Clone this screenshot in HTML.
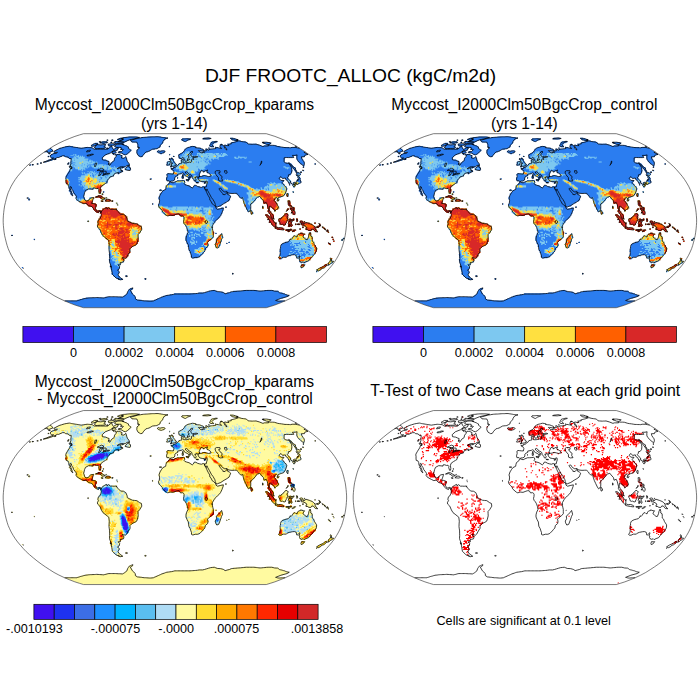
<!DOCTYPE html>
<html><head><meta charset="utf-8"><title>DJF FROOTC_ALLOC</title><style>
html,body{margin:0;padding:0;background:#fff}
body{width:700px;height:700px;position:relative;overflow:hidden;font-family:"Liberation Sans",sans-serif;color:#000}
svg{position:absolute;left:0;top:0}
.t{position:absolute;width:600px;text-align:center;white-space:nowrap;line-height:1}
</style></head><body>
<svg width="700" height="700" viewBox="0 0 700 700">
<defs><path id="co" d="M-121,-69.3 -115.8,-72 -113.2,-72.8 -110.6,-73.6 -108.1,-74.1 -105.6,-74.5 -104.5,-74.3 -103.4,-74 -102.2,-73.8 -100.9,-73.6 -99.7,-73.4 -98.4,-73.2 -97.1,-73 -96,-72.8 -94.8,-72.6 -93.6,-72.4 -91.7,-72.7 -89.7,-73 -87.7,-73.3 -86.5,-73.2 -85.2,-73.1 -84,-73 -82.7,-72.9 -81.7,-72.2 -80.7,-71.5 -79,-71.5 -77.4,-71.5 -75.8,-71.5 -74.4,-71.5 -73,-71.5 -71.5,-71.5 -70.1,-71.5 -68.7,-71.5 -67.3,-71.5 -63.3,-74.7 -62.9,-73.6 -62.4,-72.4 -61.4,-71.1 -58.6,-72.9 -56.5,-72.9 -57.5,-70.6 -59.5,-70.1 -61.7,-69.7 -64.4,-67.8 -66.9,-66.8 -69.5,-65.8 -72.7,-62.9 -72.4,-60.9 -70.8,-60.6 -69.2,-60.4 -67.5,-59.6 -65.7,-58.9 -66.6,-56.3 -65.1,-55.3 -63.2,-58.3 -60.8,-59.9 -60.3,-62.4 -59,-63.9 -58,-66.3 -56.6,-66.2 -55.1,-66.1 -54,-65.5 -52.8,-64.9 -53.5,-62.7 -51,-62.4 -49,-64.2 -48.3,-61.4 -47.6,-59.4 -46,-57.3 -45.4,-55.8 -48,-55.1 -49.6,-53.9 -51.3,-53.9 -52.9,-53.9 -54.6,-53.9 -57.7,-52.1 -55.9,-52.5 -54.1,-52.9 -54.3,-51.1 -51.8,-49.5 -54.9,-47.9 -56.9,-46.8 -56.4,-48.4 -57.4,-48.1 -60.3,-47.1 -61.5,-45.2 -61,-44.9 -62.9,-44.3 -64.9,-43.8 -65.7,-42.4 -67,-41 -67.8,-39.9 -67.9,-38.1 -69.4,-37.2 -71.5,-35.9 -73.7,-34.3 -74.5,-32.3 -74.1,-29.1 -74.4,-27.3 -75.3,-27.2 -76.2,-30 -76,-31.3 -76.9,-32.3 -78.3,-32.1 -80.5,-32.8 -81.9,-32.6 -82,-31.4 -83.9,-31.7 -86.2,-31.9 -89.4,-30.2 -90.3,-28 -91.2,-24.3 -90.2,-20.8 -88.8,-19.6 -86.4,-20.2 -84.6,-22.6 -81.3,-23.2 -82.1,-20.5 -83.3,-17.3 -81.1,-17.1 -78.7,-16.2 -79.2,-13.5 -79.4,-11.9 -78.4,-10 -77,-9.5 -75.6,-10.2 -73.5,-9.3 -74.1,-7.8 -74.6,-9.2 -75.7,-9.6 -76.4,-8 -77.5,-8.4 -78.9,-9.1 -80.7,-10.8 -81.4,-11.9 -82.8,-14 -84.7,-14.6 -86.5,-15.1 -88.6,-17.5 -91,-16.9 -93.3,-18 -95.9,-19.4 -98,-20.8 -98.8,-22.1 -98.4,-24.3 -99.9,-26.4 -101.2,-28 -101.9,-30 -103.2,-31.8 -103.5,-33.7 -104.5,-34.2 -104.9,-32.7 -104.1,-30.2 -103.2,-28 -102.5,-25.9 -102,-24.8 -102.7,-25.1 -104,-26.7 -103.9,-28.4 -105.5,-30 -105,-30.9 -105.9,-32.6 -106.2,-35 -107,-36.7 -108.7,-37.2 -108.9,-39.5 -108.8,-40.7 -109.1,-42.6 -109,-43.5 -107.4,-46.3 -105.2,-49.7 -104.4,-52 -102.7,-52.4 -103.3,-54 -104.8,-54.7 -104,-56.8 -104,-58.6 -103.8,-60.4 -103.7,-62.2 -105.6,-62.2 -106.7,-63.6 -109.3,-63.9 -110.5,-64.9 -112.4,-64.9 -116.2,-63.2 -117.7,-63.2 -119.9,-61.9 -123.7,-60.5 -128,-59.1 -131.7,-58.4 -128.2,-59.7 -123.2,-61.7 -121.2,-62.7 -123.3,-62.7 -124,-63.4 -124.7,-64.4 -124,-65.8 -121.4,-67 -118.3,-67.5 -117.4,-68.3 -119.8,-68.2 -120.9,-68.5ZM-105.7,-54.4 -103.7,-54 -103.3,-52.1 -104.4,-52.3 -105.6,-53.7ZM-43.8,-70.3 -47.2,-67.1 -49.3,-65.8 -51,-66.1 -52.9,-67.5 -54.7,-67.8 -56.6,-68.1 -56.3,-69 -54.8,-69.1 -53.3,-69.2 -51.5,-71.1 -52.7,-71.4 -53.8,-71.8 -53.8,-73.3 -55.3,-73.3 -56.8,-73.3 -58.3,-73.3 -59.3,-73.8 -60.3,-74.2 -59.1,-76 -57.5,-76.3 -55.9,-76.6 -54.5,-76.5 -53.1,-76.4 -52.1,-76.1 -51,-75.7 -49.8,-75.2 -48.5,-74.7 -47.5,-74.1 -46.4,-73.6 -46.5,-72.4 -45.4,-71.6 -44.2,-70.8ZM-79.8,-74.7 -80.2,-72.7 -78.8,-72 -77.3,-72.1 -75.9,-72.2 -74.4,-72.3 -72.6,-72.3 -70.7,-72.4 -69.2,-73.3 -70.2,-73.8 -71.1,-74.2 -69,-76 -71.1,-76.2 -72.7,-75.9 -74.2,-75.7 -75.9,-75.9 -77.6,-76ZM-83.9,-75.1 -83.1,-74.4 -81.1,-74.7 -77.1,-76.4 -77.2,-77.1 -78.8,-77.1 -80.4,-77.1 -82.5,-76ZM-57.1,-78.9 -55.8,-78.9 -54.4,-78.9 -53.1,-78.8 -51.7,-78.8 -50.4,-78.8 -47.9,-79.8 -45.2,-80.9 -43.4,-81.3 -41.7,-81.7 -40,-82 -38.4,-82.5 -36.9,-82.9 -35.4,-83.3 -36.4,-83.4 -37.4,-83.5 -38.4,-83.6 -39.5,-83.7 -40.6,-83.7 -41.7,-83.7 -42.8,-83.7 -44,-83.7 -45.1,-83.7 -46.4,-83.6 -47.7,-83.5 -49,-83.3 -50.3,-83.2 -51.6,-83.1 -53.6,-82.4 -52.6,-82 -51.6,-81.7 -53.9,-80.2ZM-60,-79.2 -59.8,-78.2 -59.5,-77.3 -58.2,-77.3 -56.9,-77.3 -55.6,-77.3 -54.3,-77.3 -53,-77.3 -51.7,-77.4 -50.8,-78.3 -52,-78.5 -53.1,-78.6 -54.1,-78.8 -55.2,-78.9 -56.3,-79.1 -57.5,-79.1 -58.8,-79.2ZM-74,-78.5 -75.1,-77.7 -73.7,-77.6 -72.3,-77.5 -70.9,-77.4 -69.1,-77.8 -67.2,-78.1 -67.8,-78.9 -69.4,-78.9 -70.9,-78.9 -72.5,-78.7ZM-66.7,-76.6 -66.4,-75.6 -66,-74.7 -64.1,-74.9 -62.2,-75.1 -59.4,-76.4 -60.5,-76.7 -61.7,-77 -63.4,-76.9 -65.1,-76.8ZM-57.4,-81.3 -56.6,-81 -55.7,-80.7 -54.9,-80.4 -53.3,-80.7 -51.8,-80.9 -51.7,-82 -52.7,-82.2 -53.8,-82.3 -54.8,-82.4ZM-62.6,-69.4 -62.7,-67.1 -61.1,-67.3 -59.5,-67.5 -58.6,-68.2 -60.3,-69.6ZM-49.9,-51.3 -46.9,-50.3 -44.8,-50.2 -44.3,-51.3 -44.5,-53 -46.1,-53.7 -45.4,-55.4 -47.2,-54.4 -49.3,-52.1ZM-44.5,-80.4 -43.7,-79.6 -42.9,-78.7 -41.7,-78.7 -40.4,-78.6 -39.2,-78.6 -38,-78.5 -37.5,-77.3 -37,-76 -37.1,-73.8 -35.2,-72.9 -37.9,-70.6 -38.1,-67.8 -36.8,-65.3 -35.5,-64.6 -34.3,-63.9 -32.7,-64.1 -31.2,-66.3 -29,-68.7 -27.4,-69.1 -25.9,-69.5 -24.1,-70.5 -22.4,-71.5 -21,-71.7 -19.6,-71.8 -18.1,-72 -16.6,-72.8 -15,-73.6 -14.6,-75.6 -12.2,-77.7 -11.8,-79.4 -10.1,-81.7 -8.5,-82.2 -6.9,-82.7 -8.1,-82.8 -9.2,-82.9 -10.3,-83 -11.5,-83.1 -12.5,-83.3 -13.6,-83.5 -14.7,-83.7 -15.7,-83.8 -16.8,-84 -17.9,-84 -19,-84 -20.2,-83.9 -21.3,-83.9 -22.4,-83.9 -23.7,-83.8 -25,-83.7 -26.2,-83.6 -27.5,-83.5 -28.8,-83.5 -30.1,-83.4 -31.4,-83.3 -32.9,-83.1 -34.4,-82.8 -36,-82.6 -37.4,-82.3 -38.9,-81.9 -40.7,-81.4 -42.6,-80.9ZM-17.7,-69.2 -16.1,-67.8 -13.6,-67.2 -12.1,-67.7 -10.6,-68.1 -9.7,-69.2 -11.1,-69.9 -12.9,-69.8 -15.1,-69.3 -16,-70.1ZM-79.4,-23.5 -76.4,-25 -74.1,-24.6 -72,-23.2 -69.5,-21.8 -72.6,-21.3 -73.4,-22.6 -76.5,-24 -78.5,-23.5ZM-70,-19.8 -67.9,-21.5 -65.6,-21.3 -64.2,-20.1 -66.7,-19.4 -67.7,-19.6ZM-73.6,-19.8 -71.7,-19.6 -71.9,-19.2 -73.5,-19.4ZM-63.1,-19.9 -61.7,-19.8 -61.9,-19.4 -63.2,-19.4ZM-73.5,-9.3 -71.6,-11.5 -70.2,-12.2 -68.2,-13.2 -67.8,-11.6 -66.3,-12.9 -64.5,-11.4 -62.6,-11.4 -60.7,-11.3 -58.8,-11.5 -57,-9.2 -54.3,-6.5 -51.4,-6.3 -49.1,-4.9 -47.7,-1.6 -47.7,0 -45.8,1.1 -42.4,2.7 -40.3,2.9 -38.1,3.1 -35.2,5.2 -33.5,5.9 -33.1,8.6 -35.1,11.9 -36.9,14 -36.8,16.2 -36.7,18.3 -37.5,21.6 -38.3,23.7 -40.1,24.8 -42.8,25.9 -44.9,28 -44.8,30.7 -46.5,33.4 -48.3,36.7 -49.5,37.7 -51.4,37.2 -52.7,36.9 -50.9,39.4 -51.4,41.3 -53.1,41.7 -54.8,42 -54.5,44.2 -56.8,44.2 -55.2,46 -55.8,48.4 -57.4,49.5 -55.4,51.1 -56.9,54.2 -55.5,56.3 -52.1,58.7 -54.8,59.2 -56.8,58.2 -58.9,57.3 -62.5,53.7 -63.1,50 -63.5,47.6 -63.9,45.2 -64.7,43.1 -65.4,41 -65.2,37.7 -65.3,35.6 -65.3,33.4 -65.6,31.3 -65.9,29.1 -65.8,26.4 -65.6,23.7 -66.1,19.7 -67.8,18.3 -69.8,16.7 -71.9,15.1 -73.5,12.4 -75.1,8.6 -77.3,6.5 -77.4,4.6 -76.3,3.2 -77,2.4 -76.8,0.5 -76.3,-0.9 -75.1,-1.6 -73.9,-4.3 -73.6,-6.5 -74.1,-7.8ZM130.4,-68.7 129,-68.4 133.1,-66.3 132,-66 131,-65.7 129.9,-65.3 129.5,-63.9 128,-63.9 126.5,-63.9 126.9,-61.9 128.3,-59.9 129.2,-58.7 129.5,-56.8 128.8,-54.7 126.1,-56.8 123,-59.9 122,-61.7 121.9,-63.9 122.2,-65.8 120.1,-65.3 117.5,-65.3 118.9,-63.2 117.4,-63.1 115.9,-63.1 113.7,-63.1 111.6,-63.2 109.2,-62.9 109.2,-60.9 109.1,-58.9 111,-57.6 113.7,-57.3 115,-55.8 116.6,-53.2 117,-50.6 116.6,-47.9 115.2,-46.1 113.6,-45.9 113.4,-44.2 112.2,-42.9 115.3,-39.9 116.1,-38.1 114,-37.1 112.8,-39.9 111,-41 110.4,-42.7 107.7,-42.1 106.1,-44.1 104.1,-42.3 105.9,-40.4 109.1,-40.2 107.3,-38.1 109.6,-35 111.2,-33.4 111.9,-31.8 111.2,-29.6 110.4,-27.3 108.6,-24.8 105.9,-24 103.3,-23 102.8,-21.9 101.4,-23.4 99.9,-22.1 99.2,-20.3 101.3,-17.8 103.5,-14 103.4,-12.4 101.3,-11.1 99.8,-9.4 99.5,-11.1 97.1,-13.2 95.5,-14.4 94.6,-14.4 94.2,-11.3 95.4,-8.9 96.6,-7.3 98.4,-5.2 98.7,-2.7 99.4,-1.5 96.6,-3 95.6,-5.9 93.5,-8.9 93.6,-11.3 92.9,-13.7 92.3,-16.2 91.3,-18.3 89.1,-17.3 88.6,-19.9 86.2,-22.6 84.9,-24.3 82.7,-23.5 81.4,-22.6 80.9,-21.5 79.2,-19.6 77.6,-17.8 75.7,-16.7 75.9,-14 75.8,-11.1 75.1,-9.9 73.7,-8.7 72.5,-10.5 70.8,-14 69.3,-17.3 68.3,-20.5 68,-23 66,-22.4 64.4,-24 63.5,-25.6 62.2,-26.7 61.7,-27.4 59.4,-27.3 57.1,-27.2 55.1,-27.4 53.1,-27.7 52.2,-29.1 49.9,-28.7 47.5,-30.1 45.8,-32.6 44.4,-32.3 44,-31.8 44.8,-30.7 46.4,-28.7 47.8,-27.2 48,-26.2 50.2,-26 52.2,-28.4 52.6,-26.4 54.6,-25.4 55.8,-24.3 54.8,-22 54.2,-20.5 52,-18.9 49.2,-17.3 45.9,-15.1 42.6,-13.8 41.2,-13.7 40.4,-16 40,-17.8 38.2,-21 36.5,-23.2 34.5,-27 32.7,-30.2 32,-31.8 31.6,-30.2 30.3,-31.1 29.8,-32.3 29.5,-33.6 31.3,-33.7 31.7,-35.6 32.4,-37.7 32.1,-39.7 29.5,-38.9 27.3,-39.1 25,-39.6 23.5,-41.5 23.1,-42.9 23.7,-43.6 25.4,-44.2 27.1,-44.4 29.1,-45.2 31.4,-44.7 33.7,-44.1 36.2,-44.7 35.5,-46.3 33.5,-47.7 31.9,-48.4 32.2,-50 32.9,-50.6 31.3,-50.1 29.7,-49.7 28.6,-48.4 28.5,-49.5 26.2,-50.1 25.4,-48.7 24.6,-46.8 24.1,-45.6 25.2,-44.4 23.2,-43.5 21,-44 20.9,-43.1 19.9,-43.4 20.5,-42 21.3,-41 20.6,-39.4 19.5,-39.7 18.8,-41.3 17.4,-42.8 16.9,-44.7 16.5,-45.5 13.8,-46.8 12.4,-48.7 11.7,-49.1 10.5,-48.8 10.7,-47.6 11.7,-46.8 13.9,-45.1 16.2,-43.3 14.9,-43.6 14.5,-42.6 15.1,-42 14.2,-41 13.9,-43.1 12.2,-44.2 10.7,-44.9 9.1,-46.2 8.8,-47.3 7.5,-47.8 6.5,-47.2 4.1,-46.7 2.8,-46.5 2.8,-45.1 0.7,-44.2 -0.3,-42.6 0,-41.7 -0.6,-40.5 -2,-39.7 -4,-39.6 -4.9,-38.8 -5.8,-39.9 -8,-39.9 -8.4,-41.7 -7.7,-44.2 -8,-46.3 -6.9,-47.1 -5.2,-46.9 -3.5,-46.7 -1.5,-46.6 -1,-49 -2.1,-50.9 -3.9,-51.6 -3.8,-52.2 -1.5,-52.2 -1.2,-53.4 0.2,-53.2 1.3,-54.2 2.9,-55.2 3.9,-56.8 5.6,-57.3 7.1,-57.7 6.5,-59.4 6.4,-60.9 8.2,-61.6 8.3,-59.9 8,-58.6 8.8,-57.8 11.2,-57.8 13,-58.2 14.8,-58.6 16,-58.2 16.7,-59.4 16.4,-60.9 17.5,-61.6 19,-61.2 18,-63.1 19.7,-63.2 21.4,-63.4 22.9,-63.9 21.2,-64.4 19.4,-64.1 17.5,-63.9 16.1,-64.9 15.9,-66.8 18.1,-68.7 17.2,-69.5 15.6,-68.7 15.4,-67.6 13.1,-65.8 13.1,-64.7 14.3,-63.9 12.8,-61.9 12.6,-60.1 11.3,-59.4 10.3,-59.3 9.8,-60.4 8.6,-62.9 8,-63.4 6.2,-62 4.2,-62.7 3.8,-64.9 3.7,-65.8 6.3,-67.3 8,-68.2 9.3,-69.8 10.5,-71.8 11.8,-72.5 13.1,-73.2 14.4,-73.5 15.7,-73.8 17.4,-74.3 19.3,-74.1 21.2,-73.6 20.6,-73.1 22.8,-72.8 24.9,-72.6 26.7,-71.9 28.5,-71.2 29.2,-70.1 27.6,-69.7 26.1,-69.9 24.6,-70.1 23.5,-70.1 25.4,-68.2 27.5,-67.6 27.6,-68.5 29.5,-68.2 28.7,-69.7 30.1,-69.8 31.5,-69.8 30.8,-71.8 32.2,-71.7 33.1,-70.4 35.1,-71.5 36.4,-71.7 37.8,-71.8 39.4,-72 41,-72.3 41.9,-73.2 43.4,-72.9 45,-72.6 46.7,-72.1 45,-74.2 45.6,-76 48,-75.8 49.1,-74.2 50.2,-72 52.1,-70.6 51.3,-72.4 49.5,-74.7 49.8,-75.6 52.2,-75.1 54.2,-75.1 52.8,-76.4 54,-76.5 55.2,-76.7 56.4,-76.8 55.9,-77.7 56.9,-77.9 58,-78.2 59,-78.4 60,-78.6 61,-78.9 62.1,-79.3 63.1,-79.6 64,-79.9 67,-79.1 68.5,-78.9 70,-78.7 71.5,-78.5 73.2,-76.7 74.6,-76.6 76,-76.5 77.4,-76.4 78.6,-76.5 79.9,-76.5 81.1,-76.6 84.4,-75.6 88,-74.2 89.5,-74.7 90.9,-74.7 92.2,-74.7 93.6,-74.7 93,-75.6 94.6,-75.5 96.2,-75.4 97.8,-75.4 99.4,-75.3 102.9,-74.2 104.7,-73.9 106.5,-73.7 108.3,-73.4 110.1,-73.1 111.4,-73.1 112.9,-73 114.4,-73 115.8,-72.9 117.2,-73.3 119.1,-73.3 120.9,-73.2 122.9,-72.8 124.8,-72.4M-124.8,-72.4 -123.7,-71.8 -123.2,-71.2 -122.7,-70.6 -121.9,-69.7 -125.7,-68.2 -127.8,-68.5 -127.6,-69.7 -130.4,-68.7M-4.7,-53.7 -2.5,-54.3 -0.7,-54.6 1.1,-54.9 1.4,-56.5 0.2,-57 -0.2,-58.3 -1.3,-59.4 -1.7,-59.9 -1.6,-61.5 -3.1,-61.6 -2.5,-62.5 -3.9,-62.5 -4.5,-61.4 -4.4,-59.9 -3.8,-58.7 -2.4,-57.8 -2.4,-57.1 -3.6,-57.1 -3.4,-56.1 -4.2,-55.6 -2.9,-55.2 -3.7,-54.7ZM-8.2,-55.4 -5.1,-56 -4.8,-58 -4.4,-58.3 -5,-59.1 -6.6,-59.1 -8,-58 -7.5,-57 -8.4,-55.8ZM34.7,-74.7 36,-74.1 37.4,-74 38.8,-73.9 37,-76 37.8,-76.8 38.5,-77.7 39.5,-78.1 40.5,-78.5 41.5,-78.8 42.5,-79.2 41.1,-79.4 40,-79.2 38.9,-78.9 37.8,-78.7 36.7,-78.5 36.1,-77.5 35.4,-76.4ZM6.6,-80.9 8,-80.2 9.3,-79.4 10.6,-79.1 11.7,-79.8 12.8,-80.5 13.9,-80.9 14.9,-81.3 16,-81.7 14.6,-81.8 13.2,-81.9 11.8,-82 10.6,-81.9 9.5,-81.8 8.3,-81.8 7.1,-81.7ZM57.3,-80.9 59.2,-80.5 61.3,-80.2 62.3,-80.5 63.3,-80.9 60.7,-81.7 58.3,-82.4 56.8,-82.4 55.4,-82.4ZM87.6,-78 91.8,-76.4 94,-76.2 94.8,-76.7 95.6,-77.2 96.3,-77.7 94,-78.1 91.7,-78.5 90.5,-78.5 89.2,-78.5 87.9,-78.5ZM27.7,-81.9 28.9,-81.8 30.1,-81.8 31.4,-81.7 32.6,-81.7 33.8,-81.9 35.1,-82 36.3,-82.2 34.9,-82.5 33.4,-82.9 32.4,-82.8 31.3,-82.6 30.2,-82.5 29.1,-82.4ZM113.8,-58.1 115.8,-56.8 118.6,-53.7 120.5,-52.7 120.8,-50.6 121.8,-49.5 120.7,-49.5 119.2,-51.6 116.7,-54.7 114.4,-57.1ZM122.1,-44.7 122.3,-45.8 124.6,-45.2 125.6,-46.6 124.5,-47.6 121,-49 121.9,-46.8 121.4,-46.3 121.4,-45.6ZM123.4,-44.5 125.1,-42.6 125.2,-41 126.2,-38.5 125.7,-37.7 124.9,-37.4 123.4,-37.3 122.8,-36.1 121.6,-37.2 119.6,-36.7 118.3,-36.7 118,-37.2 119.2,-38.3 121.9,-38.5 122,-40.1 123.3,-40.3 123.6,-41.8 122.8,-43.6 123,-44.4ZM117.6,-36.1 118.9,-36.2 119.7,-35.4 119.8,-34 119,-33.6 118,-35 117.5,-35.8ZM119.6,-36.7 121.3,-36.9 121.5,-36.1 120.6,-35.4 119.8,-35.9ZM112.3,-27.2 113.2,-27 113,-23.7 112.1,-24.6 111.8,-25.9ZM102,-20.8 103.5,-21.6 104.1,-21 103.4,-19.7 102.2,-20.1ZM75.8,-10.5 77.2,-9.2 77.8,-7.5 77.1,-6.7 76.2,-6.5 75.9,-8.6ZM113.2,-19.9 114.8,-19.8 115,-17.8 114.7,-16.2 115.8,-15.1 117.4,-14 117,-13.7 115.4,-14.9 114.2,-14.9 113.3,-16.2 113.4,-17.8ZM116.1,-7.5 117.4,-9.4 119.2,-10.5 120.3,-8.6 120.1,-6.8 119.3,-6.1 118,-7 117.8,-8.3ZM117.7,-13.5 118.9,-13.3 119.3,-11.3 118.4,-11 118.1,-12.4ZM115.6,-12.7 116.8,-12.4 117.3,-10.8 116.9,-9.9 116.3,-10.8 115.8,-11.3ZM111.4,-9.1 113.4,-11.3 113.1,-12.2 112.5,-10.8 111.4,-9.4ZM103.9,-1.6 104.6,-2.2 105.9,-1.7 106.2,-2.8 107.7,-3.5 108.6,-5 110,-5.9 111.1,-7.5 112,-6.7 113.6,-5.6 112.4,-4.6 112.2,-2.7 113.5,-1.1 112.1,-0.5 112.1,1.1 110.9,2.2 110.6,4 109.2,4.4 107.7,3.6 106.6,3.8 105.1,3.1 104.9,1.4 104,0ZM90.8,-6 92.9,-5.6 94.8,-3.5 95.8,-2.4 98.2,-0.5 99,1.1 99.6,2.2 101,3.2 100.8,6.3 99.6,6.4 97.5,4.3 96.1,2.2 94.4,-0.5 93.9,-1.9 92.5,-3.6 91,-5.2ZM100.1,7.3 101.4,6.5 103.3,7.1 105.4,6.9 107.2,7.4 108.9,8.4 108.7,9.4 105.5,8.9 102.7,8.4 101.2,8ZM114.3,-0.9 115.2,-1.4 117.3,-1 119.2,-1.7 118.8,-0.4 115.4,-0.4 114.5,0.9 115.9,1.1 117.6,0.9 116.3,1.9 115.9,2.2 116.6,3.5 117.2,4.5 116.7,5.9 115.9,5.2 115.3,4.1 114.8,3.1 114.7,5.9 113.8,5.9 113.9,3.8 113.3,2.9 114.3,0.1ZM124.9,0.9 126.4,0.4 127.8,0.9 128.7,3.6 131.1,1.7 134.4,2.8 137.7,4.1 139.1,5.7 140.7,6.5 139.9,7.3 141.1,9.5 142.9,11.2 140.5,11 138.8,8.8 137,8.3 135.9,9.9 134,9.8 132.2,8.7 131.2,9.1 131.1,7.5 132,7.2 131.4,5.9 129.1,4.7 127.2,4.1 126.6,4.3 125.8,3 127.5,2.5 125.9,2.2 124.8,1.5ZM117.2,11.1 118.8,9.3 120.7,9.1 119.7,10.2 117.7,11ZM110.9,9.1 113.1,8.9 116.8,8.8 116.7,9.5 113.1,9.5 111.2,9.7ZM113,10.2 114.7,10.6 113.9,11.1 113,10.6ZM121.6,-1.9 122.5,-1.6 122.8,-0.3 122.1,0.9 121.8,-0.5ZM122,3.5 124.4,3.2 124.7,4 122.3,3.8ZM141.4,6.1 143.3,5.9 144.8,4.5 145.1,5.4 143.8,6.7 141.8,6.8ZM143.8,2.8 145.4,3.8 145.8,5.1 145.1,4.3 143.8,3.1ZM147.3,5.9 148.4,7 148,7.4 147.3,6.5ZM151.5,10 152.7,10.6 152.2,10.8 151.5,10.4ZM149.4,7.9 151.2,8.9 150.7,9.2 149.3,8.2ZM157.3,16.2 157.9,16.8 157.5,17.3 157.1,16.6ZM153.6,21.8 155.5,23.5 155.8,24.2 154.6,23.5 153.5,22.2ZM166.8,18.9 167.9,18.9 167.7,19.6 166.6,19.6ZM106.1,24.3 106.7,23.5 109.2,22.2 111.5,21.6 113.4,21.1 115,19.4 115.1,18.3 116.3,18.8 117.3,17.7 118.6,15.6 120.1,15 121.1,16.1 122.3,16.1 122.7,14.6 123.7,13.4 125.6,13 125.7,12.3 128.2,13.2 129.6,13.2 128.7,14.6 128,16.2 129.6,17.5 131.1,18.9 132.5,18.9 133.6,16.2 134.1,13.7 135.2,11.5 135.9,13.8 135.8,15.4 137.2,16.2 137.4,18.9 137.3,20.4 138.7,21.6 139.5,23.9 140.4,25.3 141.7,27.3 141.6,29.6 141,31.3 139.2,34 137.1,35.9 135.3,38.1 133.6,40.2 131.2,41 129.2,42.1 128.3,41.2 126.9,41.8 125.1,41.1 124.6,39.9 125,38.6 124,38.3 125,35.8 125,35.1 122.4,37.5 121.9,37.5 121.6,35.6 121.3,34.7 119.4,34 117.5,34.2 114.5,34.8 112.4,35.6 111.5,36.6 108.4,36.6 106.1,37.7 104.4,37.6 103.7,37 105.2,34.5 105.3,32.3 105.3,30.2 105.1,28 105.7,27.5 105.6,25.9ZM126.7,44 128.1,44.3 129.8,44.1 127.9,46.5 126.3,47 126,45.8ZM155.7,37.1 156.5,38.1 156.6,39.4 156.5,40.5 158.7,40.6 157,42.3 155.9,42.6 154.6,43.9 152.7,44.8 153.7,43.3 153.2,42.5 154.9,41.2 155.9,39.4 155.4,38ZM151.4,43.6 152.2,44.4 149.9,46.3 148.8,47.2 147.1,47.7 145.2,49.4 143.5,50.1 142.2,49.7 141.7,49.3 144.7,47.4 147.6,46.1 149.4,44.9 150.8,44ZM46.7,12.9 47.7,16.7 46.6,18.9 45.4,22.6 43.8,26.8 41.9,27.5 40.7,25.3 40.4,23.5 41.7,21.3 41.4,18.5 43.4,16.9 45.4,14.6ZM29.8,-32.3 29.5,-33.6 28.2,-34 26.5,-33.3 24.6,-33.7 22.8,-34.2 20.9,-35.3 19.5,-35.5 18.3,-33.4 17.4,-32.7 14.1,-34.8 11.8,-35.5 10,-36.1 9.2,-37 9.9,-38.3 9.4,-39.8 8.7,-40.2 6.2,-39.9 4.5,-39.8 2.7,-39.8 0,-38.7 -1.8,-37.8 -4.7,-38.7 -5.4,-38.4 -6.1,-36.7 -8.4,-35 -9,-32.9 -9.2,-31.3 -12,-29.9 -13.4,-28 -14.9,-25.6 -15.9,-22.6 -15.3,-20.5 -15.6,-17.3 -16.5,-15.8 -15.8,-13.5 -14.2,-11.9 -12.6,-10 -12.4,-8.8 -10.9,-7.4 -8.6,-5.4 -7.1,-4.7 -4.8,-5.5 -1.9,-5.2 1,-6.3 2.4,-6.8 4.3,-6.8 5.7,-4.6 7.6,-4.9 8.6,-4.3 9.2,-3.2 9.1,-1.1 8.6,0.8 9.1,2.7 10.5,4.3 11.4,5.9 11.7,6.5 12.6,9.2 13.1,11.9 11.8,14.6 11.1,17.3 11.1,19.4 12.2,22.1 13.5,24.5 13.9,28.6 15.2,30.9 16,33.4 16.6,35 16.6,36.9 18,37.5 20.3,36.7 23,36.7 24.9,35.9 27.4,33.4 28.4,32.1 29.9,30.5 30.5,27.9 32.8,25.9 33.1,23.7 32.6,21.6 34.3,19.9 36.7,18.1 38.4,16.2 38.4,14 38.4,11.9 37.9,9.7 37.4,7.5 36.9,6.5 37.6,4.9 39.1,2.2 40.5,0.3 42.4,-1.6 44.3,-3.2 45.7,-5.1 47.1,-8.1 48.2,-11.1 48.5,-12.7 46,-12.2 42.7,-11.3 41.1,-12.4 40.9,-13.7 38.7,-16 37.3,-16.9 36.2,-19.4 35,-20.5 34.8,-22.6 33.2,-25.3 31.9,-28 30.9,-30.2ZM11.1,-41 13.7,-41.2 13.6,-39.6 11.1,-40.5ZM7.2,-44.2 8.5,-44.2 8.5,-42.3 7.5,-42ZM7.5,-45.8 8.2,-46.2 8.2,-44.7 7.6,-44.9ZM21.1,-38.3 23.6,-38.1 23.4,-37.7 21.2,-38ZM29,-37.7 30.9,-38.4 30.6,-37.5 29.3,-37.3ZM-110.3,80.2 -109.1,80.2 -107.8,80.2 -106.6,80.2 -105.4,80.2 -104.2,80.2 -102.9,80.2 -101.7,80.2 -100.5,80.2 -99.3,80.2 -98,80.2 -97.3,79.9 -96.5,79.7 -95.7,79.4 -95,79.2 -94.2,78.9 -93.3,78.7 -92.5,78.5 -91.6,78.2 -90.8,78 -89.9,77.7 -88.8,77.6 -87.7,77.5 -86.6,77.3 -85.5,77.2 -84.3,77.1 -83.1,77.1 -81.9,77 -80.6,77 -79.4,76.9 -78.2,76.8 -76.8,76.9 -75.3,77 -73.9,77.1 -72.5,77.2 -71.1,77.3 -70.2,77 -69.1,76.8 -68.1,76.5 -67.1,76.2 -66,76 -64.7,76 -63.4,76 -62.1,76 -60.7,76 -59.4,76 -58,76.1 -56.6,76.2 -55.2,76.2 -53.9,76.3 -52.5,76.4 -51.3,75.8 -50.2,75.1 -49.1,74.2 -48,73.3 -47.3,71.1 -46.5,69.9 -45.7,68.7 -44.5,68.2 -43.3,67.6 -42,67.1 -42.3,68.2 -43.4,69 -44.5,69.7 -43.5,71.5 -42.5,73.3 -39.6,76 -39.5,78.1 -37.4,79.4 -36,79.5 -34.6,79.7 -33.3,79.8 -32,80 -30.6,80.2 -29.4,80.2 -28.1,80.3 -26.8,80.4 -25.6,80.5 -24.3,80.5 -22.9,80.4 -21.4,80.2 -20.2,79.6 -19,79.1 -17.7,78.5 -16.6,78 -15.5,77.5 -14.3,77 -13.1,76.4 -11.9,76 -10.6,75.6 -9.4,75.1 -8.1,74.7 -6.5,74.5 -5,74.3 -3.4,74.1 -1.7,73.7 0,73.3 1.4,73.3 2.7,73.3 4.1,73.3 5.5,73.3 6.9,73.3 8.2,73.3 9.6,73.3 11,73.3 12.3,73.3 13.7,73.3 15.1,73.3 16.5,73.2 17.9,73.1 19.3,73 20.7,72.9 22.5,72.7 24.3,72.4 26,72.4 27.7,72.4 29.7,71.9 31.6,71.3 33.6,70.7 35.7,70.1 37.5,69.9 39.4,69.7 40.9,70.3 42.4,70.9 44.1,71 45.8,71.1 47.3,71.5 48.8,72 50.2,73.1 52.3,72.5 54.4,72 56.4,71.1 57.9,70.9 59.4,70.8 60.9,70.7 62.5,70.5 64,70.4 65.5,70.3 67.1,70.1 68.6,70 70.1,69.8 71.7,69.7 73.1,69.7 74.6,69.7 76,69.7 77.4,69.7 78.9,69.7 80.2,69.8 81.5,70 82.7,70.1 84,70.3 85.3,70.4 86.9,70.3 88.5,70.1 90,70 91.6,69.8 93.2,69.7 95,69.7 96.8,69.7 98.2,70 99.5,70.4 101.2,70.5 102.8,70.6 103.8,71.3 104.6,72 105.7,72.3 106.7,72.5 107.7,72.8 108.7,73.1 109.7,73.3 110.7,73.8 111.7,74.2 113.1,74.5 114.4,74.7 112.2,76 109.1,76.8 106,77.7 100.7,79.8 101.6,80 102.5,80.3 103.3,80.5 104.7,80.5 106.1,80.4 107.5,80.3 108.9,80.2 110.3,80.2M-146.4,-21.1 -145.6,-21.8 -145.1,-21.1 -145.9,-20.5ZM-148.1,-22.6 -147.2,-22.9 -146.6,-22.6 -147.4,-22.4ZM-87.4,0.6 -86.8,0.2 -86.2,0.6 -86.8,1.1ZM-49.5,55.5 -48.6,55 -47.3,55.5 -48.2,55.9ZM-30.3,58.2 -29.5,57.9 -28.6,58.2 -29.4,58.6ZM57.1,53 58,52.5 58.6,53 57.6,53.4ZM50.3,-13.5 50.9,-13.7 51.6,-13.5 51,-13.3ZM51.6,22.7 51.9,22.5 52.2,22.7 51.9,23ZM53.7,21.9 54,21.6 54.2,21.9 53.9,22.2ZM87.7,-14.6 88.1,-14.3 88.1,-12.4 87.7,-12.5ZM-15.6,-30.4 -14.4,-30.7 -13.2,-30.4 -14.4,-30.1ZM-22.8,-16.7 -22.4,-17.1 -21.9,-16.7 -22.4,-16.3ZM-25.1,-41.5 -24.3,-41.7 -23.6,-41.5 -24.4,-41.3ZM-5.5,-65.8 -5.2,-66.1 -4.9,-65.8 -5.2,-65.6ZM-6,-74.2 -5.6,-74.4 -5.2,-74.2 -5.6,-74.1ZM120.3,-74.4 120.5,-74.7 121.5,-74.4 121.4,-74.1ZM125.2,-48.4 125.9,-48.8 127,-48.4 126.3,-48.1ZM127.4,-50.3 127.9,-50.6 128.8,-50.3 128.3,-50.1ZM127.9,-53.5 128.2,-53.8 129.1,-53.5 128.8,-53.2ZM-134.8,-57.6 -133.7,-57.9 -133,-57.6 -134.2,-57.4ZM-138.1,-56.7 -137.1,-56.9 -136.6,-56.7 -137.5,-56.5ZM-143,-56 -141.9,-56.2 -141.3,-56 -142.4,-55.8ZM-145.7,-55.6 -144.8,-55.8 -144.4,-55.6 -145.3,-55.4ZM139.8,-56.7 140.1,-56.9 140.9,-56.7 140.5,-56.5ZM-120.4,-61.4 -119.1,-61.9 -118.9,-61.4 -120.2,-60.9ZM-126.4,-67.2 -125.2,-67.4 -124.6,-67.2 -125.8,-66.9ZM-127,-64 -126.2,-64.3 -126.1,-64 -126.9,-63.7ZM-106.7,-57.9 -105.8,-57.8 -106.9,-56 -107.3,-56.6ZM-54.4,-49.9 -53.6,-50.1 -52.9,-49.9 -53.7,-49.7ZM-53.3,-53.2 -52.2,-53.4 -51.3,-53.2 -52.4,-52.9ZM-58.6,-11.2 -58.2,-11.5 -57.8,-11.2 -58.2,-10.9ZM-72.6,-26.3 -72.2,-27.1 -72,-26.3 -72.4,-25.6ZM-72,-28.6 -71.5,-28.8 -71,-28.6 -71.5,-28.4ZM-69.2,-22.9 -68.7,-23.1 -68.3,-22.9 -68.7,-22.6ZM-58.2,-17.5 -58,-17.7 -57.7,-17.5 -58,-17.2ZM-57.8,-15.7 -57.6,-16 -57.4,-15.7 -57.7,-15.5ZM-56.5,58.1 -56.3,57.7 -55.7,58.1 -55.9,58.6ZM-64.6,45.1 -63.9,45.2 -63.5,46.7 -64.3,46.5ZM2.2,-42.7 2.6,-42.9 3.1,-42.7 2.6,-42.4ZM37.3,6.6 37.5,6.1 37.7,6.6 37.5,7.1ZM41,12.7 41.2,12.5 41.5,12.7 41.2,13ZM120.1,3.7 120.7,3.3 121.2,3.7 120.7,4ZM129.2,1.1 129.7,0.8 130.2,1.1 129.7,1.3ZM127.7,6.7 128.1,5.9 128.4,6.7 128,7.4ZM124.7,8.2 125.1,7.7 125.4,8.2 125,8.7ZM100.4,2.4 101.1,1.9 101.7,2.4 101.1,2.9ZM92.8,-1.2 93.1,-1.8 93.4,-1.2 93.1,-0.6ZM94.1,1.5 94.4,1 94.7,1.5 94.4,2ZM139.7,2.3 140.2,2 140.6,2.3 140.2,2.5ZM152.6,9.1 153.1,10 152.9,10.4 152.6,9.5ZM148.9,7.2 149.8,7.9 149.6,8.1 148.9,7.5ZM153.1,11.3 153.6,11.1 154,11.3 153.5,11.6ZM158.1,19.1 158.4,18.8 158.5,19.1 158.2,19.4ZM158.8,20.3 159,20 159.1,20.3 158.9,20.5ZM168.3,17.9 169,17.6 169.6,17.9 168.9,18.2ZM-163.6,14.8 -163,14.6 -162.4,14.8 -162.9,15ZM-140.8,19 -140.6,18.7 -140.3,19 -140.5,19.2ZM141.5,50.6 142,50.3 142.1,50.6 141.6,50.8ZM-152,47.4 -152,47.1 -151.5,47.4 -151.6,47.6ZM118.2,-28.6 118.2,-29.1 118.6,-28.6 118.5,-28.1ZM114.1,-36 114.4,-36.2 114.9,-36 114.6,-35.8ZM116.4,-37.1 116.4,-37.5 116.7,-37.1 116.7,-36.7ZM122.7,-41 122.7,-41.3 123,-41 123,-40.6ZM-1.2,-64.2 -1,-64.7 -0.8,-64.2 -1,-63.7ZM-5.7,-61.7 -5.4,-62.3 -5.2,-61.7 -5.5,-61.1ZM14.2,-61.4 14.4,-61.9 14.6,-61.4 14.5,-60.9ZM13,-60.6 13.1,-61.1 13.2,-60.6 13.2,-60.1ZM33.4,-72.5 33.8,-72.9 34.5,-72.5 34.1,-72.2ZM40.4,-73.3 40.6,-73.7 41.2,-73.3 41,-73ZM45.8,-76.2 46.2,-76.5 46.9,-76.2 46.5,-76ZM61.4,-80.5 61.9,-80.9 63.2,-80.5 62.7,-80.2ZM87.5,-78.1 87.7,-78.5 89.1,-78.1 88.9,-77.7ZM-37.2,-73.2 -36.6,-73.4 -36.3,-73.2 -36.9,-72.9ZM-54.4,-71.2 -53.6,-71.6 -53.3,-71.2 -54.1,-70.9ZM-61.8,-66.5 -61.1,-66.8 -60.6,-66.5 -61.4,-66.3ZM-59.9,-65.8 -59.4,-66.2 -59.3,-65.8 -59.9,-65.4ZM-66.3,-56.8 -65.7,-57 -65.3,-56.8 -65.9,-56.6ZM-52.5,-76.2 -51.5,-76.4 -50.9,-76.2 -51.9,-75.9ZM-68.4,-72.4 -67.3,-72.8 -66.9,-72.4 -68,-72ZM-75.8,-78.9 -74.5,-79.3 -74.2,-78.9 -75.5,-78.6ZM-64.2,-78.4 -63,-78.8 -62.7,-78.4 -63.9,-78ZM-61.3,-77.9 -60.6,-78.1 -60.3,-77.9 -61,-77.7ZM-63.5,-80.5 -62.2,-80.9 -61.7,-80.5 -63,-80.2ZM-68.2,-80.5 -67.2,-80.7 -66.7,-80.5 -67.7,-80.4ZM40.1,-49 41.5,-50 43.2,-50 44.9,-50 45.3,-48.4 43.7,-47.9 45.1,-45.8 47.2,-44.2 46.8,-42 48.1,-39.9 45.5,-39.6 43.6,-40.4 43.5,-43.1 41.2,-45.8 40.4,-47.4ZM-77.8,-50.3 -75.6,-51.4 -73.5,-52.4 -71.3,-51.6 -71.6,-50 -73.7,-50 -76.1,-50.2ZM-75,-49 -72.2,-49.5 -73.5,-47.4 -75.2,-45.2 -76.4,-44.9 -75.2,-47.4ZM-71.8,-49.5 -68.8,-49.5 -68.6,-47.9 -71.4,-46.3 -71.6,-47.9ZM-72.5,-45.2 -70.4,-45.8 -68.3,-46.3 -65.5,-46.8 -65.4,-47.4 -68.4,-47.2 -72.1,-45.6ZM-79.8,-57.3 -78,-57.6 -79.4,-54.2 -80.4,-54.2ZM-87.7,-70.1 -86.1,-70.4 -84.4,-70.6 -85.1,-69.2 -86.7,-69 -88.4,-68.7ZM-87.9,-65.3 -85.4,-66 -83,-66.6 -81.4,-66.3 -85.3,-64.9 -87.7,-64.7ZM30.3,0.3 31.5,-0.4 32.6,0.5 32.4,2.2 31,3 30.2,1.6ZM85,-55.3 85.7,-56.3 86.7,-57.8 86.9,-59.6 86.5,-59.6 86.1,-57.5 85.3,-55.8ZM49.6,-50 51.7,-50 52.3,-47.9 50.8,-47.2 49.8,-48.4Z"/><path id="ol" d="M91.4,-87 95.3,-85.8 100,-84.3 105.2,-82.3 110.7,-80 116,-77.5 120.9,-74.9 125.3,-72.1 129.6,-69.3 133.8,-66.4 137.8,-63.4 141.6,-60.3 145.3,-57.2 148.7,-54.1 151.7,-50.9 154.6,-47.6 157.3,-44.4 159.7,-41.1 161.8,-37.8 163.7,-34.5 165.3,-31.2 166.7,-28 167.8,-24.7 168.7,-21.4 169.5,-18.1 170.3,-14.8 170.8,-11.5 171.2,-8.2 171.5,-4.9 171.7,-1.6 171.7,1.6 171.5,4.9 171.2,8.2 170.8,11.5 170.3,14.8 169.5,18.1 168.7,21.4 167.8,24.7 166.7,28 165.3,31.2 163.7,34.5 161.8,37.8 159.7,41.1 157.3,44.4 154.6,47.6 151.7,50.9 148.7,54.1 145.3,57.2 141.6,60.3 137.8,63.4 133.8,66.4 129.6,69.3 125.3,72.1 120.9,74.9 116,77.5 110.7,80 105.2,82.3 100,84.3 95.3,85.8 91.4,87 -91.4,87 -95.3,85.8 -100,84.3 -105.2,82.3 -110.7,80 -116,77.5 -120.9,74.9 -125.3,72.1 -129.6,69.3 -133.8,66.4 -137.8,63.4 -141.6,60.3 -145.3,57.2 -148.7,54.1 -151.7,50.9 -154.6,47.6 -157.3,44.4 -159.7,41.1 -161.8,37.8 -163.7,34.5 -165.3,31.2 -166.7,28 -167.8,24.7 -168.7,21.4 -169.5,18.1 -170.3,14.8 -170.8,11.5 -171.2,8.2 -171.5,4.9 -171.7,1.6 -171.7,-1.6 -171.5,-4.9 -171.2,-8.2 -170.8,-11.5 -170.3,-14.8 -169.5,-18.1 -168.7,-21.4 -167.8,-24.7 -166.7,-28 -165.3,-31.2 -163.7,-34.5 -161.8,-37.8 -159.7,-41.1 -157.3,-44.4 -154.6,-47.6 -151.7,-50.9 -148.7,-54.1 -145.3,-57.2 -141.6,-60.3 -137.8,-63.4 -133.8,-66.4 -129.6,-69.3 -125.3,-72.1 -120.9,-74.9 -116,-77.5 -110.7,-80 -105.2,-82.3 -100,-84.3 -95.3,-85.8 -91.4,-87Z"/><clipPath id="cp"><use href="#ol"/></clipPath>
<g id="m1"><g clip-path="url(#cp)" fill="none" stroke-width="1.12"><path stroke="#2b7df0" d="M-92,86.80h184M-93.2,86.49h186.4M-94.4,86.13h188.8M-95.7,85.72h191.4M-97.1,85.27h194.2M-98.6,84.78h197.2M-100,84.25h200M-101.6,83.69h203.2M-103.2,83.09h206.4M-104.8,82.46h209.6M-106.5,81.79h213M-108.1,81.10h216.2M-109.8,80.38h219.6M-97.6,79.63h64.4m12.2,0h122.5M-95.1,78.87h57.4m18.8,0h121.9M-92.5,78.09h53.5m21.4,0h122.9M-89,77.30h49.5m24.1,0h123.8M-69.7,76.50h30.5m25.2,0h124.6M-51.5,75.69h11.8m28,0h124.5M-50.4,74.87h10.2m30.9,0h123.5M-49.3,74.04h7.8m36.3,0h117.3M-48.1,73.20h6.1m41.1,0h110.8M-47.8,72.35h5.3m65.9,0h26.1m2.5,0h55.7M-47.4,71.49h4.5m73.5,0h17.7m6.9,0h49.2M-47,70.62h3.6m77,0h9m15.8,0h45.4M-46.6,69.75h2.8m80.5,0h3.7m27.6,0h14.4m7.1,0h9.1M-46.2,68.86h3.8M-44.8,67.97h2.9M-56.9,58.70h5.1m21.8,0h1.1M-58.3,57.74h5.1m23,0h1.1M-59.8,56.78h5.2M-61.2,55.81h6.2m6,0h1.1M-61.7,54.84h5.3m7.1,0h1.1M-63.1,53.86h6.3M-63.5,52.88h7.4m113.3,0h1.1M-62.9,51.90h7.5M-63.3,50.92h7.5m196.9,0h1.2M-63.6,49.93h7.5m198,0h2.3M-64,48.94h7.6m198.1,0h4.3M-64.4,47.94h8.7m199.2,0h3.4M-153.1,46.95h1.2m88.3,0h8.7m180.9,0h1.2m18.2,0h4.4M-65.1,45.95h9.9m180.8,0h3.4m18.3,0h3.3M-64.3,44.95h8.8m181.8,0h3.3m19.5,0h2.3M-64.6,43.95h9.9m181.6,0h3.4m19.6,0h2.3m1,0h1.2M-64.9,42.94h11.1m206.6,0h3.4M-65.2,41.94h12.2m178.9,0h1.2m1,0h2.3m23.1,0h4.6M-65.5,40.93h14.5m175.2,0h7.9m22.1,0h4.6M-65.8,39.92h14.6m176,0h9m21,0h2.4M-66.1,38.91h15.8m174.4,0h11.4m20,0h1.2M-65.2,37.90h13.6m156,0h2.4m16.7,0h12.5m19,0h2.3M-65.5,36.89h17.1m65.3,0h5.7m81.1,0h4.6m13.4,0h1.3m1,0h12.5M-65.7,35.88h18.2m63.3,0h9.2m79.1,0h8m8.9,0h17.1M-65.9,34.87h19.4m62.3,0h10.4m78.2,0h11.5m4.4,0h18.3M-66.1,33.86h19.4m62.6,0h11.5m77.4,0h35.4M-65.2,32.85h19.5m61.6,0h12.7m76.5,0h35.5M-65.4,31.84h20.8m59.4,0h13.9m76.7,0h35.7M-65.6,30.83h20.8m59.7,0h15m74.7,0h36.9M-65.8,29.82h20.9m58.7,0h16.2m74.8,0h37M-65.9,28.81h20.9m58.8,0h17.5m73.8,0h37.1M-66.1,27.80h22.2m57.7,0h17.5m74,0h37.2M-66.2,26.79h23.3m56.8,0h18.7m8,0h3.6m61.4,0h36M-66.3,25.78h24.5m54.5,0h19.9m8,0h3.6m61.6,0h35M-66.5,24.76h27m52.3,0h21m6.9,0h4.8m60.5,0h35M-66.6,23.75h28.1m51.3,0h21.1m5.7,0h6m60.5,0h34m13.9,0h1.3M-66.7,22.74h29.4m48.9,0h21.2m8.1,0h4.7m5.8,0h1.3m54.8,0h31.7m13.9,0h2.4M-66.8,21.73h29.4m49,0h21.2m8.1,0h4.8m8.1,0h1.3m54.9,0h29.4M-66.9,20.72h30.6m48,0h22.4m6.9,0h6m66.7,0h24.7m19.9,0h1.2M-67,19.71h30.6m46.9,0h24.8m5.7,0h6m66.9,0h23.6m29.2,0h1.3M-141.2,18.70h1.3m71.6,0h31.9m46.9,0h26m4.6,0h6m68.1,0h22.5m19.9,0h1.3m8.1,0h1.3M-69.6,17.69h33.1m47,0h27.3m4.5,0h4.9m69.4,0h14.2m2.3,0h4.8m30.5,0h1.3M-70.8,16.68h34.3m47.1,0h28.4m4.6,0h4.8m69.5,0h10.7m4.6,0h4.9m18.7,0h1.3M-72.1,15.67h35.5m47.2,0h28.4m4.6,0h3.7m70.8,0h10.7m4.6,0h3.7M-163.3,14.66h1.3m89.8,0h35.6m48.4,0h27.3m5.8,0h2.5m74.3,0h7.3m4.6,0h2.5M-73.5,13.65h36.9m48.4,0h27.3m7,0h1.3m75.7,0h7.2m3.4,0h2.5M-73.5,12.63h38m47.3,0h27.4m1,0h1.3m84.1,0h2.4m5.8,0h2.5M-74.8,11.62h40.5m47.3,0h26.2m113.7,0h1.3M-74.8,10.61h40.4m47.4,0h25m74.7,0h2.5m2.3,0h2.5m20,0h2.5m9.4,0h1.3M-74.9,9.60h41.7m45,0h26.3m72.3,0h6.1m1,0h3.7m11.8,0h3.7m2.2,0h2.5m10.6,0h1.3M-76.1,8.59h42.9m45,0h26.3m64.1,0h7.2m5.8,0h1.4m8.2,0h1.3m4.6,0h10.8m8.2,0h1.3M-76.2,7.58h43m45,0h26.3m61.8,0h8.4m22.5,0h9.6m8.2,0h1.3M-77.4,6.57h44.1m45.1,0h26.3m61.8,0h2.5m24.9,0h1.3m2.2,0h9.7m1.1,0h2.5m3.4,0h1.3M-77.4,5.56h44.1m44,0h27.5m60.6,0h2.5m11.7,0h3.7m13,0h9.7m3.4,0h2.5M-77.5,4.55h41.8m46.4,0h27.5m59.4,0h3.7m7,0h1.3m3.5,0h4.9m9.4,0h10.8m5.9,0h1.3M-77.5,3.54h40.6m46.4,0h28.7m58.3,0h4.8m3.5,0h6.1m2.2,0h3.7m3.5,0h1.3m1.1,0h2.5m1,0h10.9m7,0h1.3M-77.5,2.53h37m48.8,0h31.1m57.1,0h4.9m3.4,0h6.1m2.3,0h3.7m9.4,0h2.5m1,0h4.9m4.7,0h1.3M-77.5,1.52h33.5m52.3,0h32.3m53.5,0h6.1m4.6,0h7.3m1.1,0h3.7m8.2,0h4.9M-87.1,0.51h1.3m8.2,0h31.2m54.7,0h32.3m53.5,0h4.9m4.7,0h8.4m1.1,0h2.5m5.9,0h1.3m2.2,0h2.5M-76.4,-0.51h28.8m55.9,0h33.5m52.3,0h4.9m4.7,0h9.6m1.1,0h4.9m2.3,0h1.3M-76.4,-1.52h28.8m55.9,0h34.7m49.9,0h4.9m5.9,0h9.6m1.1,0h1.3m2.3,0h1.3m2.2,0h1.3M-75.1,-2.53h27.5m55.9,0h35.9m48.7,0h6.1m7,0h7.3M-75.1,-3.54h27.5m55.9,0h37m46.4,0h3.7m1.1,0h2.5m8.2,0h6.1M-73.9,-4.55h25.1m54.7,0h39.4m46.4,0h2.5m1,0h3.7m9.4,0h4.9M-73.9,-5.56h24m40.3,0h9.7m4.6,0h41.8m43.9,0h2.5m2.3,0h3.7m10.6,0h3.7M-73.8,-6.57h22.7m40.3,0h57.3m29.6,0h1.3m17.7,0h2.5m11.8,0h3.7m4.7,0h2.5M-75,-7.58h20.3m42.7,0h59.6m28.5,0h2.5m15.3,0h2.5m21.3,0h2.5M-78.5,-8.59h2.5m1.1,0h19.1m42.7,0h60.7m28.4,0h1.3m16.5,0h2.5m20.1,0h3.7M-79.7,-9.60h22.7m43.9,0h60.7m24.8,0h4.9m15.3,0h2.5m4.6,0h1.3m16.5,0h2.5M-80.8,-10.61h2.5m5.8,0h14.4m45,0h61.8m23.6,0h3.7m17.7,0h1.3m4.7,0h1.3m10.5,0h1.3m3.5,0h1.3M-81.9,-11.62h2.5m7,0h14.3m43.8,0h63m22.4,0h4.9m17.6,0h1.3m3.5,0h4.8m9.4,0h1.3m1.1,0h4.9M-81.8,-12.63h2.5m9.3,0h4.9m49.6,0h57m4.7,0h2.4m22.4,0h4.9m11.7,0h1.3m3.5,0h2.5m2.2,0h7.2m10.6,0h4.8M-82.9,-13.65h3.6m62.7,0h59.3m8.1,0h1.3m18.9,0h4.8m11.7,0h1.3m3.5,0h2.5m1,0h8.4M-86.4,-14.66h8.4m61.4,0h62.8m23.5,0h6m16.5,0h10.7m11.7,0h2.5M-87.5,-15.67h9.6m20,0h1.3m40,0h63.9m22.3,0h6.1m16.4,0h10.7m10.5,0h2.5M-88.5,-16.68h9.5m56.5,0h1.3m4.6,0h65m21.1,0h7.2m15.3,0h10.7m10.5,0h2.5M-93.1,-17.69h10.7m23.4,0h1.3m42.3,0h66.1m17.6,0h9.5m10.5,0h13.1m11.6,0h2.5M-95.3,-18.70h13m66.9,0h67.2m16.4,0h10.7m9.3,0h13m11.7,0h2.4M-96.4,-19.71h14.2m8.1,0h2.5m2.2,0h4.9m1,0h1.3m46.9,0h69.4m14,0h11.8m8.1,0h11.9m2.2,0h1.3m9.3,0h2.5M-146.6,-20.72h1.2m46.8,0h9.5m2.3,0h4.8m12.8,0h4.8m49.1,0h70.5m12.8,0h13m6.9,0h11.8m2.3,0h2.4M-146.4,-21.73h1.3m46.7,0h8.3m4.6,0h3.6m8.1,0h3.6m53.7,0h71.6m12.7,0h13m5.8,0h14.2M-147.3,-22.74h1.2m46.7,0h9.5m4.5,0h4.8m5.7,0h4.8m1.1,0h1.3m51.3,0h71.4m10.4,0h16.5m3.4,0h15.3m1,0h2.5M-99.3,-23.75h8.3m11.6,0h7.1m55.9,0h72.5m8,0h20m1,0h21.2M-99.1,-24.76h8.3m13.9,0h3.6m58.1,0h71.2m8,0h44.4m3.4,0h1.3M-103.6,-25.78h1.3m2.2,0h9.5m75.4,0h69.9m8,0h46.7m2.2,0h2.4M-104.5,-26.79h2.4m1.1,0h10.5m17.3,0h1.3m56.8,0h68.5m8,0h48.9m1.1,0h2.4M-104.3,-27.80h1.3m1,0h11.7m13.8,0h2.4m60.1,0h125.2M-105.2,-28.81h2.4m1.1,0h11.6m13.8,0h2.4m2.2,0h1.3m57.6,0h123.8m6.8,0h1.3M-106.1,-29.82h2.4m1.1,0h13.9m12.6,0h2.4m61,0h124.6M-105.8,-30.83h2.4m1,0h15.1m11.4,0h2.4m58.5,0h1.3m3.3,0h122M-105.5,-31.84h1.2m1.1,0h21.9m4.4,0h2.4m65.3,0h121.6M-106.4,-32.85h32.2m65,0h121.3M-106,-33.86h32m64.8,0h25.2m2.2,0h6.9m2.2,0h84.4m6.7,0h1.3M-106.8,-34.87h34.2m63.5,0h23.9m4.4,0h2.4m9,0h79.6m7.8,0h2.4M-107.6,-35.88h36.4m63.2,0h19.4m20.2,0h78.2m4.4,0h1.3m2.1,0h3.5M-108.3,-36.89h38.5m63,0h17m21.3,0h76.8m7.8,0h1.2m1,0h5.8M-109,-37.90h41.7m61.6,0h15.9m11.1,0h2.3m5.5,0h78.8m5.5,0h2.4m2.1,0h8M-109.7,-38.91h42.6m61.4,0h1.3m4.3,0h10.2m10,0h4.6m2.1,0h3.5m2.1,0h76.2m4.4,0h3.4m5.5,0h4.6M-109.3,-39.92h42.5m58.9,0h6.8m3.3,0h7.9m2.1,0h1.2m5.5,0h90.4m3.2,0h3.5m5.4,0h4.6M-108.8,-40.93h42.3m57.6,0h9m10.9,0h3.5m4.3,0h86.7m5.4,0h3.5m7.6,0h3.5M-109.4,-41.94h43.2m41.8,0h1.3m14.2,0h9m13.1,0h2.3m2.1,0h87.4m5.4,0h3.5m9.8,0h2.3M-108.9,-42.94h44.1m55.9,0h9m2,0h1.3m3.1,0h2.4m4.2,0h2.4m2,0h88.1m1,0h6.7m9.8,0h2.3M-109.5,-43.95h46.1m55.7,0h8.9m5.3,0h2.3m3.2,0h101.9m8.6,0h2.3M-109,-44.95h48.1m53.2,0h11m4.3,0h1.2m0.9,0h15.4m2.1,0h4.4m4.3,0h78.5m7.5,0h1.2M-108.4,-45.95h47.8m51.9,0h12m4.2,0h17.5m10.7,0h80.3m5.3,0h4.4M-107.8,-46.95h47.5m3.1,0h1.2m48.4,0h14.1m2.1,0h16.2m9.6,0h82m5.3,0h4.4M-107.2,-47.94h52.6m53.5,0h26.9m6.3,0h84.8m4.1,0h3.4M-106.6,-48.94h54.4m51.1,0h26.7m3.1,0h1.2m2,0h85.4m3.1,0h1.1m4.2,0h1.2M-106,-49.93h54.1m49.7,0h119.9m2,0h2.2m6.2,0h1.2M-105.4,-50.92h51.7m4.1,0h5.4m41,0h120.2m2,0h2.2M-104.8,-51.90h51.5m3,0h6.4m39.7,0h121.5m0.9,0h2.3M-105.1,-52.88h51.1m0.9,0h1.1m3,0h4.3m42.6,0h118.7m0.9,0h3.3M-105.5,-53.86h55.9m2,0h2.2m41.2,0h1.2m4,0h117.9m9.2,0h1.2M-104.8,-54.84h56.6m0.9,0h2.2m40.9,0h5.3m0.9,0h116.1m10.2,0h1.1M-144.8,-55.81h1.1m0.9,0h1.1m36.6,0h59.3m37.6,0h3.2m0.9,0h6.2m0.9,0h114.3m10.1,0h2.1M-137.7,-56.78h1.1m29.2,0h1.2m1.9,0h38.6m0.9,0h19.3m37.3,0h3.2m0.9,0h5.2m2.9,0h112.5m9,0h4.1m10,0h1.2M-134.7,-57.74h1.1m27,0h1.2m0.9,0h38.3m1.8,0h18.2m38.1,0h3.1m1.9,0h3.2m5.9,0h106.6m0.9,0h1.1m9.9,0h5.2M-130.7,-58.70h2.2m23.8,0h39m2.8,0h16.1m38.8,0h8.1m5.8,0h103.8m13.9,0h6.1M-128.6,-59.65h3m21.7,0h37.7m4.8,0h14m42.4,0h4.1m6.8,0h103.9m12.8,0h6M-126.6,-60.60h4m18.5,0h35.5m7.7,0h12.9m43,0h4.1m6.7,0h3.1m0.9,0h100.1m12.7,0h6M-123.6,-61.54h5m14.4,0h32.3m11.5,0h12.8m41.7,0h4m10.6,0h101.3m11.6,0h5.9M-123.5,-62.48h4.9m12.4,0h33.9m11.5,0h12.6m44.3,0h1.1m6.6,0h4m0.8,0h101.4m11.5,0h5.9M-124.4,-63.41h8.7m7.6,0h36.4m12.3,0h6.9m2.7,0h1.1m52.5,0h114.9m2.7,0h5.9M-127.1,-64.33h1.1m0.8,0h12.4m1.8,0h40m12.2,0h5.8m16.9,0h3.9m30.2,0h1.1m4.6,0h114.9m2.7,0h8.6M-125,-65.25h55.5m10.3,0h6.7m15.8,0h4.8m35.6,0h126.9M-123.9,-66.17h56m6.4,0h1.1m0.8,0h4.7m3.6,0h3m11,0h6.6m25.1,0h1m8.3,0h129.5M-126.4,-67.07h1.1m3.5,0h56.4m2.6,0h2m8.2,0h5.6m9.1,0h7.5m15.6,0h2m18.3,0h126.4M-117.9,-67.97h54m0.8,0h4.7m1.7,0h11.1m7.2,0h9.2m12.7,0h5.6m18.1,0h123.5M-130.3,-68.86h1m0.8,0h4.7m2.6,0h62.5m2.6,0h10.9m7.2,0h10.9m9,0h8.2m18,0h17.3m3.5,0h101.4M-129,-69.75h7.3m1.7,0h60.1m7,0h9.1m5.2,0h13.6m7.9,0h1.9m0.8,0h4.6m18.7,0h15.3m0.8,0h104M-127.7,-70.62h5.5m3.4,0h61.3m5.1,0h9m5.2,0h14.3m33.6,0h19.6m1.7,0h96.7M-126.4,-71.49h3.7m6,0h59.7m2.6,0h9.7m7.8,0h16.8m29.7,0h18.5m2.5,0h1.9m1.6,0h16.8m0.8,0h74.7M-125,-72.35h1m8.5,0h34m1.6,0h9.7m1.6,0h7m1.7,0h3.6m2.4,0h8m9.4,0h19.2m28.5,0h14.9m7.7,0h1m5.1,0h10.5m0.7,0h73.9M-112.5,-73.20h15.6m6.7,0h7m2.4,0h11.3m4.2,0h2.7m4.2,0h12.1m9.3,0h21.6m28.2,0h8.7m18.8,0h2.7m2.4,0h4.4m0.8,0h63.6m1.6,0h6.2M-109.6,-74.04h7.8m21.9,0h10.4m4.9,0h1.8m2.5,0h13.7m9.2,0h23m8.4,0h1m20.2,0h5.2m15.2,0h3.5m5.8,0h4.4m0.7,0h55.3m16,0h1M-84,-74.87h3.5m0.7,0h9.4m4.1,0h3.4m2.4,0h12.7m10.8,0h22.8m48.5,0h4.4m6.6,0h3.4m0.7,0h37.1m2.4,0h12.7M-83,-75.69h14.2m1.6,0h6.7m0.7,0h9.3m13.1,0h23.4m48.8,0h2.6m7.3,0h3.4m1.6,0h0.9m2.4,0h31.6m8.2,0h2.6M-81.9,-76.50h5m10.5,0h6.7m2.3,0h5.1m0.7,0h0.9m13,0h24.7m48.1,0h3.4m7.3,0h0.9m5.6,0h29.6m8.9,0h4.2M-80.1,-77.30h3.4m3.9,0h2.6m10.3,0h8.2m13.7,0h25.9m47.6,0h3.4m16.8,0h17.1m16,0h7.4M-75,-78.09h7.3m3.1,0h1.7m2.3,0h9.6m12.7,0h26.4m47.7,0h4.9m15.8,0h16.1m15,0h7.3M-75.5,-78.87h0.9m1.5,0h5.6m6.9,0h11.2m6.1,0h31.6m48.6,0h5.6m17.2,0h11.1M-55.8,-79.63h7.9m3.7,0h32.6m20.1,0h3.2m50.2,0h4M-67.9,-80.38h0.9m3.7,0h1.6m6,0h9.3m2.1,0h33.7m17.4,0h6.2m46.4,0h3.9M-57.9,-81.10h14.4m0.7,0h32.4m17.1,0h8.4m41.9,0h6.1M-56.2,-81.79h47.4m16.1,0h8.3m12.4,0h6.8m21.3,0h4.5M-54.6,-82.46h16.8m0.6,0h30m35.5,0h7.4m19.5,0h3M-51.6,-83.09h15.9m2,0h24.5M-46.6,-83.69h9.3m9.7,0h13.6"/><path stroke="#7dc8f0" d="M141.1,50.92h1.2M141.9,49.93h2.3M141.7,48.94h4.3M143.5,47.94h3.4M145.4,46.95h4.4M-56.4,45.95h1.2m180.8,0h3.4m18.3,0h3.3M-57.8,44.95h2.3m181.8,0h3.3m19.5,0h2.3M-60.3,43.95h2.4m2,0h1.2m181.6,0h3.4m19.6,0h2.3m1,0h1.2M-60.5,42.94h6.7m206.6,0h3.4M-59.7,41.94h6.7m178.9,0h1.2m1,0h1.2m24.2,0h4.6M-60,40.93h9m177.4,0h4.6m23.2,0h4.6M-62.5,39.92h11.3m176,0h9m21,0h2.4M-62.7,38.91h2.3m1,0h9.1m174.4,0h11.4m20,0h1.2M-64.1,37.90h1.3m1,0h10.2m156,0h2.4m16.7,0h2.4m2.1,0h8m19,0h2.3M-63.2,36.89h14.8m152.1,0h3.5m14.5,0h1.3m1,0h2.3m1.1,0h9.1M-62.3,35.88h14.8m151.6,0h2.3m14.6,0h1.3m4.4,0h2.4m1,0h8M-63.7,34.87h1.3m1,0h14.9m166.8,0h3.5m1.1,0h1.2m4.4,0h8.1M-63.9,33.86h17.2m70.6,0h1.2m88.8,0h2.4m3.3,0h1.2m4.5,0h1.2m4.5,0h2.4m2.1,0h1.3m1,0h2.4M-64.1,32.85h18.4m67.4,0h5.8m86.7,0h1.3m1,0h1.3m3.3,0h1.3m2.1,0h1.3m1,0h1.3m2.1,0h1.3m1,0h1.3m1,0h5.8M-64.3,31.84h19.7m64,0h8.2m90.4,0h1.3m4.4,0h4.8m1,0h1.2m3.4,0h7M-64.4,30.83h19.6m64.3,0h9.3m86.1,0h2.4m2.2,0h1.3m2.1,0h1.3m5.6,0h1.3m2.2,0h8.2M-65.8,29.82h20.9m64.4,0h10.5m93.3,0h2.4m2.2,0h5.9m2.1,0h5.9M-65.9,28.81h20.9m64.6,0h9.3m91.2,0h5.9m2.2,0h1.3m1,0h2.4m2.2,0h7.1M-66.1,27.80h22.2m67,0h5.9m87.9,0h1.3m3.3,0h1.3m1.1,0h2.4m1,0h1.3m1,0h6m1,0h5.9M-66.2,26.79h23.3m67.2,0h4.8m11.5,0h3.6m75.3,0h14m2.2,0h5.9M-66.3,25.78h24.5m72,0h2.4m8,0h3.6m75.5,0h12.9m2.2,0h6M-66.5,24.76h27m66.2,0h1.3m1.1,0h3.6m8,0h4.8m69.8,0h1.3m1,0h1.3m1,0h1.3m2.2,0h10.6m1.1,0h5.9M-66.6,23.75h28.1m54.8,0h1.3m2.2,0h1.3m6.8,0h6m5.7,0h6m69.9,0h1.3m1,0h3.6m1.1,0h2.4m1.1,0h7.1m1,0h6m13.9,0h1.3M-66.7,22.74h29.4m53.6,0h3.6m8.1,0h4.8m8.1,0h4.7m71.2,0h2.5m5.7,0h14.2m13.9,0h2.4M-66.8,21.73h29.4m52.6,0h4.8m1,0h1.3m5.7,0h4.8m8.1,0h4.8m69,0h1.3m1,0h7.2m1,0h4.8m1.1,0h8.3M-66.9,20.72h30.6m51.5,0h1.3m2.2,0h1.3m1,0h1.3m8.1,0h3.7m6.9,0h6m69,0h14.2m1.1,0h7.1m19.9,0h1.2M-67,19.71h30.6m54,0h1.3m12.8,0h3.6m5.7,0h6m66.9,0h23.6m29.2,0h1.3M-68.3,18.70h31.9m52.8,0h1.3m14,0h4.8m4.6,0h6m68.1,0h22.5m19.9,0h1.3m8.1,0h1.3M-69.6,17.69h33.1m52.9,0h1.3m1.1,0h1.3m11.6,0h6.1m4.5,0h4.9m69.4,0h14.2m2.3,0h4.8m30.5,0h1.3M-70.8,16.68h34.3m53,0h3.6m11.7,0h7.2m4.6,0h4.8m69.5,0h10.7m4.6,0h4.9m18.7,0h1.3M-72.1,15.67h35.5m50.7,0h1.3m5.8,0h1.3m2.2,0h1.3m4.7,0h8.3m4.6,0h3.7m70.8,0h10.7m4.6,0h3.7M-72.2,14.66h35.6m50.7,0h1.3m1.1,0h1.3m1.1,0h1.3m3.4,0h1.3m4.6,0h9.6m5.8,0h2.5m74.3,0h7.3m4.6,0h2.5M-73.5,13.65h36.9m53.1,0h1.3m1.1,0h1.3m1,0h3.7m4.6,0h9.6m7,0h1.3m75.7,0h7.2m3.4,0h2.5M-73.5,12.63h38m48.5,0h1.3m5.8,0h1.3m4.6,0h2.5m1.1,0h9.6m86.4,0h2.4m5.8,0h2.5M-74.8,11.62h40.5m49.7,0h2.5m8.1,0h2.5m3.5,0h7.2m113.7,0h1.3M-74.8,10.61h40.4m58.1,0h1.3m3.4,0h9.6m74.7,0h2.5m2.3,0h2.5m20,0h2.5m9.4,0h1.3M-74.9,9.60h41.7m45,0h1.3m5.8,0h1.4m1,0h3.7m1.1,0h2.5m2.2,0h3.7m1.1,0h2.5m72.3,0h6.1m1,0h3.7m11.8,0h3.7m2.2,0h2.5m10.6,0h1.3M-76.1,8.59h42.9m45,0h4.9m1.1,0h6m1.1,0h2.5m1.1,0h6m1.1,0h2.5m64.1,0h7.2m5.8,0h1.4m8.2,0h1.3m4.6,0h10.8m8.2,0h1.3M-76.2,7.58h43m45,0h13.2m1.1,0h2.5m1.1,0h8.4m61.8,0h8.4m22.5,0h9.6m8.2,0h1.3M-77.4,6.57h44.1m45.1,0h15.6m1.1,0h1.3m1.1,0h7.2m61.8,0h2.5m24.9,0h1.3m2.2,0h9.7m1.1,0h2.5m3.4,0h1.3M-77.4,5.56h44.1m44,0h27.5m60.6,0h2.5m11.7,0h3.7m13,0h9.7m3.4,0h2.5M-77.5,4.55h41.8m46.4,0h27.5m59.4,0h3.7m7,0h1.3m3.5,0h4.9m9.4,0h10.8m5.9,0h1.3M-77.5,3.54h40.6m46.4,0h28.7m58.3,0h4.8m3.5,0h6.1m2.2,0h3.7m3.5,0h1.3m1.1,0h2.5m1,0h10.9m7,0h1.3M-77.5,2.53h37m48.8,0h28.7m1.1,0h1.3m57.1,0h4.9m3.4,0h6.1m2.3,0h3.7m9.4,0h2.5m1,0h4.9m4.7,0h1.3M-77.5,1.52h33.5m52.3,0h31.1m54.7,0h6.1m4.6,0h7.3m1.1,0h3.7m8.2,0h4.9M-87.1,0.51h1.3m8.2,0h31.2m54.7,0h29.9m55.9,0h4.9m4.7,0h8.4m1.1,0h2.5m5.9,0h1.3m2.2,0h2.5M-76.4,-0.51h28.8m55.9,0h26.3m1.1,0h1.3m57.1,0h4.9m4.7,0h9.6m1.1,0h4.9m2.3,0h1.3M-76.4,-1.52h28.8m55.9,0h27.5m1.1,0h1.3m54.7,0h4.9m5.9,0h9.6m1.1,0h1.3m2.3,0h1.3m2.2,0h1.3M-75.1,-2.53h27.5m55.9,0h25.1m1.1,0h1.3m1.1,0h1.3m54.7,0h6.1m7,0h7.3M-75.1,-3.54h27.5m55.9,0h27.5m2.3,0h1.3m52.3,0h3.7m1.1,0h2.5m8.2,0h6.1M-73.9,-4.55h25.1m54.7,0h23.9m1.1,0h6.1m54.7,0h2.5m1,0h3.7m9.4,0h4.9M-73.9,-5.56h24m40.3,0h9.7m4.6,0h31.1m54.6,0h2.5m2.3,0h3.7m10.6,0h3.7M-73.8,-6.57h22.7m40.3,0h39.4m1.1,0h8.4m38,0h1.3m17.7,0h2.5m11.8,0h3.7m4.7,0h2.5M-75,-7.58h20.3m42.7,0h24m2.2,0h13.2m3.5,0h6m39.2,0h2.5m15.3,0h2.5m21.3,0h2.5M-78.5,-8.59h2.5m1.1,0h19.1m42.7,0h40.5m1.1,0h8.4m39.1,0h1.3m16.5,0h2.5m20.1,0h3.7M-79.7,-9.60h22.7m43.9,0h34.5m1.1,0h1.3m5.8,0h2.5m1.1,0h3.7m36.7,0h3.7m15.3,0h2.5m4.6,0h1.3m16.5,0h2.5M-80.8,-10.61h2.5m5.8,0h14.4m45,0h13.2m2.2,0h6.1m1,0h2.5m1.1,0h2.5m2.2,0h7.3m3.4,0h1.3m1.1,0h4.9m37.8,0h2.5m17.7,0h1.3m4.7,0h1.3m10.5,0h1.3m3.5,0h1.3M-81.9,-11.62h2.5m7,0h14.3m43.8,0h9.6m1.1,0h15.5m1.1,0h14.3m1.1,0h7.2m1.1,0h1.3m33.1,0h1.3m2.3,0h1.3m17.6,0h1.3m3.5,0h4.8m9.4,0h1.3m1.1,0h4.9M-81.8,-12.63h2.5m9.3,0h4.9m49.6,0h16.7m1.1,0h14.4m1,0h8.4m2.3,0h9.6m49.6,0h1.3m3.5,0h2.5m2.2,0h7.2m10.6,0h4.8M-82.9,-13.65h3.6m62.7,0h9.6m4.6,0h15.5m1,0h6.1m1,0h1.4m2.2,0h3.7m5.8,0h1.3m51.9,0h1.3m3.5,0h2.5m1,0h8.4M-86.4,-14.66h8.4m61.4,0h3.7m82.6,0h1.3m21.2,0h10.7m11.7,0h2.5M-87.5,-15.67h9.6m20,0h1.3m126.2,0h1.3m3.5,0h1.3m16.4,0h10.7m10.5,0h2.5M-88.5,-16.68h9.5m148.5,0h1.3m2.3,0h3.6m15.3,0h10.7m10.5,0h2.5M-93.1,-17.69h10.7m23.4,0h1.3m126,0h2.4m2.3,0h4.8m10.5,0h13.1m11.6,0h2.5M-95.3,-18.70h13m150.5,0h2.4m3.4,0h4.9m9.3,0h13m11.7,0h2.4M-96.4,-19.71h14.2m8.1,0h2.5m2.2,0h4.9m1,0h1.3m130.3,0h1.3m4.5,0h4.9m9.2,0h11.9m2.2,0h1.3m9.3,0h2.5M-98.6,-20.72h1.3m1.1,0h7.1m2.3,0h4.8m12.8,0h4.8m132.4,0h1.2m3.4,0h8.4m6.9,0h11.8m2.3,0h2.4M-98.4,-21.73h1.3m1,0h1.3m1.1,0h2.4m5.8,0h3.6m8.1,0h3.6m138,0h1.3m3.4,0h4.8m1.1,0h1.3m6.9,0h14.2M-99.4,-22.74h1.3m12.7,0h4.8m5.7,0h4.8m1.1,0h1.3m135.4,0h1.3m4.6,0h8.3m3.4,0h15.3m1,0h2.5M-79.4,-23.75h7.1m145.8,0h10.6m1,0h21.2M-76.9,-24.76h3.6m146.6,0h2.5m1,0h31.6m3.4,0h1.3M73.2,-25.78h36.2m2.2,0h2.4M-73.2,-26.79h1.3m143.8,0h38.4m1.1,0h2.4M-76.5,-27.80h2.4m145.8,0h39.5M-76.3,-28.81h2.4m147.8,0h37.1m6.8,0h1.3M-76.1,-29.82h2.4m147.4,0h38.2M-75.9,-30.83h2.4m147,0h11.6m1.1,0h4.7m1,0h1.3m1,0h17.4M-91.8,-31.84h1.3m1,0h4.7m1.1,0h2.4m4.4,0h2.4m123.7,0h3.6m19.4,0h7m2.1,0h1.3m3.3,0h1.3m2.2,0h1.2m1,0h1.3m1,0h18.5M-90.4,-32.85h16.2m122.1,0h4.7m19.3,0h4.7m9.1,0h1.2m2.2,0h3.5m1.1,0h18.4M-91.2,-33.86h17.2m64.8,0h10.4m46.6,0h3.5m18.1,0h5.9m14.6,0h21.8m6.7,0h1.3M-106.8,-34.87h1.3m11.2,0h1.2m1.1,0h1.2m1,0h17.2m63.5,0h10.3m44.2,0h4.6m15.8,0h8.1m18,0h1.3m1,0h16m7.8,0h2.4M-107.6,-35.88h1.3m10.1,0h1.2m2.1,0h21.7m115.3,0h4.6m14.6,0h8.1m22.5,0h5.7m1.1,0h9.1m7.8,0h3.5M-108.3,-36.89h2.4m12.3,0h23.8m101.3,0h1.3m10,0h3.5m14.5,0h8m23.6,0h2.4m1,0h5.7m1,0h3.6m12.2,0h5.8M-109,-37.90h3.5m12.2,0h26m68.4,0h4.6m2.1,0h2.4m20.1,0h2.3m8.9,0h4.6m10,0h9.1m30.2,0h1.3m2.1,0h1.2m19,0h5.7M-109.7,-38.91h4.6m8.8,0h1.2m2.2,0h16.9m1,0h2.3m1,0h2.4m69.2,0h10.2m29,0h4.6m7.7,0h12.4m49.2,0h2.3m6.6,0h1.2M-109.3,-39.92h3.5m12.1,0h26.9m70.1,0h3.4m1,0h1.3m12.1,0h12.4m4.3,0h4.6m5.5,0h11.2m53.4,0h3.5M-108.8,-40.93h2.3m9.9,0h21.2m1,0h6.8m86.4,0h1.2m1,0h12.4m4.3,0h2.3m9.9,0h1.2m1,0h1.2m59.8,0h1.3M-109.4,-41.94h2.3m12,0h21.1m1,0h6.8m84.9,0h3.5M-96.8,-42.94h22.1m2.1,0h3.4m1,0h3.4m82.3,0h4.6M-94.2,-43.95h12.2m1,0h11m1,0h5.6m75.4,0h1.2m5.3,0h3.4m100.6,0h2.3M-93.7,-44.95h8.8m1,0h1.2m2.1,0h5.5m1,0h2.3m1,0h2.3m2,0h4.5m71.7,0h4.5m4.3,0h3.3m7.5,0h2.3m5.4,0h1.2M-90,-45.95h7.7m1,0h1.2m1,0h3.3m7.5,0h7.7m71.4,0h3.3m21.6,0h5.5m81.2,0h3.3M-92.7,-46.95h1.2m0.9,0h1.2m1,0h5.5m1,0h3.3m1,0h1.2m0.9,0h2.3m6.3,0h1.2m1,0h4.4m54.9,0h11.9m5.3,0h1.2m0.9,0h1.2m1,0h4.4m103.4,0h1.1M-93.3,-47.94h1.2m1,0h1.1m4.2,0h1.2m1,0h3.3m0.9,0h1.2m2.1,0h1.1m10.6,0h6.6m56.7,0h6.5m7.4,0h1.2m0.9,0h5.5M-87.4,-48.94h1.1m1,0h3.3m1,0h1.1m17,0h3.3m0.9,0h2.3m55.3,0h2.2m9.5,0h1.2m0.9,0h7.6m1,0h1.1M-105,-49.93h2.3m9.4,0h1.2m29.5,0h1.2m2,0h3.3m0.9,0h2.3m57.1,0h3.3m0.9,0h3.3m1,0h10.7M-105.4,-50.92h2.2m6.2,0h3.3m0.9,0h1.2m1,0h1.1m19.9,0h1.2m0.9,0h2.3m1.9,0h1.2m2,0h2.2m2,0h2.2m57.9,0h19m2,0h1.2m0.9,0h1.2M-104.8,-51.90h3.3m2,0h9.5m14.6,0h7.4m0.9,0h4.3m1,0h6.4m0.9,0h1.2m3,0h4.3m47,0h22.1m0.9,0h6.4m81.6,0h1.1M-105.1,-52.88h2.2m3,0h8.4m0.9,0h1.2m0.9,0h1.2m6.1,0h4.3m0.9,0h1.1m1,0h1.1m0.9,0h4.3m1,0h5.3m0.9,0h1.2m0.9,0h3.2m56.1,0h28.2m81,0h4.3M-104.5,-53.86h2.2m0.9,0h13.6m0.9,0h1.2m2.9,0h3.3m0.9,0h10.4m0.9,0h3.3m3,0h1.1m61.9,0h19.8m0.9,0h7.3m78.5,0h2.2M-104.8,-54.84h2.2m0.9,0h2.2m0.9,0h5.2m0.9,0h4.3m1.9,0h1.1m0.9,0h12.5m0.9,0h6.3m60.4,0h1.2m0.9,0h1.1m0.9,0h1.2m0.9,0h28.9M-105.1,-55.81h3.2m1.9,0h9.3m0.9,0h3.2m6,0h1.1m0.9,0h1.2m0.9,0h5.2m0.9,0h1.1m62.1,0h1.1m2,0h3.1m5,0h28.7M-102.3,-56.78h9.2m0.9,0h4.2m0.9,0h5.2m1.9,0h3.1m69.8,0h1.1m1.9,0h5.2m2.9,0h7.2m0.9,0h21.4m0.9,0h1.1M-104.5,-57.74h1.1m3.9,0h14.2m0.9,0h4.1m0.9,0h2.1m70.2,0h2.1m11,0h3.1m1.9,0h7.1m0.9,0h4.2m0.9,0h7.1m1.9,0h1.1M-103.7,-58.70h20m0.9,0h3.1m0.9,0h1.1m70.7,0h5.1m7.8,0h15.1m0.9,0h1.1m0.9,0h6.1m0.8,0h3.2m39.7,0h3.1M-101.9,-59.65h14.9m0.9,0h4.1m77,0h3.1m7.8,0h11m0.8,0h8.1m0.8,0h3.1m1.9,0h1.1m2.8,0h1.2M-104.1,-60.60h3.1m0.9,0h10.9m0.8,0h1.1m1.9,0h1.1m79.3,0h1.1m10.7,0h2.1m1.8,0h17.8m0.9,0h2.1m0.8,0h2.1m0.9,0h1.1M-103.2,-61.54h16.7m95.2,0h1.1m0.8,0h9.9m1.8,0h7.9m3.8,0h2.1m1.8,0h1.1m3.8,0h1M-102.3,-62.48h1.1m0.8,0h2.1m1.8,0h5.9m97.3,0h1.1m1.8,0h6.9m1.8,0h1.1m0.8,0h5.9m0.9,0h2m0.8,0h2.1m0.8,0h10.8m16.3,0h3.9m1.8,0h1.1m2.8,0h2.1M-101.4,-63.41h2.9m0.9,0h7.8m95.5,0h3.9m0.9,0h4.9m0.8,0h3m0.8,0h4.9m0.9,0h3.9m0.8,0h10.7m0.8,0h2.1m15.1,0h2.1m1.8,0h6.8m0.8,0h1.1M-100.5,-64.33h1m0.8,0h3m0.8,0h1.1m0.8,0h1.1m97.5,0h1.1m0.8,0h3.9m0.9,0h4.8m1.8,0h3.9m2.7,0h7.7m0.9,0h7.7m0.8,0h6.8m14.1,0h1M-104.3,-65.25h1m0.8,0h1.1m1.8,0h1m1.8,0h1m103.3,0h1m0.8,0h4.9m1.7,0h2m3.6,0h2m0.9,0h17m0.8,0h3.9m0.8,0h3.9m0.8,0h1.1M-101.5,-66.17h1m0.8,0h1.1m106,0h1m0.8,0h6.7m6.4,0h1m0.8,0h8.5m0.8,0h6.7m0.8,0h2.9m0.8,0h1.1m1.7,0h4.8M8.2,-67.07h1.1m0.8,0h6.6m5.4,0h7.5m0.8,0h7.5m0.8,0h1m0.8,0h3.8m1.7,0h1.1m0.8,0h2.9M10,-67.97h1m0.8,0h2.9m10.8,0h1M10.8,-68.86h1m0.8,0h1.9"/><path stroke="#ffe040" d="M143,49.93h1.2M141.7,48.94h4.3M143.5,47.94h3.4M145.4,46.95h4.4M125.6,45.95h3.4m18.3,0h3.3M126.3,44.95h3.3m19.5,0h2.3M126.9,43.95h2.3m20.7,0h2.3M152.8,42.94h2.3M-56.4,41.94h1.2m1,0h1.2m206.5,0h2.3M-55.5,40.93h2.3m207.4,0h2.3m1,0h1.3M-59.1,39.92h1.2m1,0h5.7m176,0h5.6m1,0h1.3m22.1,0h1.3M-57.1,38.91h6.8m175.6,0h10.2m20,0h1.2M-56.2,37.90h4.6m156,0h1.3m24.5,0h5.8m19,0h2.3M-59.8,36.89h1.2m1,0h9.2m152.1,0h2.4m24.6,0h5.8M-61.2,35.88h3.5m1.1,0h1.2m1,0h6.9m151.6,0h1.2m30.4,0h2.4M-60.2,34.87h1.2m3.3,0h9.2M-62.7,33.86h3.5m2.2,0h10.3M-62.9,32.85h1.2m1.1,0h1.2m2.2,0h11.5m185.1,0h1.2M-63.1,31.84h1.3m1,0h1.2m2.2,0h12.8m65.2,0h1.2m1.1,0h2.4m114.5,0h1.3M-63.3,30.83h3.6m1,0h13.9m66.6,0h5.8m111.4,0h2.5M-62.3,29.82h17.4m65.6,0h2.4m1,0h2.5m1,0h1.3m110.5,0h2.4M-64.8,28.81h19.8m71.5,0h2.4m110.8,0h2.5M-63.8,27.80h19.9m69.3,0h3.6m109.9,0h3.6M-63.9,26.79h21m69.5,0h1.3m12.7,0h2.4m96.2,0h2.4M-65.2,25.78h3.6m1.1,0h18.7m82.4,0h2.5m94.1,0h3.6M-66.5,24.76h3.7m2.2,0h21.1m69.7,0h2.5m8,0h2.5m94.2,0h3.6M-66.6,23.75h2.5m3.4,0h22.2m67.6,0h3.6m6.9,0h4.8m92.1,0h3.6m13.9,0h1.3M-66.7,22.74h3.6m1.1,0h24.7m66.5,0h3.6m8.1,0h4.7m84.1,0h1.3m4.5,0h3.7m13.9,0h2.4M-66.8,21.73h4.8m1.1,0h23.5m67.8,0h2.4m8.1,0h1.3m1.1,0h2.4m83,0h1.3m5.8,0h3.6M-66.9,20.72h3.6m1.1,0h25.9m67.9,0h2.5m6.9,0h4.8m90.2,0h2.4m19.9,0h1.2M-67,19.71h30.6m68.1,0h3.6m5.7,0h4.9m90.3,0h1.3M-68.3,18.70h31.9m68.1,0h4.8m4.6,0h4.8m69.3,0h1.3m1.1,0h1.3m1,0h9.6m5.7,0h2.5m19.9,0h1.3M-69.6,17.69h30.8m1,0h1.3m70.6,0h2.5m5.7,0h4.9m69.4,0h3.6m1.1,0h4.8m1.1,0h3.6m2.3,0h1.3m1,0h2.5M-70.8,16.68h28.4m1.1,0h1.3m1,0h2.5m69.5,0h1.3m9.3,0h2.5m71.8,0h2.5m1,0h7.2m4.6,0h4.9m18.7,0h1.3M-72.1,15.67h30.8m1.1,0h1.3m1,0h1.3m69.6,0h1.3m3.4,0h1.3m4.6,0h2.5m72,0h6m1,0h3.7m4.6,0h3.7M-72.2,14.66h29.7m1.1,0h1.3m1,0h2.5m74.4,0h1.3m5.8,0h2.5m74.3,0h7.3m4.6,0h2.5M-73.5,13.65h30.9m3.5,0h2.5m69.7,0h2.5m1,0h2.5m84,0h7.2m3.4,0h2.5M-73.5,12.63h30.9m5.8,0h1.3m67.4,0h1.3m3.5,0h2.5m86.4,0h2.4m5.8,0h2.5M-73.6,11.62h32.1m2.3,0h4.9m71,0h2.5m113.7,0h1.3M-73.7,10.61h31m1.1,0h1.3m3.4,0h2.5m71.1,0h1.3m74.7,0h2.5m2.3,0h2.5m20,0h2.5m9.4,0h1.3M-74.9,9.60h32.2m2.3,0h1.3m1,0h4.9m70,0h1.3m72.3,0h6.1m1,0h3.7m11.8,0h3.7m2.2,0h2.5m10.6,0h1.3M-74.9,8.59h32.2m1,0h8.5m70,0h1.3m64.1,0h7.2m5.8,0h1.4m8.2,0h1.3m4.6,0h10.8m8.2,0h1.3M-76.2,7.58h43m54.5,0h1.4m9.4,0h1.3m66.5,0h8.4m22.5,0h9.6m8.2,0h1.3M-77.4,6.57h44.1m47.5,0h2.5m1.1,0h4.9m1,0h2.5m4.7,0h1.3m2.3,0h1.3m64.1,0h2.5m24.9,0h1.3m2.2,0h9.7m1.1,0h2.5m3.4,0h1.3M-77.4,5.56h44.1m48.7,0h10.9m5.8,0h2.5m64.2,0h2.5m11.7,0h3.7m13,0h9.7m3.4,0h2.5M-77.5,4.55h41.8m47.6,0h8.4m1.1,0h6.1m4.6,0h2.5m63,0h3.7m7,0h1.3m3.5,0h4.9m9.4,0h10.8m5.9,0h1.3M-77.5,3.54h40.6m46.4,0h20.3m1.1,0h1.3m1.1,0h1.3m61.9,0h4.8m3.5,0h6.1m2.2,0h3.7m3.5,0h1.3m1.1,0h2.5m1,0h10.9m7,0h1.3M-77.5,2.53h37m48.8,0h22.7m65.5,0h4.9m3.4,0h6.1m2.3,0h3.7m9.4,0h2.5m1,0h4.9m4.7,0h1.3M-77.5,1.52h33.5m52.3,0h26.3m59.5,0h6.1m4.6,0h7.3m1.1,0h3.7m8.2,0h4.9M-87.1,0.51h1.3m8.2,0h31.2m54.7,0h25.1m60.7,0h4.9m4.7,0h8.4m1.1,0h2.5m5.9,0h1.3m2.2,0h2.5M-76.4,-0.51h28.8m55.9,0h24m61.8,0h4.9m4.7,0h9.6m1.1,0h4.9m2.3,0h1.3M-76.4,-1.52h28.8m55.9,0h22.8m61.8,0h4.9m5.9,0h9.6m1.1,0h1.3m2.3,0h1.3m2.2,0h1.3M-75.1,-2.53h27.5m57.1,0h20.4m63,0h6.1m7,0h7.3M-75.1,-3.54h27.5m57.1,0h20.3m61.9,0h3.7m1.1,0h2.5m8.2,0h6.1M-73.9,-4.55h25.1m54.7,0h13.2m1.1,0h6.1m2.2,0h1.3m61.9,0h2.5m1,0h3.7m9.4,0h4.9M-73.9,-5.56h24m40.3,0h9.7m4.6,0h19.2m2.2,0h1.3m63,0h2.5m2.3,0h3.7m10.6,0h3.7M-73.8,-6.57h22.7m42.7,0h20.4m2.2,0h3.7m5.8,0h2.5m7.1,0h2.5m40.3,0h1.3m17.7,0h2.5m11.8,0h3.7m4.7,0h2.5M-75,-7.58h20.3m45.1,0h8.5m5.8,0h1.3m28.4,0h1.3m40.4,0h1.3m16.5,0h2.5m21.3,0h2.5M-78.5,-8.59h2.5m1.1,0h19.1m46.2,0h7.3m2.2,0h10.9m22.4,0h2.5m40.3,0h1.3m16.5,0h2.5m20.1,0h3.7M-79.7,-9.60h22.7m45.1,0h9.6m1.1,0h2.4m1.1,0h6.1m1,0h1.4m23.6,0h1.3m39.1,0h1.3m16.5,0h2.5m4.6,0h1.3m16.5,0h2.5M-80.8,-10.61h2.5m5.8,0h14.4m45,0h7.2m40.3,0h1.3m58,0h1.3m4.7,0h1.3m10.5,0h1.3m3.5,0h1.3M-81.9,-11.62h2.5m7,0h14.3m43.8,0h6.1m101.8,0h1.3m3.5,0h4.8m9.4,0h1.3m1.1,0h4.9M-81.8,-12.63h2.5m9.3,0h4.9m49.6,0h4.9m31.9,0h1.3m65,0h1.3m3.5,0h2.5m2.2,0h7.2m10.6,0h4.8M-82.9,-13.65h3.6m62.7,0h1.3m1,0h2.5m99.3,0h1.3m3.5,0h2.5m1,0h8.4M-86.4,-14.66h8.4m147.7,0h1.3m21.2,0h10.7m11.7,0h2.5M-87.5,-15.67h9.6m20,0h1.3m126.2,0h1.3m21.2,0h10.7m10.5,0h2.5M-88.5,-16.68h9.5m171,0h10.7m10.5,0h2.5M-93.1,-17.69h10.7m23.4,0h1.3m126,0h1.3m18.7,0h13.1m11.6,0h2.5M-95.3,-18.70h13m150.5,0h1.3m6.9,0h1.3m10.5,0h13m11.7,0h2.4M-94,-19.71h11.8m8.1,0h2.5m2.2,0h4.9m1,0h1.3m130.3,0h1.3m18.6,0h11.9m2.2,0h1.3m9.3,0h2.5M-92.7,-20.72h2.5m3.4,0h4.8m12.8,0h4.8m152.3,0h11.8m2.3,0h2.4M-84.4,-21.73h2.5m8.1,0h3.6m156.8,0h14.2M-83.1,-22.74h2.5m5.7,0h4.8m1.1,0h1.3m143.6,0h1.3m9.2,0h14.2m1,0h1.3M-79.4,-23.75h7.1m157.4,0h20M-76.9,-24.76h3.6m150.1,0h2.5m1,0h28.1m3.4,0h1.3M77.9,-25.78h31.5m2.2,0h1.3M-73.2,-26.79h1.3m147.3,0h33.8m2.2,0h1.2M-76.5,-27.80h2.4m150.5,0h3.6m1,0h11.7m1,0h6m1,0h1.3m1,0h7.1M-76.3,-28.81h2.4m153.6,0h15.1m2.2,0h1.3m1,0h8.2m1.1,0h2.4M-76.1,-29.82h2.4m150.9,0h3.5m3.4,0h5.9m7.9,0h2.4m1.1,0h8.2m1,0h1.3M-75.9,-30.83h2.4m149.3,0h3.6m18.3,0h3.5m1.1,0h4.7M-76.9,-31.84h2.4m126,0h1.3m20.5,0h4.7m24,0h1.2m6.8,0h1.3M-86.9,-32.85h1.2m5.6,0h5.9m123.3,0h2.4m21.6,0h2.4m30.7,0h1.3M-86.7,-33.86h1.3m1,0h10.4m66,0h1.2m1,0h3.6m50,0h1.3m22.6,0h2.4m35.2,0h1.3M-87.5,-34.87h1.3m2.1,0h11.5m63.5,0h2.3m1.1,0h2.4m50.9,0h1.3m19.2,0h2.4m1,0h1.2m28.3,0h1.3m16.9,0h1.2M-107.6,-35.88h1.3m16.8,0h1.3m1,0h4.7m1,0h10.3m116.4,0h1.3m19.1,0h3.5m25.9,0h2.4m21.4,0h2.3M-108.3,-36.89h2.4m16.8,0h4.6m1,0h2.4m3.2,0h8.1m113.7,0h2.4m16.8,0h3.5m52.9,0h3.5M-109,-37.90h2.3m17.9,0h6.9m1,0h2.3m3.3,0h5.7m101,0h1.2m8.9,0h3.5m13.4,0h3.4m58.3,0h3.5M-109.7,-38.91h3.5m14.4,0h7.9m1,0h4.6m1,0h1.3m77.1,0h5.7m1,0h1.2m31.2,0h3.5m9.9,0h6.9M-109.3,-39.92h2.4m16.6,0h12.4m102.4,0h1.2m13.2,0h2.4m8.8,0h3.5m0.9,0h1.3M-108.8,-40.93h2.3m16.6,0h7.8m1,0h3.5m100.8,0h1.3m1,0h3.4m1,0h1.2M-90.7,-41.94h9m1,0h2.3M-89.1,-42.94h5.6m102.1,0h2.4M-89.8,-43.95h4.5m6.4,0h1.3m97.2,0h1.3M-87.2,-44.95h2.3m95.7,0h2.3M-86.7,-45.95h1.2m97.4,0h1.2m22.6,0h1.2M-1.1,-46.95h3.3M-1.1,-47.94h3.3m13.8,0h3.3M15.9,-48.94h3.3M16.9,-49.93h1.2M9.4,-50.92h2.2M-65,-51.90h1.2m69,0h1.1m2,0h4.3M-96.8,-52.88h1.1m99.8,0h6.4m0.9,0h2.2M-72.4,-53.86h1.1m75.4,0h8.4M5.1,-54.84h6.3M7.1,-55.81h1.1m0.9,0h1.2M-95.5,-57.74h2.1M-92.8,-58.70h1.1m106.6,0h1.1m1.9,0h1.1M12.8,-59.65h1.1M26.5,-64.33h1.1m11.2,0h2M12,-66.17h1.1"/><path stroke="#ff6000" d="M144.6,47.94h2.3M145.4,46.95h3.4M147.3,45.95h3.3M126.3,44.95h3.3m19.5,0h2.3M126.9,43.95h2.3m20.7,0h2.3M152.8,42.94h1.2M-52.4,39.92h1.2m176,0h4.5M-53.8,38.91h3.5m176.7,0h1.2m1,0h1.3m1,0h1.2m2.1,0h1.3M-54,37.90h2.4m156,0h1.3m24.5,0h5.8m20.1,0h1.2M-53.1,36.89h4.7m152.1,0h2.4m25.8,0h4.6M-52.1,35.88h4.6M-53.4,34.87h6.9M-54.7,33.86h8M-57.2,32.85h1.3m1,0h9.2m185.1,0h1.2M-55.1,31.84h10.5m68.6,0h1.3m114.5,0h1.3M-61,30.83h1.3m3.3,0h11.6m67.7,0h1.3m116,0h1.3M-60,29.82h1.3m2.2,0h11.6m184.3,0h2.4M-60.1,28.81h2.4m2.2,0h10.5m184.7,0h2.5M-62.6,27.80h1.3m1,0h16.4m70.5,0h1.3m112.2,0h1.2M-58.1,26.79h1.3m1,0h12.9m182.1,0h2.4M-58.2,25.78h16.4m83.6,0h1.3m96.4,0h1.3M-59.5,24.76h20m81.4,0h1.3m94.2,0h1.3m1,0h1.3M-65.4,23.75h1.3m4.5,0h21.1m67.6,0h3.6m8.1,0h2.4m94.4,0h1.3m15.1,0h1.3M-66.7,22.74h1.3m5.7,0h1.3m1.1,0h20m66.5,0h3.6m8.1,0h3.6m92.2,0h1.3m15.1,0h2.4M-64.5,21.73h1.3m3.4,0h22.4m69,0h1.2m8.1,0h1.3m1.1,0h2.4M-66.9,20.72h1.3m5.7,0h23.6m67.9,0h2.5m6.9,0h1.3m1,0h2.5m112.5,0h1.2M-67,19.71h3.6m3.4,0h17.8m3.4,0h2.4m69.2,0h2.5m6.9,0h2.5M-68.3,18.70h1.3m2.2,0h1.3m3.4,0h17.8m3.4,0h2.5m69.3,0h3.6m5.8,0h1.3m1,0h1.3m76.4,0h1.3m34,0h1.3M-69.6,17.69h1.3m1.1,0h23.7m5.7,0h1.3m78.8,0h3.7m76.5,0h1.3m12.8,0h1.3M-68.5,16.68h3.7m1,0h17.9m89.5,0h2.5m110.7,0h1.3M-69.7,15.67h24.9m88.4,0h2.5M-69.8,14.66h1.3m1,0h2.5m1.1,0h19m89.8,0h1.3m77.9,0h4.9M-72.3,13.65h4.9m2.2,0h20.3m82.7,0h1.3m84,0h7.2m3.4,0h2.5M-72.3,12.63h4.8m1.1,0h20.2m84.1,0h1.3m86.4,0h2.4m7,0h1.3M-72.4,11.62h6m1.1,0h20.3m8.2,0h1.3m73.4,0h1.3m113.7,0h1.3M-73.7,10.61h6.1m1.1,0h1.3m1,0h19.2m157.7,0h2.5m2.3,0h2.5m20,0h2.5m9.4,0h1.3M-73.7,9.60h6m2.3,0h1.3m1.1,0h3.7m1,0h14.4m7,0h1.3m146,0h6.1m1,0h3.7m11.8,0h3.7m2.2,0h2.5m10.6,0h1.3M-74.9,8.59h1.3m1,0h2.5m1.1,0h12m1.1,0h9.6m10.6,0h2.5m135.4,0h7.2m5.8,0h1.4m8.2,0h1.3m4.6,0h10.8m8.2,0h1.3M-73.8,7.58h8.4m1.1,0h19.2m1,0h1.3m4.7,0h2.5m1,0h1.4m133.1,0h8.4m22.5,0h9.6m8.2,0h1.3M-76.2,6.57h3.7m1,0h15.6m1.1,0h12m1.1,0h1.3m3.4,0h2.5m134.4,0h2.5m24.9,0h1.3m2.2,0h9.7m1.1,0h2.5m3.4,0h1.3M-73.9,5.56h12m2.3,0h4.9m2.3,0h1.3m2.2,0h15.6m132.1,0h2.5m11.7,0h3.7m13,0h1.3m1.1,0h7.3m3.4,0h2.5M-77.5,4.55h21.6m1.1,0h19.1m133.3,0h3.7m7,0h1.3m3.5,0h4.9m9.4,0h10.8m5.9,0h1.3M-77.5,3.54h4.9m1.1,0h34.6m48.8,0h4.8m2.3,0h3.7m1.1,0h1.3m71.4,0h4.8m3.5,0h6.1m2.2,0h3.7m3.5,0h1.3m1.1,0h2.5m1,0h10.9m7,0h1.3M-76.3,2.53h2.5m1,0h8.5m1.1,0h22.7m51.2,0h6m1.1,0h1.3m1.1,0h7.3m69,0h4.9m3.4,0h6.1m2.3,0h3.7m9.4,0h2.5m1,0h4.9m4.7,0h1.3M-77.5,1.52h8.4m1.1,0h24m53.5,0h18m2.2,0h1.4m63,0h6.1m4.6,0h7.3m1.1,0h3.7m8.2,0h4.9M-77.6,0.51h4.9m2.3,0h13.2m2.3,0h2.5m1.1,0h4.9m57.1,0h4.9m1,0h14.5m63,0h4.9m4.7,0h8.4m1.1,0h2.5m5.9,0h1.3m2.2,0h2.5M-76.4,-0.51h1.3m2.3,0h1.3m2.3,0h4.9m1,0h15.7m58.3,0h2.5m3.4,0h12.1m65.4,0h4.9m4.7,0h9.6m1.1,0h4.9m2.3,0h1.3M-76.4,-1.52h12.1m4.6,0h1.3m1.1,0h9.7m59.5,0h18m63,0h4.9m5.9,0h9.6m1.1,0h1.3m2.3,0h1.3m2.2,0h1.3M-75.1,-2.53h27.5m59.5,0h16.8m64.2,0h6.1m7,0h7.3M-75.1,-3.54h3.7m1,0h19.2m1.1,0h2.5m58.3,0h8.4m1.1,0h1.3m1.1,0h1.3m1.1,0h1.3m65.4,0h3.7m1.1,0h2.5m8.2,0h2.5m1,0h2.6M-73.9,-4.55h19.2m1,0h4.9m54.7,0h2.5m5.8,0h2.5m75,0h2.5m1,0h3.7m9.4,0h4.9M-73.9,-5.56h24m41.5,0h8.5m4.6,0h7.3m78.4,0h2.5m2.3,0h3.7m10.6,0h3.7M-73.8,-6.57h22.7m43.9,0h19.2m22.5,0h1.3m59.3,0h2.5m11.8,0h3.7m4.7,0h2.5M-75,-7.58h20.3m46.3,0h4.9m79.6,0h1.3m16.5,0h2.5m21.3,0h2.5M-78.5,-8.59h2.5m1.1,0h19.1m46.2,0h4.9m98.5,0h2.5m20.1,0h3.7M-79.7,-9.60h22.7m46.2,0h4.9m98.5,0h2.5m22.4,0h2.5M-80.8,-10.61h2.5m5.8,0h14.4m46.2,0h4.8m100.8,0h1.3m4.7,0h1.3m10.5,0h1.3m3.5,0h1.3M-81.9,-11.62h2.5m7,0h14.3m45,0h3.7m103,0h1.3m3.5,0h2.5m1,0h1.3m9.4,0h1.3m1.1,0h4.9M-81.8,-12.63h2.5m9.3,0h4.9m52,0h1.3m99.4,0h1.3m3.5,0h2.5m2.2,0h3.7m1.1,0h1.3m11.7,0h4.8M-82.9,-13.65h3.6m171.6,0h2.5m1,0h7.3M-86.4,-14.66h8.4m147.7,0h1.3m21.2,0h9.6m12.8,0h2.5M-87.5,-15.67h9.6m147.5,0h1.3m21.2,0h9.5m11.7,0h2.5M-88.5,-16.68h9.5m171,0h10.7m10.5,0h2.5M-93.1,-17.69h10.7m170.7,0h13.1m11.6,0h2.5M-95.3,-18.70h3.6m1.1,0h8.3m170.5,0h13m11.7,0h2.4M-91.7,-19.71h1.3m1.1,0h7.1m8.1,0h2.5m2.2,0h4.9m1,0h1.3m150.2,0h11.9m12.8,0h2.5M-83.3,-20.72h1.3m12.8,0h4.8m152.3,0h11.8M87.8,-21.73h13M-81.9,-22.74h1.3m5.7,0h2.5m1,0h1.3m158.9,0h9.5m1,0h1.3M-79.4,-23.75h7.1m158.6,0h11.8M-76.9,-24.76h3.6m158.3,0h21.1m5.7,0h1.3M79,-25.78h2.5m3.3,0h23.4m3.4,0h1.3M81.2,-26.79h12.9m1,0h1.3m1,0h1.3m1,0h3.7m1,0h1.3M-75.3,-27.80h1.2m151.6,0h1.3m4.5,0h7.1M-76.3,-28.81h2.4m158.2,0h7m11.5,0h1.3m2.1,0h1.3M-76.1,-29.82h2.4m158.9,0h3.6m14.9,0h1.2M-75.9,-30.83h2.4m150.5,0h1.2m24.1,0h1.2M-75.7,-31.84h1.2m149,0h1.2M-78.9,-32.85h4.7M-79.8,-33.86h5.8M-80.7,-34.87h1.3m1,0h5.8M-77,-35.88h1.2m1.1,0h1.2m139.1,0h1.2M-108.3,-36.89h1.2m21.3,0h1.3m147.6,0h1.2M-109,-37.90h2.3m149.3,0h1.3M-108.6,-38.91h2.4m17.7,0h2.4m1,0h1.2m140.9,0h2.4M-109.3,-39.92h2.4m17.7,0h1.2m1,0h1.2m2.2,0h1.2M-87.7,-40.93h2.3M-87.3,-41.94h2.3M-86.9,-42.94h1.2M-0.1,-46.95h2.3M-1.1,-47.94h1.2M6.2,-52.88h3.2M5.1,-53.86h3.2M8.2,-54.84h1.1"/><path stroke="#d82828" d="M126.3,44.95h2.3m20.5,0h2.3M104.4,37.90h1.3M-51.9,36.89h1.2m1,0h1.3m183.6,0h1.3M-52.1,35.88h4.6M-52.3,34.87h2.4m1,0h2.4M-52.5,33.86h5.8M-53.8,32.85h1.3m1,0h5.8M-55.1,31.84h1.3m1,0h5.9m1,0h1.3m184.4,0h1.3M-51.8,30.83h7m185,0h1.3M-54.2,29.82h7m1,0h1.3m185.5,0h1.2M-54.4,28.81h9.4M-53.3,27.80h8.2m185.2,0h1.2M-54.6,26.79h9.4m1,0h1.3M-55.9,25.78h12.9m182.5,0h1.3M-56,24.76h13m182.7,0h1.3M-57.2,23.75h1.2m1.1,0h10.6m1.1,0h1.2m71.1,0h2.5m10.4,0h1.2M-57.3,22.74h1.3m1,0h14.1m2.3,0h1.3m67.6,0h1.3m121.5,0h2.4M-58.6,21.73h13m2.2,0h1.3m1.1,0h1.3m1,0h1.3m80.7,0h1.3M-59.9,20.72h11.9m1,0h1.3m8.1,0h1.3m194.6,0h1.2M-57.6,19.71h2.5m1,0h8.4m8.1,0h1.2m69.2,0h2.5M-56.5,18.70h1.3m1,0h3.7m1,0h1.3m1.1,0h1.3m88.1,0h1.3m114,0h1.3M-57.8,17.69h1.3m2.3,0h6M-60.2,16.68h1.3m3.4,0h1.3m1.1,0h1.3m1,0h4.9m202.7,0h1.3M-56.8,15.67h1.3m1.1,0h2.5m1,0h1.4m2.2,0h1.3M-61.6,14.66h2.5m1.1,0h3.7m1,0h3.7M-62.8,13.65h2.5m1,0h1.4m1,0h1.3m3.5,0h2.4m176.3,0h1.3M-71.2,12.63h1.3m8.2,0h1.3m1.1,0h1.3m1.1,0h4.8m1.1,0h1.3m2.2,0h1.3m171.8,0h1.3M-57,11.62h6.1m1,0h2.5m1.1,0h1.3m82.9,0h1.3M-55.9,10.61h6.1m1.1,0h2.5m158.9,0h1.3m3.5,0h2.5m20,0h1.3m10.6,0h1.3M-57.1,9.60h1.3m2.3,0h2.5m2.2,0h1.3m157.9,0h6.1m1,0h1.4m1,0h1.3m11.8,0h3.7m3.4,0h1.3m10.6,0h1.3M-59.5,8.59h1.3m3.5,0h2.5m2.2,0h3.7m148.5,0h7.2m5.8,0h1.4m8.2,0h1.3m4.6,0h2.5m1.1,0h2.5m1,0h3.7M-59.5,7.58h2.5m1,0h4.9m4.7,0h1.3m146.1,0h7.3m23.7,0h2.5m1,0h1.3m1.1,0h2.5m8.2,0h1.3M-69.1,6.57h2.5m3.5,0h1.3m2.2,0h1.3m21.3,0h1.4m135.5,0h2.5m24.9,0h1.3m9.4,0h2.5m1.1,0h2.5M-67.9,5.56h1.3m7,0h1.3m11.8,0h1.3m5.8,0h1.4m2.2,0h1.3m133.3,0h2.5m11.7,0h3.7m26.1,0h2.5M-70.3,4.55h3.7m1,0h1.3m2.3,0h1.3m1.1,0h2.5m9.4,0h3.7m1.1,0h1.3m3.4,0h1.3m134.5,0h3.7m7,0h1.3m3.5,0h1.3m1.1,0h2.5m9.4,0h1.3m15.4,0h1.3M-68,3.54h4.9m2.3,0h4.9m1,0h1.3m4.7,0h7.3m1,0h1.3m1.1,0h1.3m48.8,0h1.3m83.3,0h4.8m3.5,0h6.1m2.2,0h1.3m1.1,0h1.3m3.5,0h1.3m1.1,0h2.5m1,0h3.7m1.1,0h1.3m1.1,0h1.3m9.4,0h1.3M-68,2.53h1.3m10.6,0h3.7m1.1,0h1.3m2.3,0h4.9m54.7,0h1.3m7,0h1.3m1.1,0h1.3m72.6,0h2.5m1.1,0h1.3m3.4,0h6.1m2.3,0h1.3m1,0h1.4m9.4,0h2.5m1,0h2.6m1,0h1.3m4.7,0h1.3M-68,1.52h1.3m5.8,0h1.4m2.2,0h1.3m2.3,0h1.3m5.8,0h1.4m55.9,0h3.7m1,0h1.3m3.5,0h1.3m2.3,0h1.3m69,0h6.1m4.6,0h6.1m3.5,0h2.5m8.2,0h4.9M-51.3,0.51h1.3m2.2,0h1.4m58.3,0h1.3m10.6,0h1.3m69,0h4.9m4.7,0h3.7m1,0h2.5m2.3,0h2.5m5.9,0h1.3m2.2,0h2.5M-50.1,-0.51h1.3m70.2,0h1.3m3.5,0h1.3m66.6,0h4.9m4.7,0h2.5m1,0h1.4m3.4,0h1.3m1.1,0h4.9m2.3,0h1.3M-74,-1.52h1.3m2.3,0h1.3m3.5,0h1.3m7,0h1.3m3.5,0h1.3m1.1,0h2.5m63,0h1.3m9.5,0h2.5m64.2,0h4.9m7,0h1.4m8.2,0h1.3m2.3,0h1.3m2.2,0h1.3M-75.1,-2.53h1.3m8.2,0h1.3m10.6,0h1.3m2.3,0h1.3m61.9,0h2.5m9.4,0h3.7m64.2,0h1.3m1.1,0h3.7m7,0h1.3m3.5,0h1.3M-75.1,-3.54h1.3m1.1,0h1.3m2.2,0h1.3m1.1,0h2.5m2.3,0h3.7m3.4,0h2.5m2.3,0h1.3m61.8,0h2.5m1.1,0h1.3m75,0h2.5m1.1,0h2.5m12.9,0h1.4M-73.9,-4.55h1.3m8.2,0h7.3m7,0h1.3m140.5,0h2.5m1,0h3.7m10.6,0h3.7M-73.9,-5.56h1.3m5.9,0h1.3m1,0h10.9m48.7,0h4.9m4.6,0h4.9m80.8,0h2.5m3.5,0h2.5m10.6,0h3.7M-72.7,-6.57h20.4m46.3,0h13.2m87.9,0h2.5m13,0h2.5m4.7,0h2.5M-75,-7.58h6.1m1,0h1.4m1,0h10.8m47.5,0h2.5m98.6,0h1.3m22.5,0h2.5M-78.5,-8.59h2.5m1.1,0h8.4m1.1,0h9.6m46.2,0h3.7m99.7,0h2.5m20.1,0h3.7M-79.7,-9.60h22.7m46.2,0h4.9m98.5,0h2.5m22.4,0h1.4M-80.8,-10.61h2.5m5.8,0h10.8m1.1,0h1.3m47.4,0h3.7m101.9,0h1.3m4.7,0h1.3m15.3,0h1.3M-81.9,-11.62h2.5m7,0h1.3m1.1,0h4.8m1.1,0h2.5m49.7,0h1.3m104.2,0h1.3m3.5,0h1.3m12.9,0h1.3m1.1,0h4.9M-81.8,-12.63h2.5m9.3,0h3.7m158.7,0h1.3m3.4,0h2.5m15.3,0h4.8M-82.9,-13.65h3.6m171.6,0h2.5m1,0h1.3m1.1,0h2.5M-86.4,-14.66h8.4m170.2,0h9.6m12.8,0h2.5M-87.5,-15.67h9.6m170,0h9.5m11.7,0h2.5M-88.5,-16.68h6m1,0h2.5m171,0h9.5m11.7,0h2.5M-91.9,-17.69h1.3m1,0h3.7m1,0h2.5m170.7,0h13.1m11.6,0h2.5M-88.3,-18.70h6m170.5,0h10.7m1,0h1.3m12.8,0h1.3M-84.6,-19.71h1.3m13.9,0h1.3m2.3,0h1.3m153.7,0h10.7M-69.2,-20.72h1.2m1.1,0h2.5m155.8,0h3.6m1.1,0h3.6M91.3,-21.73h4.8m2.2,0h1.3M-74.9,-22.74h1.3m165.9,0h1.3m1,0h3.7M-79.4,-23.75h7.1m160.9,0h3.7m1,0h1.3M-76.9,-24.76h3.6m161.8,0h7.1m6.9,0h2.4M86,-25.78h9.4m3.4,0h1.3m1,0h4.8M84.7,-26.79h7M85.6,-27.80h3.6M-75.2,-28.81h1.3m158.2,0h3.6M-76.1,-29.82h2.4M-75.9,-30.83h2.4M-77.8,-32.85h3.6M-77.5,-33.86h1.2m1,0h1.3M-75,-34.87h1.2M-108.3,-36.89h1.2M-109,-37.90h2.3M-108.6,-38.91h1.2M-109.3,-39.92h1.3"/></g><use href="#co" fill="none" stroke="#000" stroke-width="0.75" stroke-linejoin="round"/><use href="#ol" fill="none" stroke="#333" stroke-width="0.65"/></g></defs>
<use href="#m1" x="174.9" y="220.7"/>
<use href="#m1" x="524.9" y="220.7"/>
<g transform="translate(174.9,497.55)"><g clip-path="url(#cp)" fill="none" stroke-width="1.12"><path stroke="#fffaa0" d="M-92,86.80h184M-93.2,86.49h186.4M-94.4,86.13h188.8M-95.7,85.72h191.4M-97.1,85.27h194.2M-98.6,84.78h197.2M-100,84.25h200M-101.6,83.69h203.2M-103.2,83.09h206.4M-104.8,82.46h209.6M-106.5,81.79h213M-108.1,81.10h216.2M-109.8,80.38h219.6M-97.6,79.63h64.4m12.2,0h122.5M-95.1,78.87h57.4m18.8,0h121.9M-92.5,78.09h53.5m21.4,0h122.9M-89,77.30h49.5m24.1,0h123.8M-69.7,76.50h30.5m25.2,0h124.6M-51.5,75.69h11.8m28,0h124.5M-50.4,74.87h10.2m30.9,0h123.5M-49.3,74.04h7.8m36.3,0h117.3M-48.1,73.20h6.1m41.1,0h110.8M-47.8,72.35h5.3m65.9,0h26.1m2.5,0h55.7M-47.4,71.49h4.5m73.5,0h17.7m6.9,0h49.2M-47,70.62h3.6m77,0h9m15.8,0h45.4M-46.6,69.75h2.8m80.5,0h3.7m27.6,0h14.4m7.1,0h9.1M-46.2,68.86h3.8M-44.8,67.97h2.9M-56.9,58.70h5.1m21.8,0h1.1M-58.3,57.74h5.1m23,0h1.1M-59.8,56.78h5.2M-61.2,55.81h6.2m6,0h1.1M-61.7,54.84h5.3m7.1,0h1.1M-63.1,53.86h6.3M-63.5,52.88h7.4m113.3,0h1.1M-62.9,51.90h7.5M-63.3,50.92h7.5m196.9,0h1.2M-63.6,49.93h7.5m198,0h2.3M-64,48.94h7.6m198.1,0h4.3M-64.4,47.94h8.7m199.2,0h3.4M-153.1,46.95h1.2m88.3,0h8.7m180.9,0h1.2m18.2,0h4.4M-65.1,45.95h9.9m180.8,0h3.4m18.3,0h3.3M-64.3,44.95h8.8m181.8,0h3.3m19.5,0h2.3M-64.6,43.95h9.9m181.6,0h3.4m19.6,0h2.3m1,0h1.2M-64.9,42.94h11.1m206.6,0h3.4M-65.2,41.94h12.2m178.9,0h1.2m1,0h2.3m23.1,0h4.6M-65.5,40.93h14.5m175.2,0h7.9m22.1,0h4.6M-65.8,39.92h14.6m176,0h9m21,0h2.4M-66.1,38.91h15.8m174.4,0h11.4m20,0h1.2M-65.2,37.90h13.6m156,0h2.4m16.7,0h12.5m19,0h2.3M-65.5,36.89h17.1m65.3,0h5.7m81.1,0h4.6m13.4,0h1.3m1,0h12.5M-65.7,35.88h18.2m63.3,0h9.2m79.1,0h8m8.9,0h17.1M-65.9,34.87h19.4m62.3,0h10.4m78.2,0h11.5m4.4,0h18.3M-66.1,33.86h19.4m62.6,0h11.5m77.4,0h35.4M-65.2,32.85h19.5m61.6,0h12.7m76.5,0h35.5M-65.4,31.84h20.8m59.4,0h13.9m76.7,0h35.7M-65.6,30.83h20.8m59.7,0h15m74.7,0h36.9M-65.8,29.82h20.9m58.7,0h16.2m74.8,0h37M-65.9,28.81h20.9m58.8,0h17.5m73.8,0h37.1M-66.1,27.80h22.2m57.7,0h17.5m74,0h37.2M-66.2,26.79h23.3m56.8,0h18.7m8,0h3.6m61.4,0h36M-66.3,25.78h24.5m54.5,0h19.9m8,0h3.6m61.6,0h35M-66.5,24.76h27m52.3,0h21m6.9,0h4.8m60.5,0h35M-66.6,23.75h28.1m51.3,0h21.1m5.7,0h6m60.5,0h34m13.9,0h1.3M-66.7,22.74h29.4m48.9,0h21.2m8.1,0h4.7m5.8,0h1.3m54.8,0h31.7m13.9,0h2.4M-66.8,21.73h29.4m49,0h21.2m8.1,0h4.8m8.1,0h1.3m54.9,0h29.4M-66.9,20.72h30.6m48,0h22.4m6.9,0h6m66.7,0h24.7m19.9,0h1.2M-67,19.71h30.6m46.9,0h24.8m5.7,0h6m66.9,0h23.6m29.2,0h1.3M-141.2,18.70h1.3m71.6,0h31.9m46.9,0h26m4.6,0h6m68.1,0h22.5m19.9,0h1.3m8.1,0h1.3M-69.6,17.69h33.1m47,0h27.3m4.5,0h4.9m69.4,0h14.2m2.3,0h4.8m30.5,0h1.3M-70.8,16.68h34.3m47.1,0h28.4m4.6,0h4.8m69.5,0h10.7m4.6,0h4.9m18.7,0h1.3M-72.1,15.67h35.5m47.2,0h28.4m4.6,0h3.7m70.8,0h10.7m4.6,0h3.7M-163.3,14.66h1.3m89.8,0h35.6m48.4,0h27.3m5.8,0h2.5m74.3,0h7.3m4.6,0h2.5M-73.5,13.65h36.9m48.4,0h27.3m7,0h1.3m75.7,0h7.2m3.4,0h2.5M-73.5,12.63h38m47.3,0h27.4m1,0h1.3m84.1,0h2.4m5.8,0h2.5M-74.8,11.62h40.5m47.3,0h26.2m113.7,0h1.3M-74.8,10.61h40.4m47.4,0h25m74.7,0h2.5m2.3,0h2.5m20,0h2.5m9.4,0h1.3M-74.9,9.60h41.7m45,0h26.3m72.3,0h6.1m1,0h3.7m11.8,0h3.7m2.2,0h2.5m10.6,0h1.3M-76.1,8.59h42.9m45,0h26.3m64.1,0h7.2m5.8,0h1.4m8.2,0h1.3m4.6,0h10.8m8.2,0h1.3M-76.2,7.58h43m45,0h26.3m61.8,0h8.4m22.5,0h9.6m8.2,0h1.3M-77.4,6.57h44.1m45.1,0h26.3m61.8,0h2.5m24.9,0h1.3m2.2,0h9.7m1.1,0h2.5m3.4,0h1.3M-77.4,5.56h44.1m44,0h27.5m60.6,0h2.5m11.7,0h3.7m13,0h9.7m3.4,0h2.5M-77.5,4.55h41.8m46.4,0h27.5m59.4,0h3.7m7,0h1.3m3.5,0h4.9m9.4,0h10.8m5.9,0h1.3M-77.5,3.54h40.6m46.4,0h28.7m58.3,0h4.8m3.5,0h6.1m2.2,0h3.7m3.5,0h1.3m1.1,0h2.5m1,0h10.9m7,0h1.3M-77.5,2.53h37m48.8,0h31.1m57.1,0h4.9m3.4,0h6.1m2.3,0h3.7m9.4,0h2.5m1,0h4.9m4.7,0h1.3M-77.5,1.52h33.5m52.3,0h32.3m53.5,0h6.1m4.6,0h7.3m1.1,0h3.7m8.2,0h4.9M-87.1,0.51h1.3m8.2,0h31.2m54.7,0h32.3m53.5,0h4.9m4.7,0h8.4m1.1,0h2.5m5.9,0h1.3m2.2,0h2.5M-76.4,-0.51h28.8m55.9,0h33.5m52.3,0h4.9m4.7,0h9.6m1.1,0h4.9m2.3,0h1.3M-76.4,-1.52h28.8m55.9,0h34.7m49.9,0h4.9m5.9,0h9.6m1.1,0h1.3m2.3,0h1.3m2.2,0h1.3M-75.1,-2.53h27.5m55.9,0h35.9m48.7,0h6.1m7,0h7.3M-75.1,-3.54h27.5m55.9,0h37m46.4,0h3.7m1.1,0h2.5m8.2,0h6.1M-73.9,-4.55h25.1m54.7,0h39.4m46.4,0h2.5m1,0h3.7m9.4,0h4.9M-73.9,-5.56h24m40.3,0h9.7m4.6,0h41.8m43.9,0h2.5m2.3,0h3.7m10.6,0h3.7M-73.8,-6.57h22.7m40.3,0h57.3m29.6,0h1.3m17.7,0h2.5m11.8,0h3.7m4.7,0h2.5M-75,-7.58h20.3m42.7,0h59.6m28.5,0h2.5m15.3,0h2.5m21.3,0h2.5M-78.5,-8.59h2.5m1.1,0h19.1m42.7,0h60.7m28.4,0h1.3m16.5,0h2.5m20.1,0h3.7M-79.7,-9.60h22.7m43.9,0h60.7m24.8,0h4.9m15.3,0h2.5m4.6,0h1.3m16.5,0h2.5M-80.8,-10.61h2.5m5.8,0h14.4m45,0h61.8m23.6,0h3.7m17.7,0h1.3m4.7,0h1.3m10.5,0h1.3m3.5,0h1.3M-81.9,-11.62h2.5m7,0h14.3m43.8,0h63m22.4,0h4.9m17.6,0h1.3m3.5,0h4.8m9.4,0h1.3m1.1,0h4.9M-81.8,-12.63h2.5m9.3,0h4.9m49.6,0h57m4.7,0h2.4m22.4,0h4.9m11.7,0h1.3m3.5,0h2.5m2.2,0h7.2m10.6,0h4.8M-82.9,-13.65h3.6m62.7,0h59.3m8.1,0h1.3m18.9,0h4.8m11.7,0h1.3m3.5,0h2.5m1,0h8.4M-86.4,-14.66h8.4m61.4,0h62.8m23.5,0h6m16.5,0h10.7m11.7,0h2.5M-87.5,-15.67h9.6m20,0h1.3m40,0h63.9m22.3,0h6.1m16.4,0h10.7m10.5,0h2.5M-88.5,-16.68h9.5m56.5,0h1.3m4.6,0h65m21.1,0h7.2m15.3,0h10.7m10.5,0h2.5M-93.1,-17.69h10.7m23.4,0h1.3m42.3,0h66.1m17.6,0h9.5m10.5,0h13.1m11.6,0h2.5M-95.3,-18.70h13m66.9,0h67.2m16.4,0h10.7m9.3,0h13m11.7,0h2.4M-96.4,-19.71h14.2m8.1,0h2.5m2.2,0h4.9m1,0h1.3m46.9,0h69.4m14,0h11.8m8.1,0h11.9m2.2,0h1.3m9.3,0h2.5M-146.6,-20.72h1.2m46.8,0h9.5m2.3,0h4.8m12.8,0h4.8m49.1,0h70.5m12.8,0h13m6.9,0h11.8m2.3,0h2.4M-146.4,-21.73h1.3m46.7,0h8.3m4.6,0h3.6m8.1,0h3.6m53.7,0h71.6m12.7,0h13m5.8,0h14.2M-147.3,-22.74h1.2m46.7,0h9.5m4.5,0h4.8m5.7,0h4.8m1.1,0h1.3m51.3,0h71.4m10.4,0h16.5m3.4,0h15.3m1,0h2.5M-99.3,-23.75h8.3m11.6,0h7.1m55.9,0h72.5m8,0h20m1,0h21.2M-99.1,-24.76h8.3m13.9,0h3.6m58.1,0h71.2m8,0h44.4m3.4,0h1.3M-103.6,-25.78h1.3m2.2,0h9.5m75.4,0h69.9m8,0h46.7m2.2,0h2.4M-104.5,-26.79h2.4m1.1,0h10.5m17.3,0h1.3m56.8,0h68.5m8,0h48.9m1.1,0h2.4M-104.3,-27.80h1.3m1,0h11.7m13.8,0h2.4m60.1,0h125.2M-105.2,-28.81h2.4m1.1,0h11.6m13.8,0h2.4m2.2,0h1.3m57.6,0h123.8m6.8,0h1.3M-106.1,-29.82h2.4m1.1,0h13.9m12.6,0h2.4m61,0h124.6M-105.8,-30.83h2.4m1,0h15.1m11.4,0h2.4m58.5,0h1.3m3.3,0h122M-105.5,-31.84h1.2m1.1,0h21.9m4.4,0h2.4m65.3,0h121.6M-106.4,-32.85h32.2m65,0h121.3M-106,-33.86h32m64.8,0h25.2m2.2,0h6.9m2.2,0h84.4m6.7,0h1.3M-106.8,-34.87h34.2m63.5,0h23.9m4.4,0h2.4m9,0h79.6m7.8,0h2.4M-107.6,-35.88h36.4m63.2,0h19.4m20.2,0h78.2m4.4,0h1.3m2.1,0h3.5M-108.3,-36.89h38.5m63,0h17m21.3,0h76.8m7.8,0h1.2m1,0h5.8M-109,-37.90h41.7m61.6,0h15.9m11.1,0h2.3m5.5,0h78.8m5.5,0h2.4m2.1,0h8M-109.7,-38.91h42.6m61.4,0h1.3m4.3,0h10.2m10,0h4.6m2.1,0h3.5m2.1,0h76.2m4.4,0h3.4m5.5,0h4.6M-109.3,-39.92h42.5m58.9,0h6.8m3.3,0h7.9m2.1,0h1.2m5.5,0h90.4m3.2,0h3.5m5.4,0h4.6M-108.8,-40.93h42.3m57.6,0h9m10.9,0h3.5m4.3,0h86.7m5.4,0h3.5m7.6,0h3.5M-109.4,-41.94h43.2m41.8,0h1.3m14.2,0h9m13.1,0h2.3m2.1,0h87.4m5.4,0h3.5m9.8,0h2.3M-108.9,-42.94h44.1m55.9,0h9m2,0h1.3m3.1,0h2.4m4.2,0h2.4m2,0h88.1m1,0h6.7m9.8,0h2.3M-109.5,-43.95h46.1m55.7,0h8.9m5.3,0h2.3m3.2,0h101.9m8.6,0h2.3M-109,-44.95h48.1m53.2,0h11m4.3,0h1.2m0.9,0h15.4m2.1,0h4.4m4.3,0h78.5m7.5,0h1.2M-108.4,-45.95h47.8m51.9,0h12m4.2,0h17.5m10.7,0h80.3m5.3,0h4.4M-107.8,-46.95h47.5m3.1,0h1.2m48.4,0h14.1m2.1,0h16.2m9.6,0h82m5.3,0h4.4M-107.2,-47.94h52.6m53.5,0h26.9m6.3,0h84.8m4.1,0h3.4M-106.6,-48.94h54.4m51.1,0h26.7m3.1,0h1.2m2,0h85.4m3.1,0h1.1m4.2,0h1.2M-106,-49.93h54.1m49.7,0h119.9m2,0h2.2m6.2,0h1.2M-105.4,-50.92h51.7m4.1,0h5.4m41,0h120.2m2,0h2.2M-104.8,-51.90h51.5m3,0h6.4m39.7,0h121.5m0.9,0h2.3M-105.1,-52.88h51.1m0.9,0h1.1m3,0h4.3m42.6,0h118.7m0.9,0h3.3M-105.5,-53.86h55.9m2,0h2.2m41.2,0h1.2m4,0h117.9m9.2,0h1.2M-104.8,-54.84h56.6m0.9,0h2.2m40.9,0h5.3m0.9,0h116.1m10.2,0h1.1M-144.8,-55.81h1.1m0.9,0h1.1m36.6,0h59.3m37.6,0h3.2m0.9,0h6.2m0.9,0h114.3m10.1,0h2.1M-137.7,-56.78h1.1m29.2,0h1.2m1.9,0h38.6m0.9,0h19.3m37.3,0h3.2m0.9,0h5.2m2.9,0h112.5m9,0h4.1m10,0h1.2M-134.7,-57.74h1.1m27,0h1.2m0.9,0h38.3m1.8,0h18.2m38.1,0h3.1m1.9,0h3.2m5.9,0h106.6m0.9,0h1.1m9.9,0h5.2M-130.7,-58.70h2.2m23.8,0h39m2.8,0h16.1m38.8,0h8.1m5.8,0h103.8m13.9,0h6.1M-128.6,-59.65h3m21.7,0h37.7m4.8,0h14m42.4,0h4.1m6.8,0h103.9m12.8,0h6M-126.6,-60.60h4m18.5,0h35.5m7.7,0h12.9m43,0h4.1m6.7,0h3.1m0.9,0h100.1m12.7,0h6M-123.6,-61.54h5m14.4,0h32.3m11.5,0h12.8m41.7,0h4m10.6,0h101.3m11.6,0h5.9M-123.5,-62.48h4.9m12.4,0h33.9m11.5,0h12.6m44.3,0h1.1m6.6,0h4m0.8,0h101.4m11.5,0h5.9M-124.4,-63.41h8.7m7.6,0h36.4m12.3,0h6.9m2.7,0h1.1m52.5,0h114.9m2.7,0h5.9M-127.1,-64.33h1.1m0.8,0h12.4m1.8,0h40m12.2,0h5.8m16.9,0h3.9m30.2,0h1.1m4.6,0h114.9m2.7,0h8.6M-125,-65.25h55.5m10.3,0h6.7m15.8,0h4.8m35.6,0h126.9M-123.9,-66.17h56m6.4,0h1.1m0.8,0h4.7m3.6,0h3m11,0h6.6m25.1,0h1m8.3,0h129.5M-126.4,-67.07h1.1m3.5,0h56.4m2.6,0h2m8.2,0h5.6m9.1,0h7.5m15.6,0h2m18.3,0h126.4M-117.9,-67.97h54m0.8,0h4.7m1.7,0h11.1m7.2,0h9.2m12.7,0h5.6m18.1,0h123.5M-130.3,-68.86h1m0.8,0h4.7m2.6,0h62.5m2.6,0h10.9m7.2,0h10.9m9,0h8.2m18,0h17.3m3.5,0h101.4M-129,-69.75h7.3m1.7,0h60.1m7,0h9.1m5.2,0h13.6m7.9,0h1.9m0.8,0h4.6m18.7,0h15.3m0.8,0h104M-127.7,-70.62h5.5m3.4,0h61.3m5.1,0h9m5.2,0h14.3m33.6,0h19.6m1.7,0h96.7M-126.4,-71.49h3.7m6,0h59.7m2.6,0h9.7m7.8,0h16.8m29.7,0h18.5m2.5,0h1.9m1.6,0h16.8m0.8,0h74.7M-125,-72.35h1m8.5,0h34m1.6,0h9.7m1.6,0h7m1.7,0h3.6m2.4,0h8m9.4,0h19.2m28.5,0h14.9m7.7,0h1m5.1,0h10.5m0.7,0h73.9M-112.5,-73.20h15.6m6.7,0h7m2.4,0h11.3m4.2,0h2.7m4.2,0h12.1m9.3,0h21.6m28.2,0h8.7m18.8,0h2.7m2.4,0h4.4m0.8,0h63.6m1.6,0h6.2M-109.6,-74.04h7.8m21.9,0h10.4m4.9,0h1.8m2.5,0h13.7m9.2,0h23m8.4,0h1m20.2,0h5.2m15.2,0h3.5m5.8,0h4.4m0.7,0h55.3m16,0h1M-84,-74.87h3.5m0.7,0h9.4m4.1,0h3.4m2.4,0h12.7m10.8,0h22.8m48.5,0h4.4m6.6,0h3.4m0.7,0h37.1m2.4,0h12.7M-83,-75.69h14.2m1.6,0h6.7m0.7,0h9.3m13.1,0h23.4m48.8,0h2.6m7.3,0h3.4m1.6,0h0.9m2.4,0h31.6m8.2,0h2.6M-81.9,-76.50h5m10.5,0h6.7m2.3,0h5.1m0.7,0h0.9m13,0h24.7m48.1,0h3.4m7.3,0h0.9m5.6,0h29.6m8.9,0h4.2M-80.1,-77.30h3.4m3.9,0h2.6m10.3,0h8.2m13.7,0h25.9m47.6,0h3.4m16.8,0h17.1m16,0h7.4M-75,-78.09h7.3m3.1,0h1.7m2.3,0h9.6m12.7,0h26.4m47.7,0h4.9m15.8,0h16.1m15,0h7.3M-75.5,-78.87h0.9m1.5,0h5.6m6.9,0h11.2m6.1,0h31.6m48.6,0h5.6m17.2,0h11.1M-55.8,-79.63h7.9m3.7,0h32.6m20.1,0h3.2m50.2,0h4M-67.9,-80.38h0.9m3.7,0h1.6m6,0h9.3m2.1,0h33.7m17.4,0h6.2m46.4,0h3.9M-57.9,-81.10h14.4m0.7,0h32.4m17.1,0h8.4m41.9,0h6.1M-56.2,-81.79h47.4m16.1,0h8.3m12.4,0h6.8m21.3,0h4.5M-54.6,-82.46h16.8m0.6,0h30m35.5,0h7.4m19.5,0h3M-51.6,-83.09h15.9m2,0h24.5M-46.6,-83.69h9.3m9.7,0h13.6"/><path stroke="#ffdc32" d="M143,49.93h1.2M-64,48.94h1.2m205.5,0h2.3M-64.4,47.94h1.2m206.7,0h3.4M-63.6,46.95h1.2m207.8,0h4.4M-65.1,45.95h2.3m189.5,0h1.2m19.4,0h3.3M-64.3,44.95h1.2m189.4,0h3.3m19.5,0h2.3M-64.6,43.95h2.3m189.2,0h2.3m20.7,0h2.3m1,0h1.2M-64.9,42.94h2.3m7.6,0h1.2m206.6,0h2.3M-64.1,41.94h1.2m7.6,0h2.3m178.9,0h1.2m1,0h1.2m24.2,0h3.4M-64.4,40.93h1.2m7.7,0h3.4m178.5,0h5.7m23.2,0h1.2m1,0h1.3M-63.6,39.92h1.3m6.5,0h4.6m177.1,0h6.8M-65,38.91h2.4m6.6,0h4.6m180,0h6.9M-56.2,37.90h4.6m156,0h2.4m19,0h2.3m1,0h6.9M-64.3,36.89h1.2m6.7,0h4.6m155.5,0h3.5m20.2,0h2.3m2.2,0h4.6M-64.6,35.88h2.4m6.7,0h3.5m156.1,0h3.5m21.3,0h2.4m1,0h5.8M-64.8,34.87h1.3m7.8,0h3.5m156.6,0h3.5m21.5,0h1.3m1,0h6.9M-63.9,33.86h2.4m5.6,0h1.3m1,0h1.3m157.1,0h2.4m23.8,0h3.5m1,0h4.7M-62.9,32.85h1.2m6.8,0h2.4m78.7,0h2.4m76.5,0h2.4m23.9,0h9.2M-65.4,31.84h4.7m81.3,0h8.1m76.7,0h1.3m27.4,0h3.5m1,0h2.5M-64.4,30.83h1.2m1.1,0h1.2m81.5,0h9.3m105.7,0h2.4m2.2,0h1.3M-63.5,29.82h1.3m82.9,0h9.3m95.6,0h1.2m10.3,0h2.4M-64.8,28.81h5.9m81.9,0h7.1m96.9,0h2.5m6.8,0h1.3m2.1,0h1.3M-66.1,27.80h1.3m1,0h4.8m12.6,0h1.3m68.2,0h3.6M-63.9,26.79h4.8m12.6,0h3.6m67.2,0h5.9m98.6,0h1.2m1.1,0h1.3M-65.2,25.78h1.3m1,0h2.5m1,0h1.3m11.5,0h4.8m67.3,0h6m99.8,0h1.3M-65.3,24.76h1.3m1,0h2.5m13.8,0h7.2m63.9,0h8.3M-63.1,23.75h1.3m13.9,0h9.4m64.1,0h8.3M-60.8,22.74h1.2m11.6,0h8.3m65.4,0h7.1M-48.1,21.73h10.7m65.4,0h4.8M-49.3,20.72h13m66.7,0h2.5M-49.4,19.71h11.9m53.9,0h1.3m15.1,0h2.5M-49.5,18.70h13.1m70.5,0h2.4m5.8,0h3.6M-63.7,17.69h1.3m12.9,0h11.9m70.5,0h4.9m4.5,0h3.7M-69.7,16.68h3.7m1.1,0h1.3m5.7,0h3.7m3.4,0h13.1m71.9,0h4.8m4.6,0h2.5m75.3,0h2.5M-69.7,15.67h8.3m1.1,0h7.2m3.4,0h13.1m70.8,0h4.8m4.6,0h3.7m70.8,0h10.7M-72.2,14.66h10.8m2.2,0h6m2.3,0h14.3m49.5,0h1.4m22.3,0h2.5m5.8,0h2.5m75.5,0h3.7m1.1,0h1.3M-72.3,13.65h10.8m9.4,0h15.5m50.7,0h1.3m21.2,0h2.5M-72.3,12.63h1.3m1,0h8.4m9.4,0h4.9m2.2,0h9.6m48.5,0h2.5m2.2,0h1.3m1.1,0h1.3m1.1,0h1.3m12.9,0h2.5m1,0h1.3M-73.6,11.62h8.4m1.1,0h2.5m10.5,0h3.7m2.3,0h9.6m48.5,0h14.3M-74.8,10.61h3.6m5.9,0h1.3m11.7,0h4.9m2.2,0h10.8m47.4,0h2.5m1.1,0h9.6M-74.9,9.60h3.7m20.1,0h3.6m2.3,0h7.2m1.1,0h2.5m46.2,0h4.9m18.9,0h1.3m73.5,0h3.7m1.1,0h1.3M-74.9,8.59h3.6m20.1,0h12m1.1,0h2.5m47.4,0h4.9m17.7,0h3.7m64.1,0h7.2m5.8,0h1.4M-76.2,7.58h3.7m21.3,0h14.4m48.6,0h4.9m16.5,0h3.7m63,0h8.4M-75,6.57h1.3m22.5,0h15.6m47.4,0h3.7m17.8,0h4.8m61.8,0h2.5m34.4,0h1.3M-75.1,5.56h1.3m23.7,0h8.5m1.1,0h3.7m48.6,0h3.7m16.6,0h4.9m61.8,0h2.5m12.9,0h1.3M-71.5,4.55h1.3m20.1,0h9.7m2.2,0h1.3m49.9,0h2.5m14.2,0h4.9m1.1,0h2.5m59.4,0h3.7m13,0h2.5M-50.1,3.54h3.7m2.3,0h1.3m1,0h1.3m1.1,0h1.3m67.8,0h2.5m1.1,0h3.7m59.5,0h4.8m3.5,0h2.5m7,0h2.5M-45.3,2.53h1.3m73.7,0h7.3m59.5,0h4.9m3.4,0h2.5m5.9,0h3.7M-46.6,1.52h1.4m74.9,0h4.9m59.5,0h6.1m4.6,0h2.5m7.1,0h2.5M28.6,0.51h4.8m60.7,0h4.9m4.7,0h4.9m1,0h1.3m2.3,0h2.5M28.6,-0.51h4.8m60.7,0h4.9m4.7,0h6.1m2.2,0h1.3m1.1,0h3.7M29.7,-1.52h3.7m59.5,0h4.9m5.9,0h7.2m3.5,0h1.3M28.5,-2.53h4.9m59.5,0h6.1m7,0h1.3m3.5,0h2.5M29.7,-3.54h2.5m59.5,0h3.7m1.1,0h2.5m9.4,0h1.3m1,0h2.6M-56,-4.55h1.3m83.2,0h3.7m59.5,0h2.5m1,0h3.7M-53.6,-5.56h1.3m46.3,0h6.1m4.6,0h3.7m21.3,0h2.5m58.2,0h2.5m2.3,0h3.7M-6,-6.57h20.3m15.4,0h3.7m42.7,0h1.3m17.7,0h2.5M-6,-7.58h21.5m13,0h7.2m1.1,0h1.3m38,0h2.5m15.3,0h2.5M-6,-8.59h17.9m16.6,0h9.6m37.9,0h1.3m16.5,0h2.5m20.1,0h1.3M-79.7,-9.60h1.4m84.2,0h2.5m14.1,0h1.3m1.1,0h15.5m32,0h4.9m15.3,0h2.5m4.6,0h1.3M-80.8,-10.61h2.5m71.1,0h14.4m1,0h31m33.1,0h3.7m17.7,0h1.3m4.7,0h1.3M-81.9,-11.62h2.5m66.3,0h2.5m1.1,0h15.5m2.2,0h29.8m1.1,0h1.3m30.7,0h4.9m17.6,0h1.3m3.5,0h4.8M-81.8,-12.63h2.5m69.8,0h1.3m1,0h1.3m2.3,0h14.3m2.3,0h2.5m2.2,0h1.3m2.3,0h17.9m31.8,0h4.9m16.5,0h2.5m2.2,0h7.2M-82.9,-13.65h3.6m110,0h1.3m1.1,0h1.3m36.6,0h4.8m17.7,0h1.3m1,0h8.4M-86.4,-14.66h8.4m147.7,0h6m16.5,0h10.7m11.7,0h1.4M-87.5,-15.67h9.6m83.7,0h1.3m15.3,0h1.3m45.9,0h6.1m16.4,0h10.7m10.5,0h2.5M-88.5,-16.68h9.5m148.5,0h7.2m15.3,0h10.7m10.5,0h2.5M-93.1,-17.69h10.7m102.4,0h1.3m47,0h8.3m11.7,0h13.1m11.6,0h2.5M-95.3,-18.70h13m150.5,0h9.5m10.5,0h13m11.7,0h2.4M-96.4,-19.71h14.2m8.1,0h1.3m3.4,0h4.9m78.5,0h1.3m3.4,0h1.3m7,0h1.2m39.9,0h11.8m9.3,0h10.7m2.2,0h1.3m9.3,0h2.5M-97.4,-20.72h4.8m6.9,0h3.7m12.8,0h4.8m77.2,0h2.5m53.8,0h10.7m9.3,0h10.6m2.3,0h2.4M-98.4,-21.73h6m1,0h1.3m5.7,0h2.5m8.1,0h1.3m88.8,0h1.3m50.2,0h13m5.8,0h14.2M-99.4,-22.74h7.1m8.1,0h3.6m5.7,0h1.3m140.2,0h15.3m3.4,0h1.3m1,0h13m1,0h1.3M-99.3,-23.75h6m1,0h1.3m11.6,0h7.1m137.6,0h18.8m1,0h16.5M-99.1,-24.76h6m1,0h1.3m13.9,0h3.6m138.5,0h31.6M-98.9,-25.78h7.1m155.7,0h32.7M-101,-26.79h8.2m19.6,0h1.3m122.9,0h1.3m10.3,0h33.8M-99.7,-27.80h2.5m1,0h1.3m18.4,0h2.4m125,0h2.4m4.5,0h1.3m1.1,0h37.1M-98.3,-28.81h2.5m19.5,0h2.4m131.6,0h1.3m1,0h37.1M-102.6,-29.82h1.2m1.1,0h1.2m1.1,0h1.2m20.7,0h2.4m122,0h1.3m10.3,0h37M-98.9,-30.83h1.2m21.8,0h2.4m118.3,0h1.2m6.8,0h1.3m4.5,0h26.5m1.1,0h10.4M-102.1,-31.84h1.3m14.8,0h1.2m1.1,0h2.4m4.4,0h2.4m119.1,0h3.6m10.2,0h1.3m1,0h1.3m1,0h3.5m1.1,0h17.3m2.2,0h9.3M-98.4,-32.85h1.3m6.7,0h16.2m117.6,0h3.5m13.6,0h19.6m2.1,0h1.3m3.3,0h1.3m2.1,0h7M-96.9,-33.86h2.4m9,0h11.5m116.1,0h3.5m11.3,0h1.3m3.3,0h8.1m1,0h1.2m1.1,0h2.4m2.1,0h1.3m10.1,0h1.3m3.3,0h1.2M-96.6,-34.87h4.7m82.8,0h1.2m2.2,0h1.2m43,0h5.8m14.7,0h10.3m22.6,0h2.4M-96.2,-35.88h4.6m83.6,0h5.8m40.6,0h4.7m11.2,0h1.2m1,0h11.5m24.7,0h1.3M-95.9,-36.89h4.6m84.5,0h10.2m2.2,0h1.2m31.5,0h3.5m12.3,0h13.6m25.8,0h1.3M-109,-37.90h1.2m12.3,0h5.7m21.2,0h1.3m61.6,0h13.6m22.4,0h1.2m5.5,0h3.5m12.2,0h10.3m30.2,0h1.2M-109.7,-38.91h2.3m11.1,0h6.8m89.4,0h9.1m26.7,0h3.5m13.3,0h1.3m1,0h7.9m51.4,0h1.2M-109.3,-39.92h2.4m11,0h7.9m90.2,0h1.2m2.1,0h4.6m2.1,0h1.2m16.6,0h2.4m2.1,0h2.3m1,0h1.3m8.8,0h11.2m44.5,0h4.6m5.4,0h2.4m5.4,0h2.4M-108.8,-40.93h1.2m13.2,0h6.8m98.6,0h2.4m16.5,0h2.3m1,0h2.4m6.5,0h13.4m47.6,0h2.4m7.6,0h1.3m7.6,0h2.3M-109.4,-41.94h1.2m13.1,0h9m115.9,0h3.4m1,0h1.2m2.1,0h2.3m1,0h11.2m1,0h1.2m69.5,0h1.2M-94.6,-42.94h1.2m1,0h7.8m131.8,0h1.2m19.7,0h1.2m38.4,0h1.2m15.3,0h1.2M-96.4,-43.95h1.2m1,0h1.2m1,0h7.8m76.5,0h1.2m1,0h2.3m25,0h2.3m1,0h4.5m1,0h2.3m1,0h1.2M-90.4,-44.95h6.6m76.1,0h6.7m21.6,0h4.5m2.1,0h4.4m4.3,0h3.4m2,0h2.3m22.8,0h1.2M-93.2,-45.95h1.2m2,0h6.6m74.7,0h4.4m66,0h1.2M-89.5,-46.95h8.7m142.2,0h1.2m41.9,0h1.2m3.1,0h1.2m0.9,0h1.2m3.1,0h1.2M-87.9,-47.94h7.6m103.8,0h1.2m7.4,0h1.2m55.6,0h1.2m8.4,0h1.2m13.8,0h1.2M-87.4,-48.94h7.5m91.6,0h1.1m1,0h2.2m3.1,0h6.5m3.1,0h1.2m2,0h3.3m35.1,0h1.2M-88,-49.93h7.5m93.2,0h1.1m1,0h21.3m18.9,0h1.2m40.2,0h1.1m9.5,0h4.3M-87.5,-50.92h7.5m89.4,0h26.5m69.4,0h7.5M-88,-51.90h9.5m87.9,0h28.4m17.6,0h1.2m2,0h1.1m46,0h5.3M-88.5,-52.88h9.5m88.3,0h30.3m20.7,0h1.1M-87.9,-53.86h8.4m0.9,0h1.1m86.7,0h27m1,0h1.1m0.9,0h1.2m13.3,0h1.1m5.1,0h2.2m5,0h1.2m6.1,0h1.1M-88.4,-54.84h7.3m1,0h3.2m84,0h1.2m0.9,0h2.2m1.9,0h23.7m2,0h1.1m20.4,0h1.2m11.1,0h1.2M-88.8,-55.81h8.3m0.9,0h3.2m2.9,0h1.2m76.3,0h1.2m1.9,0h3.2m0.9,0h25.6m18.2,0h1.1m4,0h1.1m0.9,0h1.2m41.7,0h1.1M-89.1,-56.78h9.2m0.9,0h1.1m0.9,0h1.1m87,0h3.1m1.9,0h3.2m0.9,0h6.2m0.9,0h7.2m2.9,0h2.1M-89.5,-57.74h9.2m6.9,0h1.1m85.3,0h1.1m0.9,0h13.2m0.9,0h3.1m0.9,0h1.1m1.9,0h1.1m2.9,0h8.2m8.9,0h2.1m0.9,0h3.2m2.8,0h1.2m17.9,0h1.2m0.8,0h1.2m15.9,0h1.1M-87.8,-58.70h6.1m7.9,0h1.1m11.8,0h1.1m52.8,0h1.1m23.8,0h1.1m1.9,0h2.1m0.9,0h2.1m1.9,0h1.1m10.8,0h11.1m0.9,0h1.1m1.9,0h7.1m0.8,0h10.1M-87.1,-59.65h5.1m99.7,0h3.1m4.9,0h2.1m3.8,0h1.1m2.8,0h1.2m1.8,0h15m0.8,0h18M-87.4,-60.60h1.1m0.9,0h2.1m10.6,0h1.1m108.8,0h2.1m0.9,0h10.9m2.8,0h1.1m0.9,0h5m0.8,0h5.1m0.8,0h1.1M-85.7,-61.54h1.1m10.6,0h1.1m69.9,0h1.1m43.7,0h1.1m0.8,0h3.1m1.8,0h1.1m32.9,0h1.1m20.3,0h1.1M85.1,-63.41h1M-120.5,-64.33h1.1m0.8,0h1.1m62.5,0h1m126.9,0h1.1M-120.1,-66.17h1m195.4,0h1m13.9,0h1M-113.5,-67.07h2.9m161.3,0h1M87.7,-68.86h1M50.5,-70.62h1m19.3,0h1.1M-93,-71.49h1m130.5,0h1M78,-72.35h1M19.5,-74.04h0.9"/><path stroke="#ffaa00" d="M-64.3,44.95h1.2m189.4,0h1.2M-64.6,43.95h1.2m190.3,0h1.2m21.8,0h1.2M-55,42.94h1.2M-64.1,41.94h1.2m7.6,0h2.3M-55.5,40.93h3.4m180.8,0h2.3M-55.8,39.92h3.5m180.4,0h4.6M-56,38.91h3.5m182.2,0h4.6M-55.1,37.90h3.5m181.8,0h5.8M-55.3,36.89h3.5m155.5,0h3.5m24.7,0h4.6M-55.5,35.88h3.5m156.1,0h3.5m24.7,0h5.8M-55.7,34.87h3.5m156.6,0h2.4m27.1,0h4.7M-53.6,33.86h1.3m157.1,0h2.4m26,0h1.3m1,0h4.7M-62.9,32.85h1.2m166.8,0h2.4m26.2,0h1.2m3.3,0h2.4M22.9,31.84h4.7m77.8,0h1.3m27.4,0h1.2m4.5,0h1.3M21.8,30.83h7M21.8,29.82h1.3m1,0h1.3m1,0h2.5M-61.3,28.81h1.3m84.2,0h2.4M-60.4,26.79h1.3m84.6,0h1.3M-46.6,25.78h4.8m68.5,0h2.4M-45.5,24.76h4.8m66.3,0h5.9M-47.9,23.75h7.1m67.6,0h5.9M-48,22.74h7.1m70.1,0h1.3m1,0h1.3M-48.1,21.73h7.2m70.1,0h1.3M-48.1,20.72h9.5m69,0h1.3M-49.4,19.71h9.5M-49.5,18.70h9.6m74,0h2.4m5.8,0h2.5M-49.5,17.69h10.7m74.1,0h2.5m4.5,0h3.7M-49.6,16.68h9.6m75.3,0h3.7m4.6,0h2.5M-68.6,15.67h4.9m6.9,0h2.5m5.8,0h9.6m1,0h1.3m73.2,0h2.4m4.6,0h2.5M-66.3,14.66h1.3m15.3,0h10.7m75.6,0h2.5M-69.9,13.65h1.3m1.1,0h1.3m1,0h1.3m12.9,0h3.7m2.3,0h8.4m74.4,0h1.3M-70,12.63h1.3m17.7,0h3.7m2.2,0h6.1m76.9,0h1.3M-73.6,11.62h1.3m3.4,0h1.4m17.6,0h2.5m2.3,0h7.2m50.9,0h2.5m2.2,0h3.7m2.3,0h2.5M-73.7,10.61h2.5m21.3,0h2.5m2.2,0h7.3m50.9,0h2.5m5.8,0h1.3M-74.9,9.60h2.5m22.4,0h2.5m2.3,0h4.9m52.1,0h3.7M-74.9,8.59h2.4m22.5,0h2.5m2.3,0h4.8m54.6,0h1.3m86.7,0h7.2m5.8,0h1.4M-75,7.58h1.3m24.9,0h8.4m53.4,0h2.5m87.9,0h4.9M-48.9,6.57h7.3m53.4,0h3.7m19,0h1.3M-47.7,5.56h1.3m1.1,0h3.7m54.6,0h2.5m19,0h2.5M35.7,4.55h1.3m77.3,0h2.5M-48.9,3.54h1.3m83.3,0h1.3m60.6,0h2.5m14.2,0h2.5M29.7,2.53h3.7m1.1,0h1.3m60.7,0h4.9m13,0h2.5M29.7,1.52h2.5m61.9,0h6.1m4.6,0h2.5m7.1,0h2.5M29.7,0.51h2.6m61.8,0h4.9m5.9,0h2.5m7,0h1.3M29.7,-0.51h2.6m61.8,0h4.9m5.9,0h2.5m7,0h1.3M29.7,-1.52h2.5m60.7,0h4.9M29.7,-2.53h2.5m60.7,0h6.1M29.7,-3.54h2.5m59.5,0h3.7m1.1,0h2.5M29.7,-4.55h2.5m59.5,0h2.5m1,0h3.7M30.9,-5.56h1.3m58.2,0h2.5m2.3,0h3.7M-6,-6.57h15.6m66.5,0h1.3m17.7,0h2.5M-6,-7.58h18m18.9,0h1.3m1,0h2.5m40.4,0h1.3m16.5,0h2.5M-4.8,-8.59h14.4m20.1,0h7.2m39.1,0h1.3m16.5,0h2.5m20.1,0h1.3M-79.7,-9.60h1.4m106.7,0h7.3m2.3,0h1.3m35.5,0h2.5m15.3,0h2.5M-80.8,-10.61h2.5m72.3,0h1.3m1.1,0h6m5.8,0h1.4m3.4,0h1.3m7,0h1.3m2.3,0h1.3m3.4,0h7.3m56.8,0h1.3M-81.9,-11.62h2.5m73.4,0h3.7m2.2,0h4.9m4.6,0h4.9m8.2,0h1.3m3.4,0h1.3m1.1,0h6m35.5,0h2.5m20,0h1.3m3.5,0h1.3M-81.8,-12.63h2.5m76.9,0h1.3m1,0h1.3m1.1,0h1.3m5.8,0h1.3m12.9,0h2.5m44.9,0h3.7m17.7,0h2.5m2.2,0h4.9M-82.9,-13.65h3.6m150.3,0h1.3m21.2,0h1.3m1,0h8.4M-82.8,-14.66h4.8m147.7,0h6m16.5,0h10.7m11.7,0h1.4M-87.5,-15.67h1.3m1.1,0h7.2m147.5,0h6.1m17.6,0h9.5m10.5,0h2.5M-88.5,-16.68h9.5m149.7,0h1.3m1.1,0h1.3m1,0h1.3m15.3,0h10.7m10.5,0h2.5M-93.1,-17.69h10.7m151.8,0h4.9m16.3,0h10.8m11.6,0h2.5M-94.2,-18.70h11.9m151.6,0h8.4m14,0h9.5m11.7,0h2.4M-92.8,-19.71h1.2m1.1,0h2.5m1,0h1.3m1.1,0h2.4m14,0h3.7m133.7,0h1.3m2.3,0h4.8m15.1,0h7.2m12.8,0h2.5M-84.5,-20.72h2.5m13.9,0h3.7m134.7,0h7.2m12.7,0h1.3m1.1,0h7.1M-83.2,-21.73h1.3m150.9,0h8.3m12.8,0h10.7M-98.3,-22.74h1.3m2.3,0h1.2m162.4,0h1.3m1,0h6m1.1,0h1.2m1.1,0h1.3m3.4,0h1.3m3.3,0h10.7M-79.4,-23.75h7.1m142.3,0h9.4m2.2,0h1.3m2.2,0h3.7m1,0h11.8M-94.4,-24.76h1.3m16.2,0h3.6m143.1,0h1.3m1.1,0h12.9m1,0h1.3m1.1,0h8.3M-98.9,-25.78h2.4m163.9,0h1.3m1,0h25.7M64.9,-26.79h1.3m1.1,0h29.1M-76.5,-27.80h2.4m137.7,0h25.6m1.1,0h5.9M-76.3,-28.81h2.4m135.1,0h1.3m1,0h22.1m1,0h2.4m2.2,0h4.8M-76.1,-29.82h2.4m134.7,0h1.3m1,0h20.9m1,0h4.8m1,0h5.9M-75.9,-30.83h2.4m137.8,0h15.1m3.3,0h1.3m6.8,0h5.8M-83.7,-31.84h2.4m4.4,0h2.4m143.2,0h1.3m1,0h5.9m14.7,0h1.3m1,0h2.5M-85.8,-32.85h11.6m117.6,0h2.4m21.6,0h1.2m1.1,0h4.7m19.3,0h1.2M-79.8,-33.86h4.7m117.2,0h2.4m18.1,0h1.3m1,0h4.7M40.8,-34.87h2.4m16.9,0h8.1M-8,-35.88h2.4m45.1,0h2.4m15.8,0h9.1M-93.6,-36.89h2.3m84.5,0h9.1m36,0h2.4m14.5,0h9.1M-109,-37.90h1.2m13.4,0h3.5m85.2,0h12.5m30.2,0h2.4m14.5,0h1.2m1,0h5.7M-109.7,-38.91h2.3m13.3,0h3.5m90.5,0h8m29,0h1.2m17.8,0h4.6M-109.3,-39.92h2.4m14.3,0h2.4m95.7,0h4.6m19.9,0h2.4m3.2,0h1.2m18.9,0h2.3M-108.8,-40.93h1.2m13.2,0h1.2m1,0h4.6m118.6,0h1.2m2.1,0h1.3m9.8,0h1.3m1,0h2.3m3.2,0h1.2m58.7,0h1.3m7.6,0h2.3M-94,-41.94h1.3m0.9,0h4.6m129.1,0h1.2M-92.4,-42.94h6.7M-90.9,-43.95h5.6m115.9,0h1.2M-89.4,-44.95h5.6m76.1,0h1.2m30.4,0h1.2m2.1,0h1.2m0.9,0h1.3M-88.9,-45.95h5.5M-88.4,-46.95h5.5M-86.9,-47.94h4.4M-86.4,-48.94h5.5m103.2,0h1.2m0.9,0h1.2M-84.8,-49.93h4.3m96.3,0h1.2m4.1,0h6.5M-86.4,-50.92h5.4m102,0h1.2m2,0h1.1m1,0h3.3m0.9,0h2.2m2,0h1.2m70.4,0h1.2m0.9,0h2.3M-85.9,-51.90h6.4m89.9,0h1.2m9.3,0h3.2m2,0h9.6m72.1,0h1.1M-85.4,-52.88h2.2m0.9,0h2.2m94.6,0h1.2m0.9,0h1.1m1,0h3.2m4.1,0h1.1m0.9,0h2.2M-86.9,-53.86h4.3m1.9,0h1.2m90.8,0h1.2m4,0h7.3m0.9,0h1.2m0.9,0h1.2m1.9,0h2.2m0.9,0h2.2M-85.3,-54.84h1.2m0.9,0h1.1m96.4,0h10.4m0.9,0h1.2m0.9,0h1.1m1.9,0h2.2M-85.7,-55.81h2.2m97.7,0h10.3m4,0h1.1M-88.1,-56.78h3.1m0.9,0h2.2m98,0h3.2m0.9,0h3.1M-86.5,-57.74h3.2m100.3,0h1.1m4.9,0h1.2M-86.8,-58.70h1.1m0.9,0h1.1m125.5,0h1.1m0.9,0h1.1m0.9,0h1.1m1.9,0h1.1m9.9,0h1.1M-85.1,-59.65h1.1m124.5,0h1.1m1.9,0h1.1m0.8,0h1.1m9.8,0h1.1M44.1,-60.60h2.1m0.8,0h1.1m0.9,0h1.1"/><path stroke="#ff7800" d="M-64.3,44.95h1.2M-64.6,43.95h1.2M-54.2,41.94h1.2M-54.4,40.93h2.3M-53.6,39.92h1.3m181.5,0h3.5M-54.9,38.91h2.4m182.2,0h3.5M-55.1,37.90h2.4m184.1,0h2.3m1,0h1.3M-55.3,36.89h2.4m184.8,0h4.6M-55.5,35.88h2.4m157.2,0h2.3m27.1,0h4.6M-54.6,34.87h1.3m157.7,0h2.4m28.3,0h3.5M104.8,33.86h2.4m29.5,0h3.5M105.1,32.85h1.3m31.8,0h2.4M26.3,31.84h1.3M21.8,30.83h1.3m1,0h2.4M24.1,29.82h1.3m1,0h1.3M-44.3,24.76h1.3m72.1,0h1.2M-43.2,23.75h2.4m69.9,0h1.3M-48,22.74h6m71.2,0h1.3M-48.1,21.73h6M-47,20.72h2.5m1.1,0h3.6M-48.2,19.71h2.5m1,0h3.7M-47.1,18.70h3.6m78.7,0h1.3M-48.4,17.69h7.2m76.5,0h2.5m4.5,0h3.7M-48.4,16.68h8.4m75.3,0h3.7m4.6,0h2.5M-56.8,15.67h2.5m5.8,0h7.2m1.1,0h1.3m75.5,0h2.4m4.6,0h2.5M-49.7,14.66h2.5m1,0h6.1m77.9,0h1.3M-49.8,13.65h2.5m2.3,0h6m76.8,0h1.3M-49.8,12.63h2.5m2.2,0h6.1M-48.7,11.62h1.3m2.3,0h4.8m65.1,0h1.4M-48.7,10.61h1.3m3.4,0h2.5m54.5,0h1.3M-73.7,9.60h1.3m23.6,0h1.3m2.3,0h1.3m1.1,0h2.5m53.3,0h1.3M-73.8,8.59h1.3m27.3,0h2.5m56.9,0h1.3m86.7,0h7.2m5.8,0h1.4M-44.1,7.58h2.5m54.6,0h2.5m89.1,0h1.3M13,6.57h1.3M13,5.56h2.5M97.6,3.54h2.5m15.4,0h1.3M30.9,2.53h1.3m64.3,0h3.7M29.7,1.52h2.5m63.1,0h4.9m4.6,0h2.5M29.7,0.51h2.6m63,0h3.7m5.9,0h2.5m7,0h1.3M29.7,-0.51h2.6m61.8,0h4.9m5.9,0h2.5M29.7,-1.52h2.5m60.7,0h4.9M30.9,-2.53h1.3m60.7,0h4.9M29.7,-3.54h2.5m59.5,0h3.7m1.1,0h1.3M91.7,-4.55h2.5m1,0h2.5M91.6,-5.56h1.3m2.3,0h2.5M-6,-6.57h14.4m67.7,0h1.3m17.7,0h2.5M-6,-7.58h15.6m66.5,0h1.3m16.5,0h2.5M-3.6,-8.59h1.3m3.4,0h6.1m23.6,0h3.7m41.5,0h1.3m16.5,0h2.5m20.1,0h1.3M28.4,-9.60h7.3m39.1,0h1.3m16.5,0h2.5M-80.8,-10.61h2.5m74.7,0h1.3m33.1,0h3.7m59.2,0h1.3M-81.9,-11.62h2.5m110.2,0h4.8m58,0h1.3m3.5,0h1.3M-80.6,-12.63h1.3m150.3,0h3.7m17.7,0h1.3m3.4,0h1.3m1.1,0h1.3M-80.6,-13.65h1.3m172.8,0h1.3m1,0h6.1M-80.5,-14.66h2.5m150.1,0h3.6m17.7,0h9.5m11.7,0h1.4M-81.6,-15.67h1.3m1.1,0h1.3m148.7,0h2.5m1.1,0h1.3m17.6,0h9.5m10.5,0h2.5M-88.5,-16.68h6m1,0h1.3m155.6,0h1.3m16.4,0h9.6m10.5,0h2.5M-93.1,-17.69h10.7m153,0h2.5m19.9,0h8.4m11.6,0h2.5M-93,-18.70h6m1.1,0h3.6m152.8,0h1.3m2.2,0h2.5m16.4,0h8.3m11.7,0h2.4M-83.5,-19.71h1.3m174.9,0h7.2m12.8,0h2.5M-84.5,-20.72h2.5m13.9,0h3.7m134.7,0h4.8m17.5,0h7.1M-83.2,-21.73h1.3m174.3,0h2.5m1,0h4.9M71.2,-22.74h1.3m2.3,0h1.2m15.1,0h9.5M-78.2,-23.75h4.7m144.6,0h2.5m2.2,0h3.6m8.1,0h1.3m2.2,0h7.1M-76.9,-24.76h3.6m146.6,0h10.6m2.2,0h1.3m2.2,0h1.3m1.1,0h4.8M70.9,-25.78h1.3m1,0h12.9m1.1,0h2.4m2.2,0h3.6M67.3,-26.79h18.6m2.2,0h2.5m1,0h2.5M-75.3,-27.80h1.2m140.1,0h22.1m4.5,0h3.6M-75.2,-28.81h1.3m137.4,0h22.1m5.6,0h2.5m1,0h1.3M-76.1,-29.82h2.4m138.2,0h1.3m1,0h13.9m1.1,0h2.4m7.9,0h3.6M-74.8,-30.83h1.3m140.1,0h1.3m1,0h1.3m1,0h5.9m16,0h2.4M-75.7,-31.84h1.2m147.8,0h2.4M-82.4,-32.85h8.2m143.9,0h1.2M-77.5,-33.86h1.2m119.5,0h1.3m20.4,0h1.2M40.8,-34.87h2.4m18.1,0h2.4m2.1,0h1.3M-8,-35.88h1.3m46.2,0h2.4m15.8,0h8M-6.8,-36.89h8m37.1,0h2.4m15.6,0h6.9M-93.3,-37.90h1.2m87.5,0h9.2m32.4,0h2.4m14.5,0h1.2m1,0h5.7M-109.7,-38.91h2.3m13.3,0h3.5m90.5,0h8m29,0h1.2m17.8,0h4.6M-92.6,-39.92h2.4m96.8,0h1.3m22.1,0h2.4m24.4,0h1.2M-92.2,-40.93h3.5m119.7,0h1.2M-91.8,-41.94h3.5M-91.3,-42.94h3.4m1,0h1.2M-89.8,-43.95h4.5M-89.4,-44.95h5.6m113.1,0h1.3M-88.9,-45.95h5.5M-87.3,-46.95h4.4M-86.9,-47.94h4.4M-86.4,-48.94h4.4M-84.8,-49.93h3.3m103.7,0h4.3M-84.3,-50.92h3.3m105.2,0h1.1M-83.8,-51.90h4.3m106.7,0h5.3M-82.3,-52.88h1.2m101.8,0h1.2m4.1,0h1.1M-83.8,-53.86h1.2m100.1,0h3.2M-85.3,-54.84h1.2m98.4,0h1.2m0.9,0h5.2m0.9,0h2.2M-84.7,-55.81h1.2m99.8,0h7.2"/><path stroke="#ff2800" d="M129.2,39.92h1.2M-54.9,38.91h2.4m182.2,0h3.5M-55.1,37.90h2.4m184.1,0h1.2M131.9,36.89h4.6M-55.5,35.88h2.4m158.3,0h1.2m29.3,0h2.4M-54.6,34.87h1.3m157.7,0h2.4m28.3,0h3.5M104.8,33.86h2.4m30.6,0h1.3M105.1,32.85h1.3m31.8,0h2.4M24.1,30.83h1.3M-44.3,24.76h1.3M-46.8,22.74h2.4m1.1,0h1.3M-46.9,21.73h1.3m1,0h2.5M-47,20.72h1.3m2.3,0h1.2M-47.1,18.70h3.6m78.7,0h1.3M-48.4,17.69h7.2m76.5,0h2.5M-46.1,16.68h3.7m78.9,0h2.5m4.6,0h1.3M-48.5,15.67h6m80.2,0h1.3m4.6,0h1.3M-49.7,14.66h2.5m1,0h4.9m79.1,0h1.3M-48.6,13.65h1.3m2.3,0h3.6M-45.1,12.63h3.7M-45.1,11.62h3.6M-44,10.61h2.5M-45.2,9.60h1.3m56.9,0h1.3M-45.2,8.59h2.5m147.2,0h2.5m1.1,0h1.3M-44.1,7.58h1.3m55.8,0h1.3M13,5.56h1.3M97.7,2.53h1.3M95.3,1.52h4.9M30.9,0.51h1.4m63,0h3.7m5.9,0h1.3M29.7,-0.51h2.6m61.8,0h4.9M29.7,-1.52h2.5m60.7,0h4.9M30.9,-2.53h1.3m60.7,0h4.9M92.9,-3.54h2.5m1.1,0h1.3M92.8,-4.55h1.4m1,0h2.5M95.2,-5.56h2.5M-3.6,-6.57h10.8m87.9,0h2.5M-4.8,-7.58h13.2m67.7,0h1.3m16.5,0h2.5M-3.6,-8.59h1.3m35.5,0h1.3m41.5,0h1.3m16.5,0h2.5m20.1,0h1.3M32,-9.60h1.3m1.1,0h1.3m56.9,0h2.5M-80.8,-10.61h1.3m112.7,0h1.3m59.2,0h1.3M-80.7,-11.62h1.3m173,0h1.3M-80.6,-12.63h1.3m171.7,0h1.3M93.5,-13.65h1.3m1,0h6.1M-80.5,-14.66h2.5m150.1,0h1.3m21.1,0h8.4m11.7,0h1.4M94.4,-15.67h1.3m1.1,0h6m10.5,0h2.5M93.1,-16.68h1.3m1.1,0h7.2m10.5,0h2.5M-91.9,-17.69h9.5m175.4,0h2.5m1,0h1.3m1.1,0h2.5m11.6,0h2.5M-85.9,-18.70h3.6m176.3,0h2.5m3.4,0h1.3m11.7,0h2.4M92.7,-19.71h4.8m16.4,0h1.3M-83.3,-20.72h1.3m153.5,0h1.3m22.1,0h4.8M93.6,-21.73h1.3m1,0h1.3m1.1,0h1.3M92.3,-22.74h3.6m2.2,0h2.5M-77.1,-23.75h3.6m165.6,0h6M-76.9,-24.76h3.6m149,0h3.6m1,0h3.6m8.1,0h3.6M73.2,-25.78h5.9m1.1,0h4.7m6.9,0h3.6M69.6,-26.79h2.4m1.1,0h9.4m2.2,0h1.2M-75.3,-27.80h1.2m142.4,0h17.5M65.8,-28.81h18.6M-75,-29.82h1.3m142.8,0h9.3m3.4,0h2.4M-74.8,-30.83h1.3m147,0h2.4m17.2,0h1.2M-82.4,-32.85h8.2m143.9,0h1.2M40.8,-34.87h2.4M39.5,-35.88h2.4m16.9,0h2.4m3.2,0h1.3M-6.8,-36.89h1.2m1,0h3.5m39.4,0h2.4m20.1,0h2.4M-93.3,-37.90h1.2m87.5,0h4.7m1,0h2.3m55,0h3.4M-109.7,-38.91h1.2m15.6,0h1.2m91.6,0h1.3m2.1,0h1.2m1,0h1.3m50.2,0h2.4M-91.4,-39.92h1.2M-92.2,-40.93h2.4M-90.7,-41.94h2.4M-91.3,-42.94h3.4M-89.8,-43.95h1.2M-89.4,-44.95h4.5M-88.9,-45.95h5.5M-87.3,-46.95h3.3M-86.9,-47.94h4.4M-86.4,-48.94h2.3M-84.8,-49.93h2.2M-84.3,-50.92h1.1m1,0h1.2M-82.8,-51.90h1.2m109.8,0h1.2m1.9,0h1.2M17.5,-53.86h1.2M18.4,-54.84h1.2m0.9,0h1.1m0.9,0h1.2M17.3,-55.81h1.1m0.9,0h1.2m0.9,0h1.1"/><path stroke="#e60000" d="M-53.8,38.91h1.3m184.5,0h1.2M-54,37.90h1.3m184.1,0h1.2M133,36.89h3.5M105.2,35.88h1.2m30.5,0h1.2M104.4,34.87h1.3m30.5,0h1.3M137.8,33.86h1.3M105.1,32.85h1.3M-47,20.72h1.3M-48.4,17.69h3.7m80,0h1.3M36.5,16.68h2.5M-43.8,15.67h1.3m80.2,0h1.3m4.6,0h1.3M-48.5,14.66h1.3m1,0h3.7M-43.9,13.65h1.3M-42.7,12.63h1.3M97.7,1.52h1.3M30.9,0.51h1.4m64.2,0h2.5m5.9,0h1.3M30.9,-0.51h1.4m61.8,0h1.3m1.1,0h1.3M30.9,-1.52h1.3m63.1,0h1.3M30.9,-2.53h1.3m60.7,0h3.7M94.1,-3.54h1.3M92.8,-4.55h1.4m1,0h2.5M95.2,-5.56h2.5M-3.6,-6.57h4.9m1,0h2.5m90.3,0h1.4M-3.6,-7.58h4.8m3.5,0h1.3M76,-8.59h1.3m16.5,0h2.5M92.6,-9.60h1.3M-80.8,-10.61h1.3M-80.7,-11.62h1.3M95.8,-13.65h2.5m1.1,0h2.5M-79.3,-14.66h1.3m173.7,0h4.9m1,0h1.3m11.7,0h1.4M96.8,-15.67h3.7m12.8,0h2.5M96.7,-16.68h4.8m12.9,0h1.3M-89.6,-17.69h1.3m1.1,0h1.3m2.2,0h1.3m195.4,0h2.5M95.2,-18.70h1.3m17.5,0h1.3M96.3,-19.71h1.2M94.9,-20.72h1.3m1.1,0h1.3M95.9,-21.73h1.3m1.1,0h1.3M92.3,-22.74h2.4M-77.1,-23.75h1.3m167.9,0h2.5M-76.9,-24.76h1.2m151.4,0h2.4M77.9,-25.78h1.2m2.2,0h1.3m10.4,0h2.4M70.7,-26.79h1.3m1.1,0h2.4m2.2,0h1.3m1,0h2.5M68.3,-27.80h3.6m1,0h2.4m2.2,0h3.6m1.1,0h1.2M68.1,-28.81h2.4m1.1,0h7m1.1,0h1.2m1.1,0h1.3M70.2,-29.82h1.3m2.2,0h1.3m2.2,0h1.2M-82.4,-32.85h1.3m1,0h1.3m2.2,0h2.4M39.5,-35.88h1.3m19.1,0h1.3m3.2,0h1.3M-6.8,-36.89h1.2m2.2,0h2.3M-3.4,-37.90h1.2m1,0h1.3m2.1,0h1.2m56.1,0h1.2M57,-38.91h2.4M-90.7,-41.94h1.3M-89.1,-42.94h1.2M-86.1,-44.95h1.2M-87.8,-45.95h2.3M-87.3,-46.95h2.2M-85.8,-47.94h3.3M-86.4,-48.94h2.3M-83.8,-49.93h1.2M18.4,-54.84h1.2M19.3,-55.81h1.2"/><path stroke="#d22828" d="M133,36.89h2.4M105.2,35.88h1.2M105.1,32.85h1.3M36.5,16.68h1.3M37.7,15.67h1.3M-48.5,14.66h1.3m3.4,0h1.3M96.5,0.51h2.5M95.3,-1.52h1.3M92.9,-2.53h2.5M-1.3,-6.57h2.6m2.2,0h1.3M-1.2,-7.58h2.4m3.5,0h1.3M95,-8.59h1.3M95.8,-13.65h2.5m2.3,0h1.3M99.3,-14.66h1.3m14,0h1.4M96.8,-15.67h1.3m1.1,0h1.3m14,0h1.3M99,-16.68h1.3M114,-18.70h1.3M-77.1,-23.75h1.3M81.3,-25.78h1.3m10.4,0h1.3M73.1,-26.79h1.2m6.9,0h1.3M70.6,-27.80h1.3m7.9,0h1.3m1.1,0h1.2M71.6,-28.81h1.3m3.3,0h2.4m1.1,0h1.2M70.2,-29.82h1.3M-75.5,-32.85h1.3M64.4,-35.88h1.3M-3.4,-36.89h1.2M57,-38.91h1.2M-87.8,-45.95h1.2M-86.3,-46.95h1.2M-84.7,-47.94h2.2"/><path stroke="#afdcf5" d="M-59.8,56.78h2.2M-61.2,55.81h3.1M-60.6,54.84h4.2M-59,53.86h2.2M-62.5,52.88h6.4M-61.8,51.90h4.3m0.9,0h1.2M-62.2,50.92h4.3m1,0h1.1M-61.5,49.93h5.4M-62.9,48.94h1.2m0.9,0h3.3M-61.1,47.94h2.2m1,0h2.2M-59.3,46.95h2.3M-59.6,45.95h2.2M-60,44.95h1.3m0.9,0h1.2M-61.3,43.95h3.4M-60.5,42.94h3.4M-59.7,41.94h3.4M-60,40.93h2.4m182.9,0h1.3M-61.4,39.92h5.7m211.7,0h1.2M-59.4,38.91h2.4M-60.7,37.90h4.6M-58.7,36.89h2.4m5.5,0h2.4m170.1,0h1.3M-57.8,35.88h1.3m5.5,0h3.5m71.2,0h1.3m96,0h1.3m4.4,0h1.2M-59.1,34.87h1.2m6.7,0h4.7m64.6,0h1.3m90.7,0h5.8m10.1,0h2.4M-59.3,33.86h2.4m5.6,0h4.6m66,0h1.3m87.6,0h4.7m1,0h10.3m1.1,0h1.2m1,0h2.4M-58.3,32.85h1.2m5.6,0h5.8m67.4,0h1.2m85.6,0h12.7m1,0h2.4m1.1,0h5.8M-52.8,31.84h8.2m153.4,0h11.6m4.5,0h8.1M-52.9,30.83h8.1m60.8,0h1.3m91.8,0h1.3m1,0h1.3m1,0h3.6m1,0h3.6m1,0h1.3m2.2,0h1.3m1,0h2.4m1,0h2.5M-53.1,29.82h8.2m58.7,0h2.4m93.2,0h10.5m1.1,0h3.5m4.5,0h3.6m1,0h1.3M-53.2,28.81h7m62.3,0h4.8m84.2,0h14m3.3,0h1.3m6.8,0h5.9M-53.3,27.80h7m61.3,0h2.4m1.1,0h2.4m84.4,0h4.8m1,0h12.9m1,0h1.3m6.8,0h2.5m1,0h1.3M-54.6,26.79h8.2m61.4,0h2.5m3.3,0h1.3m19.6,0h1.3m62.6,0h18.6m2.2,0h1.3m5.7,0h5.9M-54.7,25.78h8.2m60.4,0h1.3m1,0h1.3m1,0h2.5m19.6,0h3.6m65,0h6m1,0h7.1m1.1,0h3.6m5.7,0h4.7M-54.8,24.76h7.1m60.5,0h2.4m2.2,0h1.3m22,0h3.6m61.7,0h10.6m1,0h1.3m1,0h9.5m1,0h1.3m5.7,0h1.3M-64.2,23.75h1.2m1.1,0h1.3m5.7,0h7.1m66.4,0h1.3m1,0h1.3m17.4,0h4.8m61.7,0h14.2m1,0h7.1m1.1,0h3.6m4.5,0h2.5M-55,22.74h7.1m64.2,0h1.3m23.3,0h4.7m61.9,0h13m1,0h13m2.2,0h2.5M-55.1,21.73h7.2m70.1,0h1.3m17.4,0h3.7m65.4,0h7.1m1.1,0h6m1,0h1.3m1.1,0h7.1m2.2,0h2.5M-55.2,20.72h6m60.9,0h1.3m2.2,0h1.3m4.5,0h1.3m18.7,0h3.6m69.1,0h7.1m2.3,0h8.3m1.1,0h1.2m3.4,0h1.3M-55.3,19.71h6m59.8,0h1.3m1.1,0h2.4m3.4,0h1.3m2.3,0h3.6m88,0h6m1,0h6m1.1,0h2.4m1.1,0h2.5m1,0h2.5M-55.3,18.70h6m66.9,0h1.3m4.6,0h1.3m90.4,0h1.3m1.1,0h4.8m4.6,0h1.3m1,0h4.9m1,0h2.5M-55.4,17.69h4.8m72.9,0h1.3m93,0h1.3m2.2,0h2.5m2.2,0h1.3m3.4,0h1.3m2.3,0h1.3m2.2,0h1.3M-54.3,16.68h3.6m61.3,0h1.3m6.9,0h1.3m2.3,0h1.3M-53.2,15.67h1.3m71.9,0h1.3m1.1,0h2.5m4.6,0h1.3M21.2,14.66h1.3m2.3,0h1.3M-54.5,13.65h2.5M-56.9,12.63h1.3m8.1,0h2.5m171.7,0h1.3M-55.8,11.62h1.3m7,0h2.5M-54.7,10.61h1.3m5.9,0h2.5M-55.9,9.60h1.3m7,0h2.5m72.4,0h1.3M-61.9,8.59h1.3m2.3,0h2.5m1.1,0h1.3m73.5,0h2.5m1.1,0h3.7M-69,7.58h1.3m3.4,0h1.3m3.5,0h1.3m1,0h1.4m1,0h2.5m72.5,0h1.3m2.2,0h3.7M-66.7,6.57h1.3m2.3,0h2.5m1,0h2.5m77.3,0h6m1.1,0h1.3M-70.3,5.56h2.5m2.3,0h1.3m1,0h4.9m1.1,0h1.3m72.5,0h9.7m1,0h2.5M-70.3,4.55h1.3m2.2,0h2.5m1.1,0h1.3m1.1,0h2.5m1.1,0h1.3m1.1,0h1.3m64.2,0h2.5m3.4,0h12m84.5,0h1.3M-75.1,3.54h2.5m1.1,0h2.5m4.6,0h1.3m2.3,0h3.7m2.2,0h2.5m61.9,0h3.7m2.2,0h13.3M-72.8,2.53h3.7m1.1,0h2.5m1.1,0h10.8m1.1,0h1.3m59.5,0h20.4M-75.2,1.52h1.4m3.4,0h7.3m1.1,0h6m1.1,0h1.3m61.9,0h9.6m1.1,0h8.5M-74,0.51h12.1m2.2,0h2.5m1.1,0h1.3m1.1,0h2.5m59.5,0h20.4M-76.4,-0.51h2.5m1.1,0h9.7m1,0h2.5m2.3,0h1.3m1.1,0h3.7m59.5,0h20.4M-76.4,-1.52h14.5m1,0h1.4m1,0h1.3m1.1,0h1.3m1.1,0h2.5m59.5,0h20.4m5.8,0h1.3m2.3,0h1.3M-75.1,-2.53h16.8m1,0h1.3m2.3,0h2.5m61.9,0h2.5m2.2,0h8.5m2.3,0h2.5m8.2,0h1.3m1.1,0h1.3M-75.1,-3.54h19.2m1,0h1.3m2.3,0h1.3m64.2,0h1.3m1.1,0h7.3m1.1,0h3.7M-73.9,-4.55h18m4.6,0h2.5m61.8,0h1.4m1,0h1.3m2.3,0h4.9m2.2,0h1.4M-73.9,-5.56h15.6m2.3,0h2.5m1.1,0h1.3m41.5,0h1.3m24.9,0h1.3m1.1,0h2.5m1.1,0h1.3M-73.8,-6.57h16.7m46.3,0h3.7m28.5,0h1.3M-75,-7.58h15.6m1.1,0h1.3m45,0h4.9M-77.3,-8.59h1.3m1.1,0h15.5m46.3,0h7.2M-77.3,-9.60h15.6m1.1,0h1.3m1,0h1.3m43.9,0h7.2m124.6,0h1.3M-72.5,-10.61h9.6m1.1,0h1.3m176.8,0h1.3M-71.2,-11.62h1.3m1,0h6.1m179,0h3.7M-70,-12.63h4.9m181.2,0h3.6M-16.6,-13.65h2.5M-13.1,-14.66h1.3m4.6,0h2.5m1.1,0h1.3m1.1,0h1.3m8.1,0h1.3m2.3,0h3.6m2.3,0h1.3M-14.2,-15.67h1.3m2.2,0h1.3m3.4,0h2.5m3.4,0h1.3m1.1,0h2.5m4.6,0h4.8m2.3,0h3.6M-14.2,-16.68h1.3m3.4,0h1.3m2.2,0h3.7m2.2,0h2.5m3.4,0h2.5m1.1,0h1.3m1,0h3.7m1.1,0h3.6M-59,-17.69h1.3m42.3,0h1.3m3.4,0h1.3m2.3,0h2.4m8.2,0h1.3m4.6,0h2.4M-15.4,-18.70h1.3m2.3,0h1.3m2.2,0h1.3m3.4,0h1.3m3.4,0h1.3m2.2,0h2.5m2.3,0h3.6m1.1,0h1.3m1,0h1.3m5.8,0h1.3M-13,-19.71h4.8m2.3,0h3.6m1.1,0h1.3m2.2,0h1.3m2.2,0h1.3m3.4,0h1.3M-14.1,-20.72h1.3m5.7,0h2.5m1,0h2.5m3.4,0h1.3m2.2,0h2.5M-0.1,-21.73h7.2M7,-22.74h1.2m2.3,0h1.2M3.4,-23.75h1.3m97.9,0h1.3M97.8,-24.76h1.3m3.4,0h5.9m3.4,0h1.3M96.5,-25.78h12.9m2.2,0h1.3M96.3,-26.79h14m1.1,0h2.4M97.2,-27.80h14M98.2,-28.81h12.8m6.8,0h1.3M97.9,-29.82h14M97.7,-30.83h13.9M97.4,-31.84h8.1m1.1,0h5.8M-106.4,-32.85h1.3m203.3,0h13.9M-106,-33.86h1.2m200.4,0h1.3m2.2,0h12.6m6.7,0h1.3M-104.5,-34.87h1.2m12.4,0h1.2m1.1,0h6.9m1,0h2.4m97.5,0h1.3m73.7,0h16M-107.6,-35.88h1.3m5.5,0h1.3m10,0h12.6m119.8,0h1.3m50.8,0h1.2m4.5,0h9.1m4.4,0h1.3m3.3,0h1.2M-90.3,-36.89h17.1m1,0h1.2m123.9,0h1.3m38.2,0h1.2m6.7,0h1.2m1,0h5.8m7.8,0h1.2M-101.2,-37.90h1.3m1,0h1.2m7.8,0h19.2m99.8,0h1.3m68.4,0h1.2m2.2,0h2.3m19,0h1.2M-89.6,-38.91h21.4m96.1,0h1.3m71.4,0h1.3m23.4,0h1.2M-104.8,-39.92h3.4m13.3,0h21.3m141.4,0h1.2m5.5,0h1.2M-105.5,-40.93h1.2m17.7,0h20.1m140.8,0h1.2M-106.1,-41.94h3.4m2.1,0h1.2m14.3,0h18.9m136.8,0h2.4m1,0h1.2m2.1,0h2.3m4.3,0h1.2m17.6,0h1.2M-105.6,-42.94h3.4m1,0h1.2m15.3,0h2.3m1,0h16.6m93.3,0h1.3m18.5,0h1.2m14.2,0h1.2m17.5,0h1.2M-107.3,-43.95h4.5m19.6,0h19.8m98.4,0h1.2m26.1,0h1.2m16.3,0h3.4m16.3,0h1.2m1,0h1.2m8.7,0h1.2M-109,-44.95h1.3m0.9,0h4.5m22.7,0h18.7m100,0h1.3m11.8,0h2.3m6.4,0h1.2m2.1,0h1.2m10.8,0h3.4m2,0h1.2m2.1,0h1.2m12.9,0h1.2M-107.3,-45.95h2.3m12.9,0h1.2m10.7,0h1.2m2,0h16.4m110.4,0h1.2m13.9,0h1.2m5.3,0h1.2m6.4,0h1.2m23.7,0h1.2m6.4,0h1.2M-107.8,-46.95h4.4m1,0h2.3m21.4,0h5.5m2,0h1.2m1,0h4.4m1,0h3.3m3.1,0h1.2m58.1,0h1.2m71,0h1.2m25.7,0h1.2M-107.2,-47.94h1.2m0.9,0h1.2m1,0h2.2m23.5,0h1.2m2,0h2.3m0.9,0h4.4m1,0h10.8m53.5,0h4.4m0.9,0h3.4m12.7,0h1.2m33.1,0h1.2m2,0h2.3m14.9,0h1.1m1,0h1.2m42.7,0h1.2M-104.5,-48.94h3.3m1,0h1.2m22.2,0h2.3m0.9,0h1.2m0.9,0h1.2m2,0h1.2m1,0h1.2m0.9,0h1.2m0.9,0h8.7m52.1,0h6.5m29.7,0h1.2m14.8,0h1.2m0.9,0h1.2m1,0h1.1m63.9,0h1.1M-106,-49.93h4.3m25.4,0h4.3m1,0h2.2m0.9,0h15m50.7,0h9.7m61.3,0h1.2m7.3,0h1.2m2,0h1.1m16.9,0h1.2M-105.4,-50.92h3.3m27.3,0h4.3m2,0h4.3m0.9,0h9.6m4.1,0h2.3m44.1,0h10.6m43.1,0h1.2m5.1,0h1.2m12.5,0h1.2m2,0h1.1m5.2,0h1.2m0.9,0h1.2m9.3,0h1.2m4.1,0h2.2M-104.8,-51.90h5.4m26.1,0h3.2m5.1,0h1.2m0.9,0h8.5m5.1,0h1.2m0.9,0h1.2m0.9,0h1.2m39.7,0h11.6m56.4,0h1.2m5.1,0h1.2m27.1,0h1.1m19.8,0h1.2M-105.1,-52.88h3.2m24.8,0h1.2m5.1,0h1.2m6.1,0h1.1m3,0h2.2m1,0h1.1m2,0h1.1m4.1,0h1.1m44.7,0h8.4m59.2,0h1.1m12.4,0h1.2m0.9,0h1.2m7.1,0h1.2m3,0h1.1m3,0h1.2M-105.5,-53.86h5.3m25.7,0h1.2m0.9,0h2.2m1.9,0h1.2m2.9,0h1.2m2,0h2.1m2,0h1.1m1,0h3.2m0.9,0h1.1m3,0h1.2m41.2,0h1.2m4,0h4.2m46.4,0h1.2m19.5,0h1.2m4,0h1.1m10.2,0h1.2m1.9,0h1.2m4,0h2.2m28.8,0h1.2M-103.8,-54.84h2.2m36.9,0h1.1m0.9,0h1.2m0.9,0h2.1m0.9,0h7.3m1,0h1.1m44,0h1.2m0.9,0h3.2m0.9,0h3.2m50.2,0h1.1m23.5,0h1.2m9.1,0h1.1m3,0h2.2m0.9,0h1.1m4,0h1.2m8.1,0h4.2m0.9,0h1.1m10.2,0h1.1M-105.1,-55.81h1.2m0.9,0h1.1m0.9,0h1.1m32.5,0h1.2m0.9,0h1.1m0.9,0h1.2m1.9,0h14.4m38.6,0h2.2m0.9,0h4.2m0.9,0h1.1m64.1,0h1.2m8,0h1.1m3,0h1.1m1.9,0h1.2m6,0h2.1m0.9,0h1.2m0.9,0h1.1m0.9,0h1.1m4,0h1.1m25.4,0h1.1M-104.3,-56.78h3.1m0.9,0h1.2m37.3,0h1.1m0.9,0h10.3m0.9,0h3.1m38.4,0h2.1m0.9,0h3.1m0.9,0h1.2m90.9,0h2.2m1.9,0h1.1m1.9,0h1.2m7.9,0h1.2m2.9,0h1.1m0.9,0h2.2m9,0h1.1M-103.5,-57.74h3.1m40.1,0h1.1m0.9,0h6.1m0.9,0h5.1m39.1,0h2.1m1.9,0h2.2m79.2,0h1.1m12,0h1.1m2.9,0h1.1m6.9,0h1.1M-104.7,-58.70h3.1m29.8,0h1.1m10.8,0h13.1m38.8,0h1.1m2.9,0h1.1m0.8,0h1.2m12.8,0h1.1m13.9,0h1.1m58.7,0h1.1m4.9,0h3.1m10.8,0h2.1m14.9,0h3.1M-103.9,-59.65h2.1m31.5,0h1.1m9.8,0h2.1m0.9,0h9m42.4,0h4.1m127.4,0h1.2M-102.1,-60.60h4.1m0.8,0h1.1m3.8,0h1.1m20.5,0h1.1m9.7,0h1.1m0.9,0h8.9m45,0h1.1m9.7,0h1.1m1.9,0h2m1.9,0h2.1m70.5,0h2.1m3.8,0h1.1m1.8,0h1.1m11.7,0h1.1M-104.2,-61.54h4m0.9,0h4m5.7,0h1.1m32,0h3m0.9,0h1.1m0.8,0h3.1m56.3,0h6m3.7,0h2.1m47.5,0h1.1m14.5,0h1.1m8.6,0h1.1m7.7,0h1.1m3.8,0h1.1m0.8,0h1.1M-102.3,-62.48h5.9m0.8,0h4m9.5,0h2.1m1.8,0h1.1m0.8,0h1.1m25.9,0h1.1m53,0h3m0.8,0h4m0.8,0h5m0.8,0h2.1m1.8,0h1.1m2.8,0h2m1.8,0h1.1m30.7,0h2.1m3.7,0h2.1m4.7,0h1.1m0.8,0h1.1m1.8,0h1.1m10.5,0h1.1m0.8,0h1.1m3.7,0h1.1m0.9,0h1.1m1.8,0h4.9m13.4,0h1.1m1.8,0h1.1m0.8,0h1.1M-106.2,-63.41h1.1m0.8,0h12.5m7.6,0h1.1m6.5,0h1.1m0.8,0h1.1m18.1,0h1m0.9,0h1.1m56.3,0h2m0.8,0h8.8m0.8,0h8.7m0.9,0h3.9m0.8,0h3m0.9,0h3.9m16.2,0h1m1.8,0h1.1m3.7,0h1.1m0.8,0h1.1m1.8,0h1.1m9.4,0h1.1m13.3,0h1m9.5,0h2m2.8,0h1m0.9,0h1m0.9,0h1.1m3.7,0h2m6.6,0h2M-108.1,-64.33h2m0.8,0h2m0.9,0h3.9m0.8,0h2m0.8,0h1.1m0.8,0h3m3.7,0h2.9m1.8,0h1.1m1.8,0h1m1.8,0h3m0.8,0h1.1m14.1,0h1m59.6,0h10.6m0.8,0h5.8m0.8,0h1.1m0.8,0h1.1m0.8,0h1.1m1.8,0h1m2.8,0h1m1.8,0h1.1m0.8,0h1.1m0.8,0h2m10.3,0h3.9m0.9,0h4.8m1.8,0h4.9m0.8,0h1.1m0.8,0h1.1m12.2,0h2m6.5,0h1.1m0.8,0h1.1m0.8,0h1.1m0.8,0h1.1m7.4,0h1.1m4.6,0h2m1.8,0h1.1m6.5,0h1M-118.4,-65.25h1m4.6,0h2m2.7,0h1.1m2.7,0h7.6m2.7,0h2m0.8,0h3.9m0.8,0h1.1m0.8,0h1m0.9,0h12.3m14,0h1m61.9,0h2m1.8,0h2m0.8,0h12.3m0.8,0h1.1m0.8,0h1.1m0.8,0h2m0.8,0h6.7m1.8,0h1m1.8,0h1.1m5.5,0h1m2.7,0h1.1m1.7,0h2m1.8,0h3.9m0.8,0h4.8m0.8,0h2m8.4,0h1m4.6,0h1.1m1.7,0h1.1m0.8,0h1.1m2.7,0h1m4.6,0h1.1m12.1,0h1M-122.9,-66.17h2m4.5,0h1m2.7,0h1.1m3.6,0h1m2.7,0h1m0.9,0h1m0.8,0h4.8m0.8,0h2m0.8,0h1m1.8,0h1m2.7,0h3.8m1.8,0h2.9m0.8,0h1.1m2.6,0h1.1m1.7,0h1.1m63.2,0h1m8.3,0h7.5m0.8,0h1.1m0.8,0h8.5m0.8,0h1.1m1.7,0h5.7m2.7,0h2.9m0.8,0h1.1m2.6,0h2m2.7,0h1m4.6,0h1.9m0.9,0h1.9m0.8,0h1.1m0.8,0h2.9m0.8,0h7.6m7.3,0h1.1m20.3,0h1.1m0.8,0h1m0.9,0h1m0.8,0h1.1m3.6,0h1m8.3,0h1M-118.1,-67.07h1.1m0.8,0h1m5.4,0h1.1m4.4,0h2m2.7,0h1.9m0.8,0h4.8m0.8,0h1m0.8,0h1m0.8,0h1.1m0.8,0h2.9m1.7,0h1m0.8,0h4.8m80.1,0h1m0.8,0h2.9m0.8,0h8.4m1.7,0h3.9m0.8,0h1.9m0.8,0h1.1m0.8,0h5.6m0.8,0h2m0.8,0h2m0.8,0h1.9m0.8,0h1.1m0.8,0h1.9m4.5,0h2m0.8,0h1m1.8,0h10.2m6.3,0h1.1m1.7,0h2.9m0.8,0h2m1.7,0h1m4.5,0h1.1m1.7,0h1m1.8,0h2.8m0.8,0h2m0.8,0h1.1m0.8,0h1M-104.2,-67.97h1.1m1.7,0h1m0.8,0h1m1.7,0h2m1.7,0h6.5m0.8,0h1.9m6.3,0h1m83.9,0h16.6m2.6,0h4.7m3.5,0h1.1m0.8,0h6.5m1.7,0h1m0.8,0h2m4.4,0h1m0.8,0h2m0.8,0h1m0.8,0h2.9m0.8,0h1.9m0.8,0h5.6m2.6,0h1m19.1,0h1m2.7,0h2.8M-119.4,-68.86h1.9m0.8,0h1.9m11.6,0h2m2.6,0h2.8m1.7,0h2.8m0.8,0h1.9m4.4,0h1.1m91.2,0h6.4m0.8,0h4.7m2.5,0h2m4.4,0h3.7m0.8,0h2.8m1.7,0h2m0.7,0h2.9m1.7,0h1m0.8,0h1.9m1.7,0h1m4.4,0h1m2.6,0h2.9m0.7,0h2m0.8,0h1.9m2.6,0h1m0.8,0h3.7m3.5,0h1m9.9,0h1m3.5,0h1m2.6,0h2.8m8.1,0h1M-104.8,-69.75h1.9m12.4,0h1m1.7,0h1m0.8,0h1.9m1.7,0h1m90.3,0h3.7m0.8,0h1m1.7,0h2.8m0.7,0h3.7m1.7,0h3.7m4.4,0h1.9m0.8,0h6.3m0.8,0h1.9m0.8,0h1m0.8,0h1m3.5,0h1m2.6,0h1m2.5,0h1.9m0.8,0h1m0.8,0h3.7m4.4,0h2.8m0.8,0h1m2.5,0h1m19.6,0h1M-104.6,-70.62h2.7m0.8,0h2.8m2.5,0h1m0.8,0h1m9.6,0h1.9m91.2,0h2.8m0.7,0h8.1m0.8,0h1m0.8,0h1m0.7,0h3.7m3.4,0h1m5.2,0h1m0.8,0h4.6m1.6,0h1m1.7,0h1m0.7,0h1.1m0.7,0h1m5.2,0h1m0.8,0h1m1.7,0h1m0.7,0h1m30.9,0h1M-101.8,-71.49h1m0.7,0h1m0.8,0h1.9m1.6,0h1m5.2,0h0.9m2.6,0h1m94.6,0h1m0.7,0h1m4.3,0h1m0.7,0h1m0.8,0h1m0.7,0h1m2.6,0h1m7.7,0h1m6,0h1.9m2.5,0h1m0.8,0h1m7.8,0h1m0.7,0h1m3.4,0h1.9m3.4,0h1.8M-99.9,-72.35h1m5.1,0h1m0.7,0h1m102.3,0h1m1.6,0h1m0.8,0h3.6m0.7,0h1m0.7,0h1m11.2,0h1m7.7,0h1m8.5,0h1m14.6,0h1M14.5,-73.20h1m0.7,0h1.9m2.4,0h1m40.2,0h1M16.1,-74.04h0.9m1.6,0h1"/><path stroke="#5abef0" d="M-60,44.95h1.3M-49.7,36.89h1.3M-48.7,35.88h1.2M-50,34.87h3.5m158.9,0h2.4M-51.3,33.86h4.6m169.7,0h1.2M-51.5,32.85h5.8m155.4,0h1.2M-51.6,31.84h5.8m161.5,0h1.3m14.8,0h1.2M-51.8,30.83h5.9m157.3,0h1.3M-53.1,29.82h7.1m156.6,0h2.4m8,0h1.2m6.8,0h1.3M-52.1,28.81h5.9M-53.3,27.80h7m167.8,0h1.3m11.5,0h1.3M-53.4,26.79h7m163.6,0h1.2M-53.6,25.78h6m156.8,0h1.3M-53.6,24.76h5.9m88.4,0h1.3m73.3,0h1.3m1,0h1.3m1,0h1.3M-53.7,23.75h5.9m88.6,0h2.4m66.4,0h1.3m2.2,0h1.3M-53.8,22.74h5.9m88.8,0h3.6m63,0h2.4m4.6,0h1.3M-55.1,21.73h6m90,0h3.7m66.6,0h1.3m2.2,0h1.3m6.9,0h1.3M-54,20.72h4.8m91.4,0h1.2M-54.1,19.71h4.8m180.8,0h1.3M-55.3,18.70h4.8m183.4,0h1.3M-54.2,17.69h3.6M-53.1,16.68h2.4M-47.5,12.63h2.5M-47.5,11.62h2.5M-47.5,10.61h2.5M21.3,8.59h1.3M-59.6,6.57h1.3m80.9,0h1.3M17.8,5.56h1.3M10.7,4.55h1.3m5.8,0h1.3m1.1,0h3.7m1.1,0h1.3M10.7,3.54h2.5m3.4,0h2.5m1.1,0h1.3m1.1,0h1.3m1.1,0h2.5M8.3,2.53h1.3m1.1,0h3.7m2.2,0h2.5m1.1,0h3.7m1.1,0h2.5M-70.4,1.52h1.3m3.5,0h1.3m4.6,0h1.3m67.9,0h6.1m3.4,0h6.1m1.1,0h1.3M-65.6,0.51h2.5m73.8,0h4.9m1,0h1.3m1.1,0h4.9m2.3,0h1.3M-69.2,-0.51h1.3m79.8,0h1.3m3.4,0h1.3m1.1,0h7.3M-72.8,-1.52h4.9m2.3,0h2.5m79.7,0h1.3m1.1,0h1.3m2.3,0h1.3M-74,-2.53h7.3m1.1,0h2.5m1.1,0h1.3m82.1,0h1.3M-73.9,-3.54h10.8m1.1,0h1.3M-73.9,-4.55h13.2M-73.9,-5.56h12m52.3,0h1.3M-73.8,-6.57h13.2m49.8,0h3.7M-75,-7.58h14.4m48.6,0h4.9M-77.3,-8.59h1.3m1.1,0h13.1m48.7,0h6M-77.3,-9.60h2.5m3.5,0h8.4m51,0h4.8M-72.5,-10.61h1.3m2.3,0h4.9M116.2,-11.62h3.7M116.1,-12.63h3.6M104.8,-24.76h1.3M96.5,-25.78h3.6m3.3,0h1.3m3.4,0h1.3M96.3,-26.79h7.1m1,0h5.9m2.2,0h1.3M99.5,-27.80h8.3M100.5,-28.81h1.2m1.1,0h4.7m1.1,0h1.2M100.2,-29.82h2.4m1.1,0h2.4m1,0h1.3m1,0h1.3M98.8,-30.83h5.9m1,0h3.6M98.5,-31.84h7m1.1,0h4.7M99.4,-32.85h9.2M95.6,-33.86h1.3m3.3,0h3.5m1.1,0h5.8M-86.4,-34.87h2.4m179.3,0h1.3m4.4,0h1.3m1,0h1.2m2.2,0h2.4M-87.2,-35.88h9.2m180.9,0h5.8M-89.1,-36.89h1.2m1,0h11.4m1,0h1.3m175.7,0h2.4m1,0h1.3M-89.9,-37.90h1.2m1,0h17m99.8,0h1.3M-88.5,-38.91h18.1M-87,-39.92h18m1,0h1.2M-86.6,-40.93h19M-85.1,-41.94h18.9M-81.4,-42.94h16.6M-78.9,-43.95h15.5M-75.2,-44.95h13.2M-74.8,-45.95h1.2m5.3,0h2.3m2,0h3.4M-63.6,-46.95h3.3m3.1,0h1.2M-102.9,-47.94h1.2m39.5,0h6.5M-61.9,-48.94h1.2m1,0h5.4m55.3,0h3.3M-103.9,-49.93h1.2m41.2,0h7.5m52.9,0h6.5M-105.4,-50.92h1.2m46.2,0h4.3m51.5,0h7.5M-62.9,-51.90h1.2m4.1,0h1.1m53.3,0h9.5M-105.1,-52.88h1.1m101.9,0h7.4M1,-53.86h4.2M-4.2,-54.84h1.2M-55.1,-55.81h1.1m50.9,0h1.1M-55.7,-56.78h1.1M-56.3,-57.74h1.1m1.9,0h1.1m0.9,0h1.1M-102.7,-58.70h1.1m46.7,0h1.1M-55.4,-59.65h1.1m1.8,0h1.1M-53,-60.60h1.1M8.7,-61.54h1.1M-93.6,-62.48h1m99.3,0h1.1m0.8,0h1.1m0.9,0h1M-93.8,-63.41h1.1m99.3,0h4m1.8,0h3m11.3,0h1.1M-97.7,-64.33h1.1m112.7,0h1M-99.6,-65.25h1M-104.3,-66.17h1m112.5,0h1.1M33.1,-67.07h1.1m28.4,0h1.1M40.1,-67.97h1.1m0.7,0h1.1M9.9,-68.86h1m53.2,0h1.1M17.8,-69.75h1.1M9.7,-70.62h1"/><path stroke="#00b4ff" d="M-48.7,35.88h1.2M-50,34.87h3.5M-50.2,33.86h3.5M-50.3,32.85h4.6M-51.6,31.84h5.8M-51.8,30.83h5.9M-51.9,29.82h5.9M-52.1,28.81h4.8M-53.3,27.80h5.9M-53.4,26.79h5.9M-53.6,25.78h6M-53.6,24.76h5.9M-53.7,23.75h5.9m89.8,0h1.2M-53.8,22.74h4.8m89.9,0h2.4M-53.9,21.73h4.8m91.2,0h2.5M-54,20.72h4.8m91.4,0h1.2M-54.1,19.71h4.8M-54.2,18.70h3.7M-53.1,17.69h2.5M-53.1,16.68h1.3M-47.5,11.62h1.3M-47.5,10.61h2.5M10.7,3.54h1.3M10.7,2.53h1.3M10.7,1.52h2.5m7,0h1.3M11.9,0.51h2.5m4.6,0h2.5M19,-0.51h3.7M-69.2,-1.52h1.3M-72.8,-2.53h6.1m1.1,0h1.3M-71.5,-3.54h7.2M-72.7,-4.55h9.6M-73.9,-5.56h12m52.3,0h1.3M-73.8,-6.57h12m51,0h2.5M-73.8,-7.58h10.8m51,0h4.9M-73.8,-8.59h10.9m51,0h4.8M-77.3,-9.60h2.5m4.7,0h7.2m53.3,0h1.3M-67.7,-10.61h1.3M116.2,-11.62h3.7M116.1,-12.63h3.6M97.6,-25.78h2.5M97.4,-26.79h3.6m3.4,0h1.3M100.7,-27.80h1.3m4.5,0h1.3M100.2,-29.82h1.3m3.3,0h1.3m1,0h1.3M98.8,-30.83h1.3m3.3,0h1.3m2.1,0h2.5M103.1,-31.84h1.3M100.5,-32.85h1.3m1,0h1.3m1,0h3.5M101.3,-33.86h1.3M95.3,-34.87h1.3m10.1,0h1.2M-87.2,-35.88h3.5m1,0h1.3m1,0h1.2m184.4,0h1.2M-86.9,-36.89h6.9m1,0h1.3m1,0h1.2M-86.6,-37.90h12.5m103.2,0h1.3M-87.3,-38.91h16.9M-87,-39.92h18M-86.6,-40.93h1.2m1,0h16.8M-84,-41.94h17.8M-80.3,-42.94h15.5M-76.7,-43.95h13.3M-74.1,-44.95h6.6m1,0h2.3m1,0h1.2M-61.5,-46.95h1.2M-60.1,-47.94h3.4M-59.7,-48.94h3.3m57.4,0h2.3M-57.3,-49.93h2.3m53.9,0h5.4M-1.1,-50.92h6.4M-2.2,-51.90h7.5M-1.1,-52.88h6.4M1,-53.86h3.2M6.7,-62.48h1.1m0.8,0h1.1M6.6,-63.41h2.1"/><path stroke="#1e90ff" d="M-48.7,35.88h1.2M-48.9,34.87h2.4M-49.1,33.86h2.4M-50.3,32.85h3.5M-50.5,31.84h3.6M-51.8,30.83h4.7M-51.9,29.82h5.9M-52.1,28.81h4.8M-52.2,27.80h4.8M-52.3,26.79h4.8M-53.6,25.78h6M-52.5,24.76h4.8M-52.6,23.75h3.6m91,0h1.2M-52.7,22.74h3.7m91,0h1.3M-52.7,21.73h3.6m91.2,0h1.3M-54,20.72h4.8m91.4,0h1.2M-54.1,19.71h3.7M-54.2,18.70h3.7M-47.5,11.62h1.3M-46.4,10.61h1.4M10.7,2.53h1.3M10.7,1.52h1.3M11.9,0.51h1.3m7,0h1.3M21.4,-0.51h1.3M-69.2,-1.52h1.3M-70.4,-3.54h6.1M-72.7,-4.55h9.6M-72.7,-5.56h10.8m52.3,0h1.3M-72.7,-6.57h9.7m52.2,0h2.5M-72.6,-7.58h9.6m51,0h4.9M-71.4,-8.59h7.3m52.2,0h4.8M-76.1,-9.60h1.3m4.7,0h4.8m55.7,0h1.3M116.2,-11.62h2.5M116.1,-12.63h3.6M97.6,-25.78h2.5M98.6,-26.79h1.3M-84.9,-35.88h1.2M-86.9,-36.89h6.9m1,0h1.3M-85.4,-37.90h10.2m104.3,0h1.3M-86.2,-38.91h14.6M-84.8,-39.92h14.7M-84.4,-40.93h14.5M-81.8,-41.94h15.6M-79.2,-42.94h12.2M-76.7,-43.95h12.2M-69.8,-44.95h2.3M-59,-47.94h2.3M-57.6,-48.94h1.2M-57.3,-49.93h2.3m53.9,0h2.2m1,0h2.2M-1.1,-50.92h6.4M-1.1,-51.90h5.3M-1.1,-52.88h1.2m0.9,0h1.1M1,-53.86h1.1m0.9,0h1.2"/><path stroke="#3c6ee6" d="M-48.9,34.87h1.3M-49.1,33.86h2.4M-49.2,32.85h2.4M-50.5,31.84h3.6M-51.8,30.83h4.7M-51.9,29.82h4.7M-52.1,28.81h4.8M-52.2,27.80h4.8M-52.3,26.79h4.8M-52.4,25.78h4.8M-52.5,24.76h4.8M-52.6,23.75h3.6M-52.7,22.74h3.7m91,0h1.3M-52.7,21.73h3.6m91.2,0h1.3M-54,20.72h3.6M-52.9,19.71h2.5M-53,18.70h2.5M-47.5,11.62h1.3M-70.4,-3.54h6.1M-72.7,-4.55h8.4M-71.5,-5.56h8.5M-72.7,-6.57h9.7m52.2,0h2.5M-72.6,-7.58h8.4m52.2,0h4.9M-71.4,-8.59h6.1m54.5,0h3.7M-76.1,-9.60h1.3m4.7,0h4.8m55.7,0h1.3M117.4,-11.62h1.3M116.1,-12.63h3.6M98.6,-26.79h1.3M-85.8,-36.89h5.8M-85.4,-37.90h8m1,0h1.2m104.3,0h1.3M-86.2,-38.91h11.3m1,0h1.2M-84.8,-39.92h13.5M-82.2,-40.93h11.2M-80.7,-41.94h13.4M-78.1,-42.94h11.1M-75.6,-43.95h5.6m1,0h2.3M2.1,-49.93h1.1M-1.1,-50.92h1.2m0.9,0h4.3M-0.1,-51.90h2.3m0.9,0h1.1M1,-52.88h1.1M1,-53.86h1.1"/><path stroke="#1e32f0" d="M-49.1,33.86h2.4M-50.5,31.84h2.4M-51.8,30.83h4.7M-51.9,29.82h4.7M-50.9,28.81h3.6M-52.2,27.80h4.8M-52.3,26.79h4.8M-52.4,25.78h4.8M-52.5,24.76h3.6M-52.6,23.75h3.6M-52.7,22.74h3.7m91,0h1.3M-52.7,21.73h3.6M-54,20.72h3.6M-52.9,19.71h2.5M-53,18.70h1.3M-47.5,11.62h1.3M-70.4,-3.54h1.4M-72.7,-4.55h8.4M-71.5,-5.56h2.5m1.1,0h2.5M-72.7,-6.57h9.7M-72.6,-7.58h1.3m1.1,0h6m53.4,0h1.3m1.1,0h1.3M-71.4,-8.59h6.1m54.5,0h1.4M-69,-9.60h1.3M117.3,-12.63h1.3M98.6,-26.79h1.3M-85.8,-36.89h2.4m1,0h2.4M-84.3,-37.90h6.9m106.5,0h1.3M-86.2,-38.91h11.3m1,0h1.2M-84.8,-39.92h13.5M-82.2,-40.93h11.2M-80.7,-41.94h11.2m0.9,0h1.3M-78.1,-42.94h7.8m1,0h2.3M-74.5,-43.95h1.2m1,0h2.3m1,0h1.2M1,-50.92h1.2M-0.1,-51.90h2.3"/><path stroke="#4010f0" d="M-50.5,31.84h2.4M-50.6,30.83h2.4M-49.6,29.82h2.4M-50.9,28.81h1.3M-52.2,27.80h4.8M-52.3,26.79h4.8M-52.4,25.78h4.8M-52.5,24.76h1.3m1,0h1.3M-52.6,23.75h3.6M-52.7,22.74h3.7M-52.7,21.73h1.2M-52.8,20.72h2.4M-52.9,19.71h1.3M-71.5,-4.55h6.1M-70.3,-5.56h1.3m1.1,0h2.5M-72.7,-6.57h2.5m1.1,0h4.9M-70.2,-7.58h2.5m1,0h1.3M-69,-8.59h2.5m55.7,0h1.4M-69,-9.60h1.3M-84.6,-36.89h1.2M-84.3,-37.90h2.4m1,0h2.3M-86.2,-38.91h11.3M-83.6,-39.92h7.9m1,0h2.3M-82.2,-40.93h11.2M-79.6,-41.94h9m2,0h1.3M-78.1,-42.94h6.7"/></g><use href="#co" fill="none" stroke="#000" stroke-width="0.75" stroke-linejoin="round"/><use href="#ol" fill="none" stroke="#333" stroke-width="0.65"/></g>
<g transform="translate(524.9,497.55)"><g clip-path="url(#cp)" fill="none" stroke-width="1.12"><path stroke="#ff0000" d="M92.9,85.27h0.8M-57.8,56.78h1.2M-58.6,54.84h1.2M-57.9,53.86h1.1M-61.8,51.90h6.4M-61.2,50.92h3.3m1,0h1.1M-62.6,49.93h6.5M-61.9,48.94h2.3m2,0h1.2M-57.9,47.94h2.2M-61.5,46.95h1.2m4.2,0h1.2M-61.8,45.95h2.3m0.9,0h1.2m204.7,0h1.2m0.9,0h1.2M-60,44.95h2.3m1,0h1.2m204.6,0h2.3M-61.3,43.95h3.4m207.8,0h2.3m1,0h1.2M-60.5,42.94h1.2m1,0h3.4m207.7,0h1.2M-57.5,41.94h1.2m209.8,0h2.3M-58.9,40.93h4.6m208.5,0h2.3M-56.9,39.92h4.6M-56,38.91h2.4m0.9,0h2.4M-59.6,37.90h1.2m1.1,0h3.4m1,0h1.3M-58.7,36.89h2.4m2.1,0h3.5m183.7,0h1.2m1,0h1.3M-55.5,35.88h1.2m1.1,0h2.3m182.1,0h1.3m3.2,0h1.3M-58,34.87h1.3m2.1,0h1.3m1,0h1.3m157.7,0h1.2m20.4,0h1.2m3.3,0h5.8M-58.2,33.86h2.4m2.2,0h3.5m156,0h1.3m23.8,0h6.9m1,0h1.3M-60.6,32.85h1.2m3.3,0h4.7m2.2,0h1.3m156.4,0h1.3m18.1,0h1.3m2.2,0h7m1,0h1.2M-52.8,31.84h2.4m1,0h1.3m153.5,0h3.6m20.5,0h10.4M-54.1,30.83h3.6m155.1,0h1.2m25.2,0h7M-51.9,29.82h2.4m2.2,0h1.3m150.8,0h2.5m24,0h4.8m1,0h1.3M-53.2,28.81h3.6m154.7,0h1.3m31,0h1.3M-53.3,27.80h2.4m1,0h1.3m3.4,0h1.3M-53.4,26.79h2.4m1,0h1.3m4.5,0h1.3M-54.7,25.78h1.3m2.2,0h1.3m1,0h1.3m1,0h4.8M-54.8,24.76h1.3m6.8,0h1.3m2.2,0h1.3m73.3,0h1.3M-54.9,23.75h1.3m5.7,0h3.6M-56.2,22.74h4.8m1.1,0h1.3m1,0h3.6M-57.4,21.73h1.3m2.2,0h1.3m1,0h8.3M-57.5,20.72h1.3m3.4,0h1.3m1,0h7.2m1,0h1.3m62,0h2.5m6.9,0h1.3M-60,19.71h2.5m1.1,0h1.3m3.4,0h7.1m65.7,0h1.3m1,0h2.5m5.8,0h1.2M-62.4,18.70h7.2m1,0h1.3m1.1,0h3.6m1.1,0h1.3m68.1,0h2.5m1,0h1.3m5.8,0h2.4m8.2,0h1.3M-64.9,17.69h1.3m5.8,0h2.5m4.6,0h2.5m1,0h1.3m62.3,0h1.3m5.8,0h3.7m2.2,0h2.5m2.2,0h1.3M-63.8,16.68h1.3m3.5,0h3.6m3.4,0h2.5m1.1,0h1.3m73,0h1.3m3.4,0h3.7M-62.7,15.67h1.3m2.3,0h1.3m2.2,0h2.5m1.1,0h1.3m75.4,0h1.3m3.5,0h1.3M-60.4,14.66h2.5m1.1,0h1.3m1,0h2.5m1.1,0h1.3m3.4,0h1.3m66.1,0h2.5m5.8,0h1.3M-60.4,13.65h1.3m1,0h1.3m1.1,0h1.3m3.4,0h1.3m1.1,0h1.3m5.8,0h1.3m54.3,0h1.3m1.1,0h1.3m3.4,0h1.4m10.5,0h1.3M-58.1,12.63h1.3m3.4,0h1.3m3.5,0h3.6m61.5,0h1.3m1.1,0h1.3M-62.9,11.62h1.3m1.1,0h1.3m9.3,0h1.3m2.3,0h2.5m2.2,0h1.3m55.7,0h3.6m2.3,0h1.3M-66.5,10.61h1.3m2.2,0h1.3m2.3,0h1.3m8.2,0h1.3m1.1,0h1.3m59.2,0h4.9m2.2,0h1.3m9.4,0h1.3M-67.8,9.60h1.3m3.5,0h1.3m15.3,0h1.3m60.5,0h2.5m2.2,0h2.5m3.5,0h2.5m1,0h1.3M-64.3,8.59h1.4m9.3,0h1.4m65.2,0h1.3m3.5,0h1.3m3.4,0h2.5m2.3,0h1.3m2.2,0h1.4M-63.1,7.58h2.5m14.2,0h1.3m58.1,0h2.5m3.5,0h6m7.1,0h2.5m1,0h1.3M-59.6,6.57h1.3m4.7,0h1.3m1.1,0h1.3m4.6,0h2.5m58.2,0h3.7m1.1,0h2.5m3.4,0h1.3m1.1,0h7.3M-64.4,5.56h2.5m3.5,0h1.3m4.7,0h1.3m67.7,0h4.9m2.3,0h1.3m1,0h1.3m1.1,0h1.3m2.3,0h3.7M-66.8,4.55h1.4m20.1,0h1.3m58.2,0h1.3m8.3,0h1.3m2.2,0h1.3m3.5,0h1.3m1.1,0h1.3m61.8,0h1.3M-51.3,3.54h2.5m1.1,0h2.5m61.8,0h1.3m14.2,0h2.5m63,0h1.4m24.9,0h1.3M-52.5,2.53h1.3m4.7,0h2.5m59.4,0h1.3m7.1,0h2.5m2.2,0h2.5m66.7,0h1.3M-58.5,1.52h1.3m3.5,0h1.3m7,0h1.4m70.2,0h2.5m2.2,0h3.7m60.7,0h1.3m1.1,0h1.3M-48.9,0.51h2.5m64.2,0h1.3m4.7,0h2.5m4.6,0h2.5m2.3,0h3.7m54.7,0h1.3m1.1,0h1.3m9.4,0h4.9m1.1,0h1.3M-48.9,-0.51h1.3m65.4,0h1.3m2.3,0h3.7m1.1,0h1.3m2.2,0h1.4m1,0h1.3m2.3,0h1.3m1.1,0h1.3m54.7,0h3.7m8.3,0h3.7m1,0h1.3M-52.5,-1.52h1.3m2.3,0h1.3m69,0h3.7m3.5,0h1.3m1,0h1.3m2.3,0h3.7m54.7,0h4.9m5.9,0h7.2m1.1,0h1.3m1.1,0h1.3M-69.2,-2.53h3.7m11.8,0h1.3m1.1,0h1.3m69,0h1.3m9.4,0h1.3m3.5,0h2.5m57.1,0h4.9m7,0h4.9M-72.7,-3.54h1.3m1,0h4.9m2.3,0h1.3m80.9,0h3.7m4.6,0h1.4m7,0h1.3m1.1,0h1.3m52.3,0h3.7m1.1,0h1.3m10.6,0h1.3M-73.9,-4.55h1.3m1.1,0h2.5m2.2,0h2.5m80.9,0h1.3m9.4,0h1.3m3.5,0h1.3m58.3,0h1.3m2.2,0h3.7m10.6,0h1.3M-73.9,-5.56h4.9m1.1,0h4.9m83.2,0h2.5m7,0h2.5m64.2,0h1.3M-73.8,-6.57h2.5m1,0h6.1m58.2,0h1.3m26.1,0h1.3m3.4,0h1.3m2.3,0h2.5m64.1,0h1.3M-73.8,-7.58h6.1m1,0h1.3m59.4,0h2.5m11.8,0h2.5m2.2,0h1.3m4.7,0h1.3m1,0h1.4m1,0h1.3m1.1,0h1.3m1.1,0h6.1m60.5,0h1.3M-73.8,-8.59h1.3m1.1,0h1.3m1.1,0h2.5m62.9,0h1.3m5.8,0h1.3m2.3,0h3.7m1,0h2.5m4.7,0h3.6m8.2,0h2.5m1.1,0h1.3M-72.5,-9.60h6m58.1,0h1.3m1.1,0h7.2m1.1,0h3.7m1.1,0h1.3m1,0h7.3m2.2,0h6.1m5.8,0h2.5m1.1,0h2.5m1.1,0h1.3M-72.5,-10.61h6.1m53.3,0h2.5m2.2,0h4.9m1.1,0h1.3m2.2,0h9.6m1.1,0h4.9m1,0h6.1m4.6,0h8.5m62.8,0h1.3M-7.2,-11.62h1.3m2.3,0h1.3m3.4,0h7.3m1,0h6.1m1,0h6.1m5.8,0h3.7m3.4,0h1.3m61.6,0h1.3m1.1,0h2.4m11.8,0h2.5M-81.8,-12.63h2.5m73.3,0h3.7m4.6,0h1.3m1.1,0h3.7m1,0h8.4m9.4,0h4.9m2.2,0h1.3m61.5,0h6.1m11.7,0h2.5M-82.9,-13.65h2.5m72.1,0h1.3m3.4,0h2.5m3.4,0h14.3m1.1,0h1.3m7,0h6m1.1,0h3.7m59,0h7.3M-84,-14.66h1.3m2.2,0h2.5m62.6,0h1.3m3.4,0h1.3m4.6,0h1.3m8.2,0h2.5m1,0h3.7m3.4,0h1.3m3.4,0h1.3m11.8,0h6m35.3,0h1.3m20,0h7.2m11.7,0h2.5M-86.3,-15.67h3.7m2.2,0h2.5m63.7,0h2.4m20,0h1.3m10.5,0h2.5m5.8,0h2.5m2.2,0h4.9m56.5,0h8.4m10.5,0h1.3M-85,-16.68h2.5m73,0h1.3m11.7,0h1.3m21.1,0h4.8m3.5,0h4.8m36.4,0h1.3m18.8,0h7.2M-88.4,-17.69h2.5m1,0h1.3m108.3,0h2.5m1,0h2.5m2.2,0h3.7m35.2,0h1.3m21.1,0h6m14,0h1.3M-89.5,-18.70h3.7m111.6,0h6m1.1,0h3.6m34,0h2.5m1,0h1.3m2.3,0h1.3m15.1,0h7.2M-87,-19.71h1.3m113.8,0h3.7m1,0h3.7m1,0h1.3m32.8,0h1.3m2.2,0h3.7m16.3,0h4.8M-95,-20.72h5.9m2.3,0h1.3m86.6,0h1.3m9.3,0h1.3m13.9,0h2.5m1,0h6m2.2,0h1.3m29.2,0h3.7m1,0h6m15.1,0h4.8M-96.1,-21.73h6m115.8,0h1.3m1,0h2.5m2.2,0h3.7m2.2,0h1.3m27.9,0h3.7m1,0h8.3m15.1,0h4.9M-98.3,-22.74h1.3m1.1,0h6m100.4,0h1.2m6.9,0h1.3m8.1,0h1.3m1,0h3.7m2.2,0h1.3m30.2,0h3.7m1,0h9.5m10.4,0h1.3m2.2,0h3.6M-96.9,-23.75h5.9m123.6,0h1.3m32.6,0h4.7m1.1,0h2.4m2.3,0h3.6m12.7,0h1.3m1,0h4.8m1.1,0h1.3m1,0h1.3M-96.8,-24.76h3.7m1,0h1.3m96.6,0h1.2m9.2,0h2.5m15,0h2.5m31.3,0h3.6m2.2,0h1.3m3.4,0h2.4m1.1,0h1.3m11.5,0h7.1m2.2,0h1.3m2.2,0h1.3M-94.3,-25.78h1.3m94.1,0h1.3m65,0h2.4m8.1,0h2.4m12.7,0h3.6m2.2,0h1.3m1,0h1.3m1,0h2.5m2.2,0h1.3M-95.2,-26.79h1.3m100.8,0h1.3m5.7,0h1.2m2.2,0h1.3m3.4,0h2.4m42.9,0h2.4m2.2,0h1.3m2.2,0h4.7m1.1,0h1.3m12.6,0h4.8m1,0h2.5m2.2,0h4.7M13.8,-27.80h1.3m4.5,0h1.3m4.5,0h1.3m39.3,0h8.2m3.3,0h1.3m3.4,0h2.4m1,0h1.3m4.5,0h1.3m1,0h1.3m1.1,0h9.3m2.2,0h3.6M-0.1,-28.81h1.3m18.4,0h1.3m2.1,0h1.3m41.5,0h1.3m1,0h5.9m4.5,0h5.9m1,0h8.3m1,0h1.3m1,0h8.2m1,0h4.8M17.2,-29.82h1.3m3.3,0h1.3m4.5,0h1.3m39,0h1.3m1,0h7.1m1,0h7.1m2.1,0h4.8m1,0h8.2m4.5,0h4.7M5.7,-30.83h1.3m59.6,0h16.2m1.1,0h1.2m1.1,0h8.1m2.2,0h4.7m3.4,0h7M-92.9,-31.84h1.3m97.3,0h1.2m42.3,0h1.3m4.5,0h1.2m11.4,0h1.2m1.1,0h2.4m1,0h10.4m1.1,0h7m2.1,0h2.5m1,0h12.7m1,0h1.3M-100.6,-32.85h1.2m3.3,0h2.4m103.9,0h1.3m44.4,0h1.3m1,0h1.3m5.6,0h1.3m1,0h21.8m3.3,0h3.6m1,0h11.5m2.2,0h1.3M-102.6,-33.86h1.3m9,0h1.2m96.7,0h1.3m1,0h1.3m54.5,0h2.4m3.3,0h19.5m1,0h5.9m1,0h3.5m2.2,0h5.8m2.2,0h1.2M-88.6,-34.87h1.2m97.6,0h1.2m30.6,0h1.2m12.4,0h1.2m5.6,0h1.3m3.2,0h5.8m1.1,0h4.6m1,0h12.6m2.2,0h8.1m2.1,0h3.5m1.1,0h1.2M-89.5,-35.88h3.6m1,0h1.2m5.6,0h1.2m141.3,0h2.4m1,0h2.4m1,0h20.5m4.4,0h5.8m1,0h3.5m1,0h2.4M-99.3,-36.89h1.3m3.2,0h1.3m4.4,0h3.5m3.2,0h1.3m2.1,0h1.3m1,0h1.2m146.5,0h5.7m1,0h6.9m1,0h1.3m2.1,0h3.5m1,0h2.4m1,0h3.5m3.3,0h1.2m14.6,0h1.2m1,0h2.4M-87.7,-37.90h1.3m1,0h2.3m2.2,0h4.6m145.9,0h1.2m1,0h3.5m1,0h6.9m1,0h1.2m4.4,0h1.2m5.5,0h1.3m1,0h1.2m23.5,0h1.2M-104.1,-38.91h1.2m17.8,0h11.3m143.1,0h2.4m4.3,0h1.3m1,0h6.8m17.8,0h1.2m17.8,0h1.2M-103.7,-39.92h1.2m17.7,0h1.3m1,0h7.9m1,0h1.2m1,0h1.3m2.1,0h1.2m144.7,0h1.3m2.1,0h3.5m11,0h1.2m4.4,0h1.2m18.8,0h3.5M-102.2,-40.93h1.3m16.5,0h10.1m2.1,0h1.2m153.1,0h1.2m1,0h1.2m16.5,0h1.3m18.7,0h2.3M-89.6,-41.94h1.3m3.2,0h5.6m1,0h9m0.9,0h1.3m125.8,0h1.2m36.4,0h1.2m26.4,0h1.2M-102.3,-42.94h1.2m9.8,0h1.2m6.5,0h7.8m1,0h10m91.1,0h1.3m38.3,0h1.2m9.8,0h1.2M-90.9,-43.95h1.2m1,0h1.2m5.4,0h16.5m98.4,0h1.2m88.5,0h1.2M-102.4,-44.95h1.2m20.6,0h1.2m0.9,0h1.2m1,0h14.3m82.6,0h1.2m1,0h1.2m4.3,0h1.2m6.4,0h1.2m23.8,0h1.2m15.2,0h1.2m43.4,0h1.2M-103,-45.95h1.2m15.1,0h1.2m4.2,0h3.4m0.9,0h2.3m1,0h3.3m1,0h7.7m118,0h3.3m12.9,0h2.3m48.6,0h1.2M-99.2,-46.95h3.4m8.5,0h1.2m9.5,0h1.2m1,0h3.3m1,0h7.7m97.9,0h1.2m2,0h2.3m16,0h3.4m10.7,0h1.2m4.1,0h2.3m43,0h2.3M-87.9,-47.94h2.2m7.4,0h1.2m5.2,0h1.2m9.6,0h2.2m77.1,0h1.1m12.8,0h1.2m6.3,0h1.2m12.7,0h1.2m1,0h1.2m2,0h1.2m0.9,0h1.2m5.2,0h1.2M-103.4,-48.94h1.2m5.2,0h1.2m8.4,0h2.2m3.1,0h3.3m4.1,0h1.2m14.8,0h1.2m4.2,0h1.1m70.3,0h1.1m18,0h1.2m12.7,0h1.2m0.9,0h1.2m5.2,0h1.2m7.3,0h2.3m7.3,0h2.3M-101.8,-49.93h1.2m2,0h4.4m0.9,0h1.2m3,0h1.2m1,0h3.3m0.9,0h1.2m6.2,0h1.2m20,0h1.2m76.1,0h1.2m17.9,0h1.2m9.4,0h2.3m6.2,0h1.2m4.1,0h3.3m5.2,0h1.1m1,0h2.2m10.5,0h1.2m0.9,0h1.2M-97,-50.92h2.3m0.9,0h1.2m2,0h9.6m0.9,0h2.2m12.5,0h1.2m7.3,0h2.2m71.5,0h1.2m4.1,0h1.1m4.1,0h1.2m9.4,0h1.1m6.2,0h1.2m5.2,0h1.1m1,0h1.1m1,0h1.1m1,0h4.3m14.6,0h1.2m16.7,0h1.2m14.6,0h1.2M-97.4,-51.90h1.1m1,0h1.1m1,0h5.3m0.9,0h8.5m8.3,0h3.3m9.3,0h2.2m66.9,0h1.1m4.1,0h1.2m8.2,0h3.3m1.9,0h1.2m5.1,0h1.2m0.9,0h1.2m5.1,0h3.3m5.1,0h1.1m3.1,0h4.3m4,0h2.3m19.7,0h1.2m4.1,0h1.1m3.1,0h1.1m0.9,0h1.2m9.3,0h1.2M-101,-52.88h1.2m4,0h1.2m1.9,0h14.7m9.3,0h1.1m5.1,0h1.2m4,0h2.2m77.9,0h1.2m2,0h2.2m8.2,0h1.1m6.1,0h6.4m0.9,0h1.2m0.9,0h2.2m7.2,0h2.2m3,0h4.3m4,0h1.2m7.1,0h1.2m6.1,0h2.2m5.1,0h5.3m0.9,0h1.2m1.9,0h4.3M-103.4,-53.86h1.1m0.9,0h1.2m4,0h1.2m4,0h15.6m6.1,0h2.2m90.8,0h1.2m20.5,0h3.2m3,0h3.2m6.1,0h1.2m1.9,0h1.2m0.9,0h1.2m0.9,0h1.1m14.4,0h1.1m6.1,0h1.2m0.9,0h1.1m2,0h1.1m0.9,0h5.3m4,0h2.2m0.9,0h1.2m0.9,0h1.2M-101.7,-54.84h1.1m0.9,0h3.2m4,0h1.2m1.9,0h12.5m114.8,0h1.2m4,0h2.1m2,0h1.1m10.2,0h1.1m3,0h1.1m0.9,0h2.2m3,0h1.1m7.1,0h2.1m10.2,0h3.2m0.9,0h1.1m2,0h4.2m5,0h5.3m1.9,0h1.2M-101,-55.81h1.1m2,0h1.1m1.9,0h1.2m1.9,0h15.4m0.9,0h2.2m22.3,0h1.1m43.7,0h1.2m0.9,0h1.1m24.4,0h1.1m17.2,0h1.1m0.9,0h3.2m14.2,0h1.1m1.9,0h2.2m5,0h1.1m1.9,0h1.2m1.9,0h2.1m12.2,0h3.1m0.9,0h1.2m2.9,0h2.2m0.9,0h1.1m3,0h5.2m0.9,0h3.2m1.9,0h1.1M-102.3,-56.78h1.1m4,0h1.1m1.9,0h1.1m1.9,0h1.2m0.9,0h11.2m0.9,0h1.1m3,0h1.1m24.2,0h1.1m42.4,0h2.1m21.2,0h1.1m1.9,0h1.1m0.9,0h1.2m7.9,0h2.2m1.9,0h1.1m0.9,0h1.1m0.9,0h5.2m3.9,0h1.2m0.9,0h1.1m10,0h3.2m2.9,0h1.1m2.9,0h1.2m0.9,0h3.1m0.9,0h1.1m6,0h1.1m1.9,0h2.2m0.9,0h1.1m2.9,0h3.2m1.9,0h2.1m0.9,0h2.2m0.8,0h8.3M-106.6,-57.74h1.2m7.9,0h1.1m4.9,0h1.1m1.9,0h5.2m0.9,0h8.1m23,0h1.1m2.9,0h1.1m39.1,0h1.1m2.9,0h1.2m19.9,0h2.2m0.8,0h1.2m9.9,0h5.1m0.9,0h2.1m4.9,0h2.2m3.9,0h1.1m7.9,0h1.1m6,0h1.1m2.9,0h1.1m0.9,0h2.1m0.9,0h1.1m0.9,0h1.1m5.9,0h1.2m0.8,0h1.2m0.9,0h2.1m0.9,0h2.1m0.9,0h3.1m0.9,0h1.1m0.9,0h11.2m0.9,0h1.1M-104.7,-58.70h1.1m0.9,0h2.1m2.8,0h1.2m6.8,0h8.1m0.9,0h3.1m1.9,0h1.1m17.8,0h1.1m1.9,0h3.1m2.9,0h1.1m40.8,0h3.1m0.8,0h1.2m8.8,0h1.1m3.9,0h1.1m0.9,0h3.1m0.9,0h1.1m0.9,0h1.1m4.9,0h1.1m1.8,0h1.2m0.8,0h3.2m4.8,0h1.1m1.9,0h1.1m0.9,0h1.1m4.9,0h3.1m16.8,0h1.1m2.9,0h4.1m6.9,0h1.1m2.9,0h5.1m0.8,0h4.2m3.8,0h6.1M-102.9,-59.65h1.1m0.9,0h1.1m2.8,0h3.1m4.8,0h2.1m1.9,0h2.1m1.8,0h1.1m1.9,0h1.1m20.7,0h2.1m1.8,0h3.1m45.4,0h1.1m15.7,0h1.1m0.9,0h6m3.9,0h1.1m1.8,0h1.1m2.9,0h2.1m1.8,0h1.2m2.8,0h3.1m0.9,0h2.1m2.8,0h4.1m7.8,0h1.1m4.8,0h1.1m0.9,0h3.1m0.8,0h1.2m0.8,0h4.1m3.8,0h1.1m7.8,0h1.1m1.9,0h1.1m1.9,0h1.1m0.8,0h1.2m4.8,0h1.1m0.9,0h1.1m0.8,0h1.1M-102.1,-60.60h2.1m1.8,0h1.1m2.9,0h1.1m2.8,0h1.1m1.8,0h2.1m0.9,0h1.1m26.3,0h1.1m4.8,0h1.1m46,0h1.1m10.7,0h1.1m5.8,0h6m6.7,0h1.1m1.9,0h2m0.9,0h1.1m5.8,0h5m1.8,0h2.1m4.8,0h1.1m6.7,0h1.1m2.9,0h1.1m0.8,0h1.1m0.9,0h1.1m0.9,0h1.1m1.8,0h2.1m0.8,0h1.1m0.9,0h1.1m6.8,0h2m0.9,0h1.1m1.8,0h1.1m0.9,0h1.1m0.9,0h1.1m1.8,0h4.1m0.8,0h3.1m0.8,0h1.1M-100.3,-61.54h1.1m0.9,0h1.1m0.8,0h2.1m10.6,0h1.1m27.1,0h1.1m0.8,0h2.1m0.8,0h1.1m58.3,0h1.1m5.7,0h2.1m11.5,0h1.1m9.6,0h5m1.8,0h1.1m11.6,0h1.1m5.7,0h1.1m0.8,0h3.1m1.8,0h3.1m17.3,0h1.1m1.9,0h2m4.8,0h1.1m2.8,0h3M-105.2,-62.48h1.1m4.7,0h2m44.3,0h1.1m55.8,0h1.1m1.8,0h1.1m0.8,0h3m4.7,0h2.1m0.8,0h1.1m7.6,0h5.9m2.8,0h1.1m2.8,0h3m4.7,0h1.1m10.5,0h1m5.7,0h1.1m3.7,0h1.1m1.8,0h1.1m3.8,0h2m4.7,0h2.1m6.6,0h1.1m12.4,0h2M-98.6,-63.41h2.1m2.7,0h1.1m96.5,0h3m0.8,0h9.7m9.4,0h4m1.8,0h2m4.7,0h4.9m6.5,0h1.1m3.7,0h2m0.9,0h2m2.8,0h1m3.7,0h1.1m4.7,0h1.1m1.8,0h1m17.1,0h1.1m0.8,0h1.1m7.5,0h1.1m0.9,0h2m2.7,0h1.1m0.9,0h2M-119.5,-64.33h3.9m20.7,0h1.1m97.5,0h2m0.9,0h11.5m9.3,0h2m2.8,0h1m2.8,0h5.8m10.3,0h2m0.8,0h1.1m1.8,0h1m0.9,0h3.9m7.4,0h2.1m0.8,0h1.1m9.3,0h1.1m1.8,0h2m0.8,0h1.1m2.7,0h1.1m13.1,0h1.1m0.8,0h4.9m0.8,0h2M-125,-65.25h1.1m4.5,0h1.1m3.6,0h1.1m20.5,0h1.1m95.7,0h7.6m0.9,0h3.8m0.8,0h1.1m9.3,0h2.9m6.5,0h6.7m6.4,0h1.1m0.8,0h2m4.6,0h4.8m5.5,0h1.1m2.7,0h4.8m9.3,0h1m3.7,0h2m3.6,0h2.9m6.5,0h1.1m2.7,0h2M-117.3,-66.17h1.9m2.7,0h1.1m11,0h1.1m3.6,0h1m99.5,0h5.7m0.8,0h5.7m2.7,0h1m5.5,0h2.9m0.8,0h2.9m0.8,0h1.1m0.8,0h8.5m1.7,0h1.1m3.6,0h1.1m3.6,0h1m3.6,0h2m2.7,0h1m6.4,0h4.8m11,0h1.1m7.3,0h2m10.1,0h1.1M-116.2,-67.07h1m4.5,0h2m114.2,0h11.2m3.5,0h1.1m3.5,0h1.1m6.3,0h1.1m2.6,0h2.9m0.8,0h2.9m5.4,0h1m9.1,0h2m0.8,0h2m0.8,0h1m6.3,0h3.8m2.7,0h1m14.7,0h4.7m5.4,0h1.1M-110.6,-67.97h2m13.6,0h1.9m76.6,0h3.8m21.8,0h1m3.5,0h1.1m0.8,0h1m0.8,0h2.9m0.7,0h1.1m0.8,0h1m6.3,0h1.9m0.8,0h2m0.8,0h1m0.8,0h1.9m1.7,0h1.1m6.2,0h2m1.7,0h1m3.6,0h1m0.8,0h1m0.8,0h1m0.8,0h2.9m7.2,0h1.9m15.4,0h1.1m3.5,0h1M-125.8,-68.86h1.1m3.5,0h1m5.3,0h1.9m2.6,0h1m2.6,0h1.1m9.8,0h1m0.8,0h3.7m73.2,0h5.5m25.2,0h6.5m12.5,0h1.9m0.8,0h3.7m0.8,0h3.8m2.6,0h1.9m0.8,0h2.8m1.7,0h1m2.6,0h2.8m2.6,0h1.1m7.1,0h1m0.8,0h1m0.8,0h1m5.3,0h1.1m10.7,0h1M-124.5,-69.75h1m18.7,0h1m0.8,0h1m3.4,0h1.1m6.1,0h1m15.1,0h1m1.7,0h1m59,0h1m20.5,0h3.7m0.8,0h1m0.8,0h4.6m8.8,0h1m2.6,0h1m1.7,0h1m12.4,0h1m1.7,0h1m1.7,0h1m3.4,0h1.1m1.6,0h1m9.8,0h1.9m4.3,0h3.7m8,0h1m1.7,0h1M-118.8,-70.62h1m6.1,0h1m6.9,0h1m0.8,0h1.9m1.7,0h1m59.2,0h1m46.9,0h1.9m0.7,0h1.1m0.7,0h3.7m19.4,0h1.9m7.8,0h1m0.8,0h1m4.3,0h1m2.5,0h1.1m19.3,0h1m1.7,0h1m8.7,0h1M-98.3,-71.49h1m17.4,0h1m2.5,0h1m6,0h1m80.6,0h1m0.8,0h1m0.7,0h1m21.8,0h1m13.9,0h1m0.8,0h1m11.3,0h1M-79,-72.35h1m146.5,0h1M-78.2,-73.20h1m122.6,0h1.9m17,0h1m4.2,0h1M45.8,-74.04h2.6m18.6,0h1M52,-74.87h0.9M-62.6,-80.38h0.9"/></g><use href="#co" fill="none" stroke="#000" stroke-width="0.75" stroke-linejoin="round"/><use href="#ol" fill="none" stroke="#333" stroke-width="0.65"/></g>
<rect x="22.90" y="326.6" width="50.60" height="15.9" fill="#4010f0" stroke="#000" stroke-width="0.7"/><rect x="73.50" y="326.6" width="50.60" height="15.9" fill="#2b7df0" stroke="#000" stroke-width="0.7"/><rect x="124.10" y="326.6" width="50.60" height="15.9" fill="#7dc8f0" stroke="#000" stroke-width="0.7"/><rect x="174.70" y="326.6" width="50.60" height="15.9" fill="#ffe040" stroke="#000" stroke-width="0.7"/><rect x="225.30" y="326.6" width="50.60" height="15.9" fill="#ff6000" stroke="#000" stroke-width="0.7"/><rect x="275.90" y="326.6" width="50.60" height="15.9" fill="#d82828" stroke="#000" stroke-width="0.7"/>
<rect x="372.90" y="326.6" width="50.60" height="15.9" fill="#4010f0" stroke="#000" stroke-width="0.7"/><rect x="423.50" y="326.6" width="50.60" height="15.9" fill="#2b7df0" stroke="#000" stroke-width="0.7"/><rect x="474.10" y="326.6" width="50.60" height="15.9" fill="#7dc8f0" stroke="#000" stroke-width="0.7"/><rect x="524.70" y="326.6" width="50.60" height="15.9" fill="#ffe040" stroke="#000" stroke-width="0.7"/><rect x="575.30" y="326.6" width="50.60" height="15.9" fill="#ff6000" stroke="#000" stroke-width="0.7"/><rect x="625.90" y="326.6" width="50.60" height="15.9" fill="#d82828" stroke="#000" stroke-width="0.7"/>
<rect x="33.90" y="604.3" width="20.30" height="15.1" fill="#4010f0" stroke="#000" stroke-width="0.7"/><rect x="54.20" y="604.3" width="20.30" height="15.1" fill="#1e32f0" stroke="#000" stroke-width="0.7"/><rect x="74.50" y="604.3" width="20.30" height="15.1" fill="#3c6ee6" stroke="#000" stroke-width="0.7"/><rect x="94.80" y="604.3" width="20.30" height="15.1" fill="#1e90ff" stroke="#000" stroke-width="0.7"/><rect x="115.10" y="604.3" width="20.30" height="15.1" fill="#00b4ff" stroke="#000" stroke-width="0.7"/><rect x="135.40" y="604.3" width="20.30" height="15.1" fill="#5abef0" stroke="#000" stroke-width="0.7"/><rect x="155.70" y="604.3" width="20.30" height="15.1" fill="#afdcf5" stroke="#000" stroke-width="0.7"/><rect x="176.00" y="604.3" width="20.30" height="15.1" fill="#fffaa0" stroke="#000" stroke-width="0.7"/><rect x="196.30" y="604.3" width="20.30" height="15.1" fill="#ffdc32" stroke="#000" stroke-width="0.7"/><rect x="216.60" y="604.3" width="20.30" height="15.1" fill="#ffaa00" stroke="#000" stroke-width="0.7"/><rect x="236.90" y="604.3" width="20.30" height="15.1" fill="#ff7800" stroke="#000" stroke-width="0.7"/><rect x="257.20" y="604.3" width="20.30" height="15.1" fill="#ff2800" stroke="#000" stroke-width="0.7"/><rect x="277.50" y="604.3" width="20.30" height="15.1" fill="#e60000" stroke="#000" stroke-width="0.7"/><rect x="297.80" y="604.3" width="20.30" height="15.1" fill="#d22828" stroke="#000" stroke-width="0.7"/>
</svg>
<div class="t" style="left:50.5px;top:65.79px;font-size:19.27px">DJF FROOTC_ALLOC (kgC/m2d)</div><div class="t" style="left:-125.6px;top:96.89px;font-size:15.6px">Myccost_I2000Clm50BgcCrop_kparams</div><div class="t" style="left:-125.6px;top:115.89px;font-size:15.6px">(yrs 1-14)</div><div class="t" style="left:224.39999999999998px;top:96.89px;font-size:15.6px">Myccost_I2000Clm50BgcCrop_control</div><div class="t" style="left:224.39999999999998px;top:115.89px;font-size:15.6px">(yrs 1-14)</div><div class="t" style="left:-125.6px;top:374.39px;font-size:15.6px">Myccost_I2000Clm50BgcCrop_kparams</div><div class="t" style="left:-125px;top:390.99px;font-size:15.6px">- Myccost_I2000Clm50BgcCrop_control</div><div class="t" style="left:225.20000000000005px;top:383.34px;font-size:15.9px">T-Test of two Case means at each grid point</div><div class="t" style="left:223.70000000000005px;top:615.27px;font-size:12.67px">Cells are significant at 0.1 level</div><div class="t" style="left:-226.5px;top:346.93px;font-size:12.6px">0</div><div class="t" style="left:-175.9px;top:346.93px;font-size:12.6px">0.0002</div><div class="t" style="left:-125.30000000000001px;top:346.93px;font-size:12.6px">0.0004</div><div class="t" style="left:-74.69999999999999px;top:346.93px;font-size:12.6px">0.0006</div><div class="t" style="left:-24.100000000000023px;top:346.93px;font-size:12.6px">0.0008</div><div class="t" style="left:123.5px;top:346.93px;font-size:12.6px">0</div><div class="t" style="left:174.10000000000002px;top:346.93px;font-size:12.6px">0.0002</div><div class="t" style="left:224.70000000000005px;top:346.93px;font-size:12.6px">0.0004</div><div class="t" style="left:275.29999999999995px;top:346.93px;font-size:12.6px">0.0006</div><div class="t" style="left:325.9px;top:346.93px;font-size:12.6px">0.0008</div><div class="t" style="left:-265.7px;top:623.43px;font-size:12.6px">-.0010193</div><div class="t" style="left:-184.5px;top:623.43px;font-size:12.6px">-.000075</div><div class="t" style="left:-123.80000000000001px;top:623.43px;font-size:12.6px">-.0000</div><div class="t" style="left:-63.5px;top:623.43px;font-size:12.6px">.000075</div><div class="t" style="left:17px;top:623.43px;font-size:12.6px">.0013858</div>
</body></html>
